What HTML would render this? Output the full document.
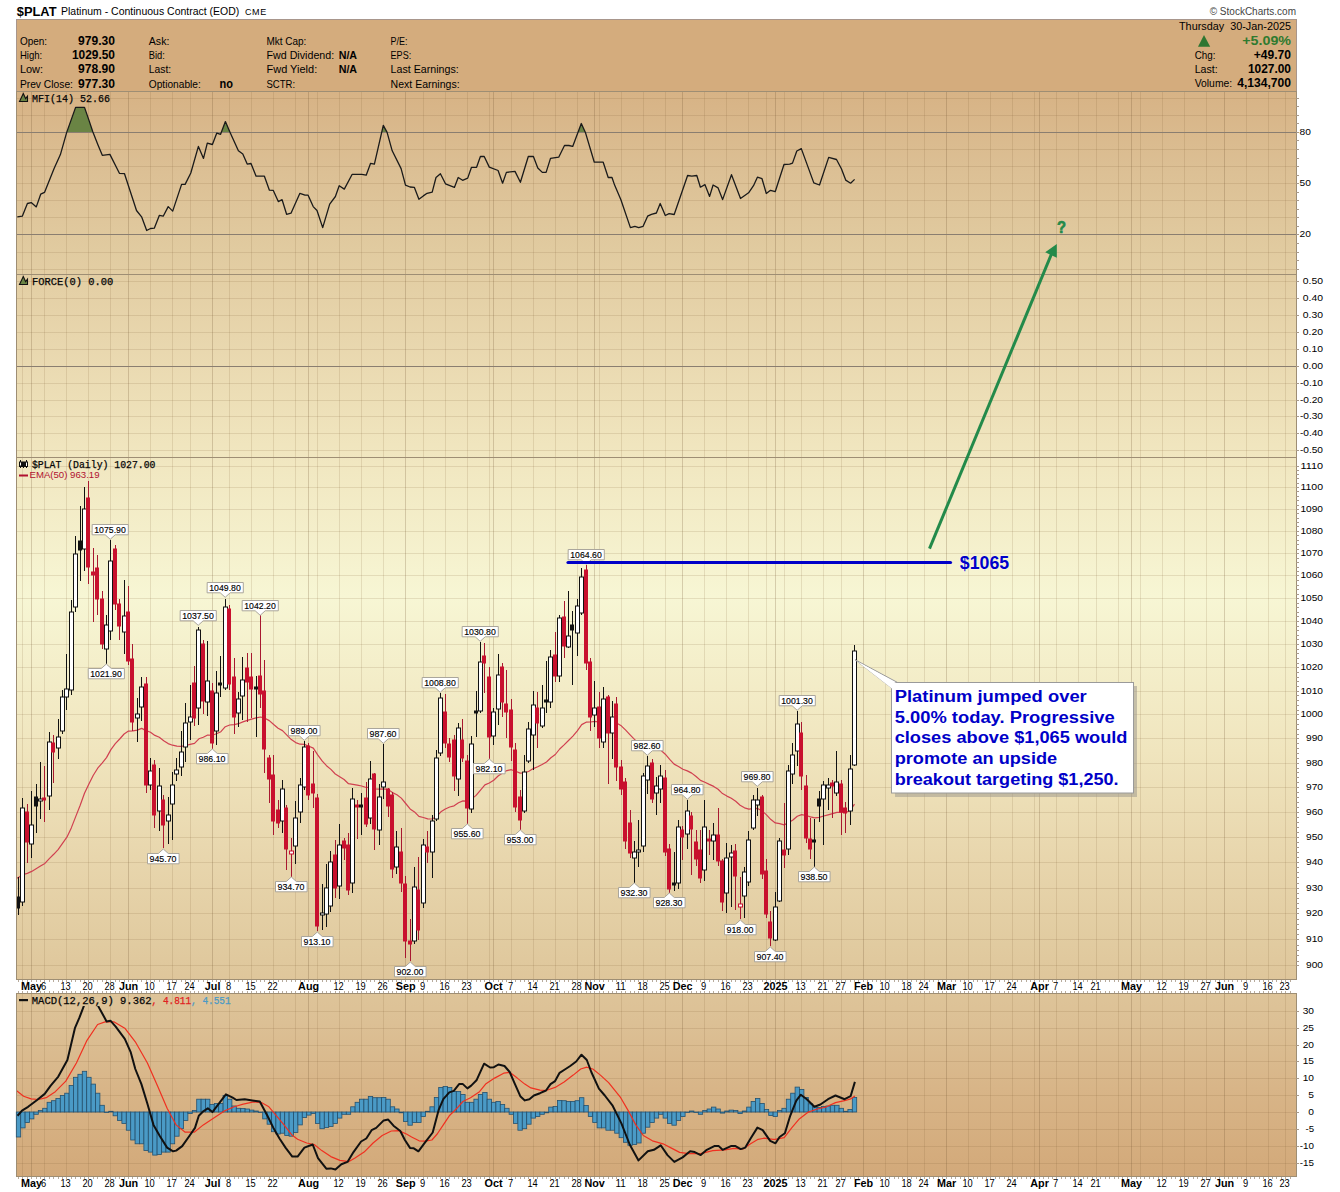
<!DOCTYPE html><html><head><meta charset="utf-8"><style>html,body{margin:0;padding:0;background:#fff;width:1340px;height:1192px;overflow:hidden;position:relative}</style></head><body><svg width="1340" height="1192" viewBox="0 0 1340 1192" style="position:absolute;left:0;top:0">
<defs>
<linearGradient id="bg" gradientUnits="userSpaceOnUse" x1="0" y1="19" x2="0" y2="1176">
<stop offset="0.0000" stop-color="#d2a97a"/>
<stop offset="0.0180" stop-color="#d4ac7d"/>
<stop offset="0.0760" stop-color="#d8b588"/>
<stop offset="0.1330" stop-color="#dcc095"/>
<stop offset="0.2000" stop-color="#e1cba0"/>
<stop offset="0.2755" stop-color="#e8d6ad"/>
<stop offset="0.3675" stop-color="#f0e5be"/>
<stop offset="0.5000" stop-color="#f7f6d4"/>
<stop offset="0.6325" stop-color="#f0e5be"/>
<stop offset="0.7245" stop-color="#e8d6ad"/>
<stop offset="0.8000" stop-color="#e1cba0"/>
<stop offset="0.8670" stop-color="#dcc095"/>
<stop offset="0.9240" stop-color="#d8b588"/>
<stop offset="0.9820" stop-color="#d4ac7d"/>
<stop offset="1.0000" stop-color="#d2a97a"/>
</linearGradient>
</defs>
<rect x="0" y="0" width="1340" height="1192" fill="#fff"/>
<rect x="16.5" y="19.5" width="1280" height="72" fill="#d4ac7d" stroke="#a8968c"/>
<rect x="16" y="91" width="1280" height="183" fill="url(#bg)"/>
<rect x="16" y="274" width="1280" height="183" fill="url(#bg)"/>
<rect x="16" y="457" width="1280" height="522" fill="url(#bg)"/>
<rect x="16" y="993" width="1280" height="183" fill="url(#bg)"/>
<line x1="1131.5" y1="91" x2="1131.5" y2="274" stroke="rgba(110,80,45,0.24)"/>
<line x1="577.5" y1="91" x2="577.5" y2="274" stroke="rgba(120,90,50,0.15)"/>
<line x1="1140.5" y1="91" x2="1140.5" y2="274" stroke="rgba(120,90,50,0.15)"/>
<line x1="22.5" y1="91" x2="22.5" y2="274" stroke="rgba(120,90,50,0.15)"/>
<line x1="31.5" y1="91" x2="31.5" y2="274" stroke="rgba(110,80,45,0.24)"/>
<line x1="599.5" y1="91" x2="599.5" y2="274" stroke="rgba(120,90,50,0.15)"/>
<line x1="1162.5" y1="91" x2="1162.5" y2="274" stroke="rgba(120,90,50,0.15)"/>
<line x1="44.5" y1="91" x2="44.5" y2="274" stroke="rgba(120,90,50,0.15)"/>
<line x1="594.5" y1="91" x2="594.5" y2="274" stroke="rgba(110,80,45,0.24)"/>
<line x1="621.5" y1="91" x2="621.5" y2="274" stroke="rgba(120,90,50,0.15)"/>
<line x1="1184.5" y1="91" x2="1184.5" y2="274" stroke="rgba(120,90,50,0.15)"/>
<line x1="66.5" y1="91" x2="66.5" y2="274" stroke="rgba(120,90,50,0.15)"/>
<line x1="643.5" y1="91" x2="643.5" y2="274" stroke="rgba(120,90,50,0.15)"/>
<line x1="1206.5" y1="91" x2="1206.5" y2="274" stroke="rgba(120,90,50,0.15)"/>
<line x1="88.5" y1="91" x2="88.5" y2="274" stroke="rgba(120,90,50,0.15)"/>
<line x1="1224.5" y1="91" x2="1224.5" y2="274" stroke="rgba(110,80,45,0.24)"/>
<line x1="665.5" y1="91" x2="665.5" y2="274" stroke="rgba(120,90,50,0.15)"/>
<line x1="110.5" y1="91" x2="110.5" y2="274" stroke="rgba(120,90,50,0.15)"/>
<line x1="682.5" y1="91" x2="682.5" y2="274" stroke="rgba(110,80,45,0.24)"/>
<line x1="1246.5" y1="91" x2="1246.5" y2="274" stroke="rgba(120,90,50,0.15)"/>
<line x1="128.5" y1="91" x2="128.5" y2="274" stroke="rgba(110,80,45,0.24)"/>
<line x1="704.5" y1="91" x2="704.5" y2="274" stroke="rgba(120,90,50,0.15)"/>
<line x1="1268.5" y1="91" x2="1268.5" y2="274" stroke="rgba(120,90,50,0.15)"/>
<line x1="150.5" y1="91" x2="150.5" y2="274" stroke="rgba(120,90,50,0.15)"/>
<line x1="1285.5" y1="91" x2="1285.5" y2="274" stroke="rgba(120,90,50,0.15)"/>
<line x1="726.5" y1="91" x2="726.5" y2="274" stroke="rgba(120,90,50,0.15)"/>
<line x1="172.5" y1="91" x2="172.5" y2="274" stroke="rgba(120,90,50,0.15)"/>
<line x1="748.5" y1="91" x2="748.5" y2="274" stroke="rgba(120,90,50,0.15)"/>
<line x1="190.5" y1="91" x2="190.5" y2="274" stroke="rgba(120,90,50,0.15)"/>
<line x1="766.5" y1="91" x2="766.5" y2="274" stroke="rgba(120,90,50,0.15)"/>
<line x1="212.5" y1="91" x2="212.5" y2="274" stroke="rgba(110,80,45,0.24)"/>
<line x1="775.5" y1="91" x2="775.5" y2="274" stroke="rgba(110,80,45,0.24)"/>
<line x1="784.5" y1="91" x2="784.5" y2="274" stroke="rgba(120,90,50,0.15)"/>
<line x1="229.5" y1="91" x2="229.5" y2="274" stroke="rgba(120,90,50,0.15)"/>
<line x1="801.5" y1="91" x2="801.5" y2="274" stroke="rgba(120,90,50,0.15)"/>
<line x1="251.5" y1="91" x2="251.5" y2="274" stroke="rgba(120,90,50,0.15)"/>
<line x1="823.5" y1="91" x2="823.5" y2="274" stroke="rgba(120,90,50,0.15)"/>
<line x1="273.5" y1="91" x2="273.5" y2="274" stroke="rgba(120,90,50,0.15)"/>
<line x1="841.5" y1="91" x2="841.5" y2="274" stroke="rgba(120,90,50,0.15)"/>
<line x1="295.5" y1="91" x2="295.5" y2="274" stroke="rgba(120,90,50,0.15)"/>
<line x1="863.5" y1="91" x2="863.5" y2="274" stroke="rgba(110,80,45,0.24)"/>
<line x1="308.5" y1="91" x2="308.5" y2="274" stroke="rgba(110,80,45,0.24)"/>
<line x1="317.5" y1="91" x2="317.5" y2="274" stroke="rgba(120,90,50,0.15)"/>
<line x1="885.5" y1="91" x2="885.5" y2="274" stroke="rgba(120,90,50,0.15)"/>
<line x1="339.5" y1="91" x2="339.5" y2="274" stroke="rgba(120,90,50,0.15)"/>
<line x1="907.5" y1="91" x2="907.5" y2="274" stroke="rgba(120,90,50,0.15)"/>
<line x1="361.5" y1="91" x2="361.5" y2="274" stroke="rgba(120,90,50,0.15)"/>
<line x1="924.5" y1="91" x2="924.5" y2="274" stroke="rgba(120,90,50,0.15)"/>
<line x1="383.5" y1="91" x2="383.5" y2="274" stroke="rgba(120,90,50,0.15)"/>
<line x1="946.5" y1="91" x2="946.5" y2="274" stroke="rgba(110,80,45,0.24)"/>
<line x1="405.5" y1="91" x2="405.5" y2="274" stroke="rgba(110,80,45,0.24)"/>
<line x1="968.5" y1="91" x2="968.5" y2="274" stroke="rgba(120,90,50,0.15)"/>
<line x1="423.5" y1="91" x2="423.5" y2="274" stroke="rgba(120,90,50,0.15)"/>
<line x1="990.5" y1="91" x2="990.5" y2="274" stroke="rgba(120,90,50,0.15)"/>
<line x1="445.5" y1="91" x2="445.5" y2="274" stroke="rgba(120,90,50,0.15)"/>
<line x1="1012.5" y1="91" x2="1012.5" y2="274" stroke="rgba(120,90,50,0.15)"/>
<line x1="1096.5" y1="91" x2="1096.5" y2="274" stroke="rgba(120,90,50,0.15)"/>
<line x1="467.5" y1="91" x2="467.5" y2="274" stroke="rgba(120,90,50,0.15)"/>
<line x1="1034.5" y1="91" x2="1034.5" y2="274" stroke="rgba(120,90,50,0.15)"/>
<line x1="1039.5" y1="91" x2="1039.5" y2="274" stroke="rgba(110,80,45,0.24)"/>
<line x1="489.5" y1="91" x2="489.5" y2="274" stroke="rgba(120,90,50,0.15)"/>
<line x1="1056.5" y1="91" x2="1056.5" y2="274" stroke="rgba(120,90,50,0.15)"/>
<line x1="493.5" y1="91" x2="493.5" y2="274" stroke="rgba(110,80,45,0.24)"/>
<line x1="511.5" y1="91" x2="511.5" y2="274" stroke="rgba(120,90,50,0.15)"/>
<line x1="1078.5" y1="91" x2="1078.5" y2="274" stroke="rgba(120,90,50,0.15)"/>
<line x1="1118.5" y1="91" x2="1118.5" y2="274" stroke="rgba(120,90,50,0.15)"/>
<line x1="533.5" y1="91" x2="533.5" y2="274" stroke="rgba(120,90,50,0.15)"/>
<line x1="555.5" y1="91" x2="555.5" y2="274" stroke="rgba(120,90,50,0.15)"/>
<line x1="1131.5" y1="274" x2="1131.5" y2="457" stroke="rgba(110,80,45,0.24)"/>
<line x1="577.5" y1="274" x2="577.5" y2="457" stroke="rgba(120,90,50,0.15)"/>
<line x1="1140.5" y1="274" x2="1140.5" y2="457" stroke="rgba(120,90,50,0.15)"/>
<line x1="22.5" y1="274" x2="22.5" y2="457" stroke="rgba(120,90,50,0.15)"/>
<line x1="31.5" y1="274" x2="31.5" y2="457" stroke="rgba(110,80,45,0.24)"/>
<line x1="599.5" y1="274" x2="599.5" y2="457" stroke="rgba(120,90,50,0.15)"/>
<line x1="1162.5" y1="274" x2="1162.5" y2="457" stroke="rgba(120,90,50,0.15)"/>
<line x1="44.5" y1="274" x2="44.5" y2="457" stroke="rgba(120,90,50,0.15)"/>
<line x1="594.5" y1="274" x2="594.5" y2="457" stroke="rgba(110,80,45,0.24)"/>
<line x1="621.5" y1="274" x2="621.5" y2="457" stroke="rgba(120,90,50,0.15)"/>
<line x1="1184.5" y1="274" x2="1184.5" y2="457" stroke="rgba(120,90,50,0.15)"/>
<line x1="66.5" y1="274" x2="66.5" y2="457" stroke="rgba(120,90,50,0.15)"/>
<line x1="643.5" y1="274" x2="643.5" y2="457" stroke="rgba(120,90,50,0.15)"/>
<line x1="1206.5" y1="274" x2="1206.5" y2="457" stroke="rgba(120,90,50,0.15)"/>
<line x1="88.5" y1="274" x2="88.5" y2="457" stroke="rgba(120,90,50,0.15)"/>
<line x1="1224.5" y1="274" x2="1224.5" y2="457" stroke="rgba(110,80,45,0.24)"/>
<line x1="665.5" y1="274" x2="665.5" y2="457" stroke="rgba(120,90,50,0.15)"/>
<line x1="110.5" y1="274" x2="110.5" y2="457" stroke="rgba(120,90,50,0.15)"/>
<line x1="682.5" y1="274" x2="682.5" y2="457" stroke="rgba(110,80,45,0.24)"/>
<line x1="1246.5" y1="274" x2="1246.5" y2="457" stroke="rgba(120,90,50,0.15)"/>
<line x1="128.5" y1="274" x2="128.5" y2="457" stroke="rgba(110,80,45,0.24)"/>
<line x1="704.5" y1="274" x2="704.5" y2="457" stroke="rgba(120,90,50,0.15)"/>
<line x1="1268.5" y1="274" x2="1268.5" y2="457" stroke="rgba(120,90,50,0.15)"/>
<line x1="150.5" y1="274" x2="150.5" y2="457" stroke="rgba(120,90,50,0.15)"/>
<line x1="1285.5" y1="274" x2="1285.5" y2="457" stroke="rgba(120,90,50,0.15)"/>
<line x1="726.5" y1="274" x2="726.5" y2="457" stroke="rgba(120,90,50,0.15)"/>
<line x1="172.5" y1="274" x2="172.5" y2="457" stroke="rgba(120,90,50,0.15)"/>
<line x1="748.5" y1="274" x2="748.5" y2="457" stroke="rgba(120,90,50,0.15)"/>
<line x1="190.5" y1="274" x2="190.5" y2="457" stroke="rgba(120,90,50,0.15)"/>
<line x1="766.5" y1="274" x2="766.5" y2="457" stroke="rgba(120,90,50,0.15)"/>
<line x1="212.5" y1="274" x2="212.5" y2="457" stroke="rgba(110,80,45,0.24)"/>
<line x1="775.5" y1="274" x2="775.5" y2="457" stroke="rgba(110,80,45,0.24)"/>
<line x1="784.5" y1="274" x2="784.5" y2="457" stroke="rgba(120,90,50,0.15)"/>
<line x1="229.5" y1="274" x2="229.5" y2="457" stroke="rgba(120,90,50,0.15)"/>
<line x1="801.5" y1="274" x2="801.5" y2="457" stroke="rgba(120,90,50,0.15)"/>
<line x1="251.5" y1="274" x2="251.5" y2="457" stroke="rgba(120,90,50,0.15)"/>
<line x1="823.5" y1="274" x2="823.5" y2="457" stroke="rgba(120,90,50,0.15)"/>
<line x1="273.5" y1="274" x2="273.5" y2="457" stroke="rgba(120,90,50,0.15)"/>
<line x1="841.5" y1="274" x2="841.5" y2="457" stroke="rgba(120,90,50,0.15)"/>
<line x1="295.5" y1="274" x2="295.5" y2="457" stroke="rgba(120,90,50,0.15)"/>
<line x1="863.5" y1="274" x2="863.5" y2="457" stroke="rgba(110,80,45,0.24)"/>
<line x1="308.5" y1="274" x2="308.5" y2="457" stroke="rgba(110,80,45,0.24)"/>
<line x1="317.5" y1="274" x2="317.5" y2="457" stroke="rgba(120,90,50,0.15)"/>
<line x1="885.5" y1="274" x2="885.5" y2="457" stroke="rgba(120,90,50,0.15)"/>
<line x1="339.5" y1="274" x2="339.5" y2="457" stroke="rgba(120,90,50,0.15)"/>
<line x1="907.5" y1="274" x2="907.5" y2="457" stroke="rgba(120,90,50,0.15)"/>
<line x1="361.5" y1="274" x2="361.5" y2="457" stroke="rgba(120,90,50,0.15)"/>
<line x1="924.5" y1="274" x2="924.5" y2="457" stroke="rgba(120,90,50,0.15)"/>
<line x1="383.5" y1="274" x2="383.5" y2="457" stroke="rgba(120,90,50,0.15)"/>
<line x1="946.5" y1="274" x2="946.5" y2="457" stroke="rgba(110,80,45,0.24)"/>
<line x1="405.5" y1="274" x2="405.5" y2="457" stroke="rgba(110,80,45,0.24)"/>
<line x1="968.5" y1="274" x2="968.5" y2="457" stroke="rgba(120,90,50,0.15)"/>
<line x1="423.5" y1="274" x2="423.5" y2="457" stroke="rgba(120,90,50,0.15)"/>
<line x1="990.5" y1="274" x2="990.5" y2="457" stroke="rgba(120,90,50,0.15)"/>
<line x1="445.5" y1="274" x2="445.5" y2="457" stroke="rgba(120,90,50,0.15)"/>
<line x1="1012.5" y1="274" x2="1012.5" y2="457" stroke="rgba(120,90,50,0.15)"/>
<line x1="1096.5" y1="274" x2="1096.5" y2="457" stroke="rgba(120,90,50,0.15)"/>
<line x1="467.5" y1="274" x2="467.5" y2="457" stroke="rgba(120,90,50,0.15)"/>
<line x1="1034.5" y1="274" x2="1034.5" y2="457" stroke="rgba(120,90,50,0.15)"/>
<line x1="1039.5" y1="274" x2="1039.5" y2="457" stroke="rgba(110,80,45,0.24)"/>
<line x1="489.5" y1="274" x2="489.5" y2="457" stroke="rgba(120,90,50,0.15)"/>
<line x1="1056.5" y1="274" x2="1056.5" y2="457" stroke="rgba(120,90,50,0.15)"/>
<line x1="493.5" y1="274" x2="493.5" y2="457" stroke="rgba(110,80,45,0.24)"/>
<line x1="511.5" y1="274" x2="511.5" y2="457" stroke="rgba(120,90,50,0.15)"/>
<line x1="1078.5" y1="274" x2="1078.5" y2="457" stroke="rgba(120,90,50,0.15)"/>
<line x1="1118.5" y1="274" x2="1118.5" y2="457" stroke="rgba(120,90,50,0.15)"/>
<line x1="533.5" y1="274" x2="533.5" y2="457" stroke="rgba(120,90,50,0.15)"/>
<line x1="555.5" y1="274" x2="555.5" y2="457" stroke="rgba(120,90,50,0.15)"/>
<line x1="1131.5" y1="457" x2="1131.5" y2="979" stroke="rgba(110,80,45,0.24)"/>
<line x1="577.5" y1="457" x2="577.5" y2="979" stroke="rgba(120,90,50,0.15)"/>
<line x1="1140.5" y1="457" x2="1140.5" y2="979" stroke="rgba(120,90,50,0.15)"/>
<line x1="22.5" y1="457" x2="22.5" y2="979" stroke="rgba(120,90,50,0.15)"/>
<line x1="31.5" y1="457" x2="31.5" y2="979" stroke="rgba(110,80,45,0.24)"/>
<line x1="599.5" y1="457" x2="599.5" y2="979" stroke="rgba(120,90,50,0.15)"/>
<line x1="1162.5" y1="457" x2="1162.5" y2="979" stroke="rgba(120,90,50,0.15)"/>
<line x1="44.5" y1="457" x2="44.5" y2="979" stroke="rgba(120,90,50,0.15)"/>
<line x1="594.5" y1="457" x2="594.5" y2="979" stroke="rgba(110,80,45,0.24)"/>
<line x1="621.5" y1="457" x2="621.5" y2="979" stroke="rgba(120,90,50,0.15)"/>
<line x1="1184.5" y1="457" x2="1184.5" y2="979" stroke="rgba(120,90,50,0.15)"/>
<line x1="66.5" y1="457" x2="66.5" y2="979" stroke="rgba(120,90,50,0.15)"/>
<line x1="643.5" y1="457" x2="643.5" y2="979" stroke="rgba(120,90,50,0.15)"/>
<line x1="1206.5" y1="457" x2="1206.5" y2="979" stroke="rgba(120,90,50,0.15)"/>
<line x1="88.5" y1="457" x2="88.5" y2="979" stroke="rgba(120,90,50,0.15)"/>
<line x1="1224.5" y1="457" x2="1224.5" y2="979" stroke="rgba(110,80,45,0.24)"/>
<line x1="665.5" y1="457" x2="665.5" y2="979" stroke="rgba(120,90,50,0.15)"/>
<line x1="110.5" y1="457" x2="110.5" y2="979" stroke="rgba(120,90,50,0.15)"/>
<line x1="682.5" y1="457" x2="682.5" y2="979" stroke="rgba(110,80,45,0.24)"/>
<line x1="1246.5" y1="457" x2="1246.5" y2="979" stroke="rgba(120,90,50,0.15)"/>
<line x1="128.5" y1="457" x2="128.5" y2="979" stroke="rgba(110,80,45,0.24)"/>
<line x1="704.5" y1="457" x2="704.5" y2="979" stroke="rgba(120,90,50,0.15)"/>
<line x1="1268.5" y1="457" x2="1268.5" y2="979" stroke="rgba(120,90,50,0.15)"/>
<line x1="150.5" y1="457" x2="150.5" y2="979" stroke="rgba(120,90,50,0.15)"/>
<line x1="1285.5" y1="457" x2="1285.5" y2="979" stroke="rgba(120,90,50,0.15)"/>
<line x1="726.5" y1="457" x2="726.5" y2="979" stroke="rgba(120,90,50,0.15)"/>
<line x1="172.5" y1="457" x2="172.5" y2="979" stroke="rgba(120,90,50,0.15)"/>
<line x1="748.5" y1="457" x2="748.5" y2="979" stroke="rgba(120,90,50,0.15)"/>
<line x1="190.5" y1="457" x2="190.5" y2="979" stroke="rgba(120,90,50,0.15)"/>
<line x1="766.5" y1="457" x2="766.5" y2="979" stroke="rgba(120,90,50,0.15)"/>
<line x1="212.5" y1="457" x2="212.5" y2="979" stroke="rgba(110,80,45,0.24)"/>
<line x1="775.5" y1="457" x2="775.5" y2="979" stroke="rgba(110,80,45,0.24)"/>
<line x1="784.5" y1="457" x2="784.5" y2="979" stroke="rgba(120,90,50,0.15)"/>
<line x1="229.5" y1="457" x2="229.5" y2="979" stroke="rgba(120,90,50,0.15)"/>
<line x1="801.5" y1="457" x2="801.5" y2="979" stroke="rgba(120,90,50,0.15)"/>
<line x1="251.5" y1="457" x2="251.5" y2="979" stroke="rgba(120,90,50,0.15)"/>
<line x1="823.5" y1="457" x2="823.5" y2="979" stroke="rgba(120,90,50,0.15)"/>
<line x1="273.5" y1="457" x2="273.5" y2="979" stroke="rgba(120,90,50,0.15)"/>
<line x1="841.5" y1="457" x2="841.5" y2="979" stroke="rgba(120,90,50,0.15)"/>
<line x1="295.5" y1="457" x2="295.5" y2="979" stroke="rgba(120,90,50,0.15)"/>
<line x1="863.5" y1="457" x2="863.5" y2="979" stroke="rgba(110,80,45,0.24)"/>
<line x1="308.5" y1="457" x2="308.5" y2="979" stroke="rgba(110,80,45,0.24)"/>
<line x1="317.5" y1="457" x2="317.5" y2="979" stroke="rgba(120,90,50,0.15)"/>
<line x1="885.5" y1="457" x2="885.5" y2="979" stroke="rgba(120,90,50,0.15)"/>
<line x1="339.5" y1="457" x2="339.5" y2="979" stroke="rgba(120,90,50,0.15)"/>
<line x1="907.5" y1="457" x2="907.5" y2="979" stroke="rgba(120,90,50,0.15)"/>
<line x1="361.5" y1="457" x2="361.5" y2="979" stroke="rgba(120,90,50,0.15)"/>
<line x1="924.5" y1="457" x2="924.5" y2="979" stroke="rgba(120,90,50,0.15)"/>
<line x1="383.5" y1="457" x2="383.5" y2="979" stroke="rgba(120,90,50,0.15)"/>
<line x1="946.5" y1="457" x2="946.5" y2="979" stroke="rgba(110,80,45,0.24)"/>
<line x1="405.5" y1="457" x2="405.5" y2="979" stroke="rgba(110,80,45,0.24)"/>
<line x1="968.5" y1="457" x2="968.5" y2="979" stroke="rgba(120,90,50,0.15)"/>
<line x1="423.5" y1="457" x2="423.5" y2="979" stroke="rgba(120,90,50,0.15)"/>
<line x1="990.5" y1="457" x2="990.5" y2="979" stroke="rgba(120,90,50,0.15)"/>
<line x1="445.5" y1="457" x2="445.5" y2="979" stroke="rgba(120,90,50,0.15)"/>
<line x1="1012.5" y1="457" x2="1012.5" y2="979" stroke="rgba(120,90,50,0.15)"/>
<line x1="1096.5" y1="457" x2="1096.5" y2="979" stroke="rgba(120,90,50,0.15)"/>
<line x1="467.5" y1="457" x2="467.5" y2="979" stroke="rgba(120,90,50,0.15)"/>
<line x1="1034.5" y1="457" x2="1034.5" y2="979" stroke="rgba(120,90,50,0.15)"/>
<line x1="1039.5" y1="457" x2="1039.5" y2="979" stroke="rgba(110,80,45,0.24)"/>
<line x1="489.5" y1="457" x2="489.5" y2="979" stroke="rgba(120,90,50,0.15)"/>
<line x1="1056.5" y1="457" x2="1056.5" y2="979" stroke="rgba(120,90,50,0.15)"/>
<line x1="493.5" y1="457" x2="493.5" y2="979" stroke="rgba(110,80,45,0.24)"/>
<line x1="511.5" y1="457" x2="511.5" y2="979" stroke="rgba(120,90,50,0.15)"/>
<line x1="1078.5" y1="457" x2="1078.5" y2="979" stroke="rgba(120,90,50,0.15)"/>
<line x1="1118.5" y1="457" x2="1118.5" y2="979" stroke="rgba(120,90,50,0.15)"/>
<line x1="533.5" y1="457" x2="533.5" y2="979" stroke="rgba(120,90,50,0.15)"/>
<line x1="555.5" y1="457" x2="555.5" y2="979" stroke="rgba(120,90,50,0.15)"/>
<line x1="1131.5" y1="993" x2="1131.5" y2="1176" stroke="rgba(110,80,45,0.24)"/>
<line x1="577.5" y1="993" x2="577.5" y2="1176" stroke="rgba(120,90,50,0.15)"/>
<line x1="1140.5" y1="993" x2="1140.5" y2="1176" stroke="rgba(120,90,50,0.15)"/>
<line x1="22.5" y1="993" x2="22.5" y2="1176" stroke="rgba(120,90,50,0.15)"/>
<line x1="31.5" y1="993" x2="31.5" y2="1176" stroke="rgba(110,80,45,0.24)"/>
<line x1="599.5" y1="993" x2="599.5" y2="1176" stroke="rgba(120,90,50,0.15)"/>
<line x1="1162.5" y1="993" x2="1162.5" y2="1176" stroke="rgba(120,90,50,0.15)"/>
<line x1="44.5" y1="993" x2="44.5" y2="1176" stroke="rgba(120,90,50,0.15)"/>
<line x1="594.5" y1="993" x2="594.5" y2="1176" stroke="rgba(110,80,45,0.24)"/>
<line x1="621.5" y1="993" x2="621.5" y2="1176" stroke="rgba(120,90,50,0.15)"/>
<line x1="1184.5" y1="993" x2="1184.5" y2="1176" stroke="rgba(120,90,50,0.15)"/>
<line x1="66.5" y1="993" x2="66.5" y2="1176" stroke="rgba(120,90,50,0.15)"/>
<line x1="643.5" y1="993" x2="643.5" y2="1176" stroke="rgba(120,90,50,0.15)"/>
<line x1="1206.5" y1="993" x2="1206.5" y2="1176" stroke="rgba(120,90,50,0.15)"/>
<line x1="88.5" y1="993" x2="88.5" y2="1176" stroke="rgba(120,90,50,0.15)"/>
<line x1="1224.5" y1="993" x2="1224.5" y2="1176" stroke="rgba(110,80,45,0.24)"/>
<line x1="665.5" y1="993" x2="665.5" y2="1176" stroke="rgba(120,90,50,0.15)"/>
<line x1="110.5" y1="993" x2="110.5" y2="1176" stroke="rgba(120,90,50,0.15)"/>
<line x1="682.5" y1="993" x2="682.5" y2="1176" stroke="rgba(110,80,45,0.24)"/>
<line x1="1246.5" y1="993" x2="1246.5" y2="1176" stroke="rgba(120,90,50,0.15)"/>
<line x1="128.5" y1="993" x2="128.5" y2="1176" stroke="rgba(110,80,45,0.24)"/>
<line x1="704.5" y1="993" x2="704.5" y2="1176" stroke="rgba(120,90,50,0.15)"/>
<line x1="1268.5" y1="993" x2="1268.5" y2="1176" stroke="rgba(120,90,50,0.15)"/>
<line x1="150.5" y1="993" x2="150.5" y2="1176" stroke="rgba(120,90,50,0.15)"/>
<line x1="1285.5" y1="993" x2="1285.5" y2="1176" stroke="rgba(120,90,50,0.15)"/>
<line x1="726.5" y1="993" x2="726.5" y2="1176" stroke="rgba(120,90,50,0.15)"/>
<line x1="172.5" y1="993" x2="172.5" y2="1176" stroke="rgba(120,90,50,0.15)"/>
<line x1="748.5" y1="993" x2="748.5" y2="1176" stroke="rgba(120,90,50,0.15)"/>
<line x1="190.5" y1="993" x2="190.5" y2="1176" stroke="rgba(120,90,50,0.15)"/>
<line x1="766.5" y1="993" x2="766.5" y2="1176" stroke="rgba(120,90,50,0.15)"/>
<line x1="212.5" y1="993" x2="212.5" y2="1176" stroke="rgba(110,80,45,0.24)"/>
<line x1="775.5" y1="993" x2="775.5" y2="1176" stroke="rgba(110,80,45,0.24)"/>
<line x1="784.5" y1="993" x2="784.5" y2="1176" stroke="rgba(120,90,50,0.15)"/>
<line x1="229.5" y1="993" x2="229.5" y2="1176" stroke="rgba(120,90,50,0.15)"/>
<line x1="801.5" y1="993" x2="801.5" y2="1176" stroke="rgba(120,90,50,0.15)"/>
<line x1="251.5" y1="993" x2="251.5" y2="1176" stroke="rgba(120,90,50,0.15)"/>
<line x1="823.5" y1="993" x2="823.5" y2="1176" stroke="rgba(120,90,50,0.15)"/>
<line x1="273.5" y1="993" x2="273.5" y2="1176" stroke="rgba(120,90,50,0.15)"/>
<line x1="841.5" y1="993" x2="841.5" y2="1176" stroke="rgba(120,90,50,0.15)"/>
<line x1="295.5" y1="993" x2="295.5" y2="1176" stroke="rgba(120,90,50,0.15)"/>
<line x1="863.5" y1="993" x2="863.5" y2="1176" stroke="rgba(110,80,45,0.24)"/>
<line x1="308.5" y1="993" x2="308.5" y2="1176" stroke="rgba(110,80,45,0.24)"/>
<line x1="317.5" y1="993" x2="317.5" y2="1176" stroke="rgba(120,90,50,0.15)"/>
<line x1="885.5" y1="993" x2="885.5" y2="1176" stroke="rgba(120,90,50,0.15)"/>
<line x1="339.5" y1="993" x2="339.5" y2="1176" stroke="rgba(120,90,50,0.15)"/>
<line x1="907.5" y1="993" x2="907.5" y2="1176" stroke="rgba(120,90,50,0.15)"/>
<line x1="361.5" y1="993" x2="361.5" y2="1176" stroke="rgba(120,90,50,0.15)"/>
<line x1="924.5" y1="993" x2="924.5" y2="1176" stroke="rgba(120,90,50,0.15)"/>
<line x1="383.5" y1="993" x2="383.5" y2="1176" stroke="rgba(120,90,50,0.15)"/>
<line x1="946.5" y1="993" x2="946.5" y2="1176" stroke="rgba(110,80,45,0.24)"/>
<line x1="405.5" y1="993" x2="405.5" y2="1176" stroke="rgba(110,80,45,0.24)"/>
<line x1="968.5" y1="993" x2="968.5" y2="1176" stroke="rgba(120,90,50,0.15)"/>
<line x1="423.5" y1="993" x2="423.5" y2="1176" stroke="rgba(120,90,50,0.15)"/>
<line x1="990.5" y1="993" x2="990.5" y2="1176" stroke="rgba(120,90,50,0.15)"/>
<line x1="445.5" y1="993" x2="445.5" y2="1176" stroke="rgba(120,90,50,0.15)"/>
<line x1="1012.5" y1="993" x2="1012.5" y2="1176" stroke="rgba(120,90,50,0.15)"/>
<line x1="1096.5" y1="993" x2="1096.5" y2="1176" stroke="rgba(120,90,50,0.15)"/>
<line x1="467.5" y1="993" x2="467.5" y2="1176" stroke="rgba(120,90,50,0.15)"/>
<line x1="1034.5" y1="993" x2="1034.5" y2="1176" stroke="rgba(120,90,50,0.15)"/>
<line x1="1039.5" y1="993" x2="1039.5" y2="1176" stroke="rgba(110,80,45,0.24)"/>
<line x1="489.5" y1="993" x2="489.5" y2="1176" stroke="rgba(120,90,50,0.15)"/>
<line x1="1056.5" y1="993" x2="1056.5" y2="1176" stroke="rgba(120,90,50,0.15)"/>
<line x1="493.5" y1="993" x2="493.5" y2="1176" stroke="rgba(110,80,45,0.24)"/>
<line x1="511.5" y1="993" x2="511.5" y2="1176" stroke="rgba(120,90,50,0.15)"/>
<line x1="1078.5" y1="993" x2="1078.5" y2="1176" stroke="rgba(120,90,50,0.15)"/>
<line x1="1118.5" y1="993" x2="1118.5" y2="1176" stroke="rgba(120,90,50,0.15)"/>
<line x1="533.5" y1="993" x2="533.5" y2="1176" stroke="rgba(120,90,50,0.15)"/>
<line x1="555.5" y1="993" x2="555.5" y2="1176" stroke="rgba(120,90,50,0.15)"/>
<line x1="16" y1="269.5" x2="1296" y2="269.5" stroke="rgba(120,90,50,0.15)"/>
<line x1="16" y1="252.5" x2="1296" y2="252.5" stroke="rgba(120,90,50,0.15)"/>
<line x1="16" y1="234.5" x2="1296" y2="234.5" stroke="#8a7e70"/>
<line x1="16" y1="217.5" x2="1296" y2="217.5" stroke="rgba(120,90,50,0.15)"/>
<line x1="16" y1="200.5" x2="1296" y2="200.5" stroke="rgba(120,90,50,0.15)"/>
<line x1="16" y1="183.5" x2="1296" y2="183.5" stroke="rgba(120,90,50,0.15)"/>
<line x1="16" y1="166.5" x2="1296" y2="166.5" stroke="rgba(120,90,50,0.15)"/>
<line x1="16" y1="149.5" x2="1296" y2="149.5" stroke="rgba(120,90,50,0.15)"/>
<line x1="16" y1="132.5" x2="1296" y2="132.5" stroke="#8a7e70"/>
<line x1="16" y1="115.5" x2="1296" y2="115.5" stroke="rgba(120,90,50,0.15)"/>
<line x1="16" y1="98.5" x2="1296" y2="98.5" stroke="rgba(120,90,50,0.15)"/>
<line x1="16" y1="450.5" x2="1296" y2="450.5" stroke="rgba(120,90,50,0.15)"/>
<line x1="16" y1="433.5" x2="1296" y2="433.5" stroke="rgba(120,90,50,0.15)"/>
<line x1="16" y1="416.5" x2="1296" y2="416.5" stroke="rgba(120,90,50,0.15)"/>
<line x1="16" y1="400.5" x2="1296" y2="400.5" stroke="rgba(120,90,50,0.15)"/>
<line x1="16" y1="383.5" x2="1296" y2="383.5" stroke="rgba(120,90,50,0.15)"/>
<line x1="16" y1="366.5" x2="1296" y2="366.5" stroke="#8a7e70"/>
<line x1="16" y1="349.5" x2="1296" y2="349.5" stroke="rgba(120,90,50,0.15)"/>
<line x1="16" y1="332.5" x2="1296" y2="332.5" stroke="rgba(120,90,50,0.15)"/>
<line x1="16" y1="315.5" x2="1296" y2="315.5" stroke="rgba(120,90,50,0.15)"/>
<line x1="16" y1="298.5" x2="1296" y2="298.5" stroke="rgba(120,90,50,0.15)"/>
<line x1="16" y1="281.5" x2="1296" y2="281.5" stroke="rgba(120,90,50,0.15)"/>
<line x1="16" y1="965.5" x2="1296" y2="965.5" stroke="rgba(120,90,50,0.15)"/>
<line x1="16" y1="939.5" x2="1296" y2="939.5" stroke="rgba(120,90,50,0.15)"/>
<line x1="16" y1="913.5" x2="1296" y2="913.5" stroke="rgba(120,90,50,0.15)"/>
<line x1="16" y1="888.5" x2="1296" y2="888.5" stroke="rgba(120,90,50,0.15)"/>
<line x1="16" y1="862.5" x2="1296" y2="862.5" stroke="rgba(120,90,50,0.15)"/>
<line x1="16" y1="837.5" x2="1296" y2="837.5" stroke="rgba(120,90,50,0.15)"/>
<line x1="16" y1="812.5" x2="1296" y2="812.5" stroke="rgba(120,90,50,0.15)"/>
<line x1="16" y1="787.5" x2="1296" y2="787.5" stroke="rgba(120,90,50,0.15)"/>
<line x1="16" y1="763.5" x2="1296" y2="763.5" stroke="rgba(120,90,50,0.15)"/>
<line x1="16" y1="738.5" x2="1296" y2="738.5" stroke="rgba(120,90,50,0.15)"/>
<line x1="16" y1="714.5" x2="1296" y2="714.5" stroke="rgba(120,90,50,0.15)"/>
<line x1="16" y1="691.5" x2="1296" y2="691.5" stroke="rgba(120,90,50,0.15)"/>
<line x1="16" y1="667.5" x2="1296" y2="667.5" stroke="rgba(120,90,50,0.15)"/>
<line x1="16" y1="644.5" x2="1296" y2="644.5" stroke="rgba(120,90,50,0.15)"/>
<line x1="16" y1="621.5" x2="1296" y2="621.5" stroke="rgba(120,90,50,0.15)"/>
<line x1="16" y1="598.5" x2="1296" y2="598.5" stroke="rgba(120,90,50,0.15)"/>
<line x1="16" y1="575.5" x2="1296" y2="575.5" stroke="rgba(120,90,50,0.15)"/>
<line x1="16" y1="553.5" x2="1296" y2="553.5" stroke="rgba(120,90,50,0.15)"/>
<line x1="16" y1="531.5" x2="1296" y2="531.5" stroke="rgba(120,90,50,0.15)"/>
<line x1="16" y1="509.5" x2="1296" y2="509.5" stroke="rgba(120,90,50,0.15)"/>
<line x1="16" y1="487.5" x2="1296" y2="487.5" stroke="rgba(120,90,50,0.15)"/>
<line x1="16" y1="466.5" x2="1296" y2="466.5" stroke="rgba(120,90,50,0.15)"/>
<line x1="16" y1="1163.5" x2="1296" y2="1163.5" stroke="rgba(120,90,50,0.15)"/>
<line x1="16" y1="1146.5" x2="1296" y2="1146.5" stroke="rgba(120,90,50,0.15)"/>
<line x1="16" y1="1129.5" x2="1296" y2="1129.5" stroke="rgba(120,90,50,0.15)"/>
<line x1="16" y1="1112.5" x2="1296" y2="1112.5" stroke="rgba(120,90,50,0.15)"/>
<line x1="16" y1="1095.5" x2="1296" y2="1095.5" stroke="rgba(120,90,50,0.15)"/>
<line x1="16" y1="1078.5" x2="1296" y2="1078.5" stroke="rgba(120,90,50,0.15)"/>
<line x1="16" y1="1061.5" x2="1296" y2="1061.5" stroke="rgba(120,90,50,0.15)"/>
<line x1="16" y1="1045.5" x2="1296" y2="1045.5" stroke="rgba(120,90,50,0.15)"/>
<line x1="16" y1="1028.5" x2="1296" y2="1028.5" stroke="rgba(120,90,50,0.15)"/>
<line x1="16" y1="1011.5" x2="1296" y2="1011.5" stroke="rgba(120,90,50,0.15)"/>
<rect x="16.5" y="91.5" width="1280" height="183" fill="none" stroke="#9e8e74"/>
<rect x="16.5" y="274.5" width="1280" height="183" fill="none" stroke="#9e8e74"/>
<rect x="16.5" y="457.5" width="1280" height="522" fill="none" stroke="#9e8e74"/>
<rect x="16.5" y="993.5" width="1280" height="183" fill="none" stroke="#9e8e74"/>
<line x1="1296" y1="269.5" x2="1299" y2="269.5" stroke="#a89a8a"/>
<line x1="1296" y1="260.5" x2="1299" y2="260.5" stroke="#a89a8a"/>
<line x1="1296" y1="252.5" x2="1299" y2="252.5" stroke="#a89a8a"/>
<line x1="1296" y1="243.5" x2="1299" y2="243.5" stroke="#a89a8a"/>
<line x1="1296" y1="234.5" x2="1299" y2="234.5" stroke="#a89a8a"/>
<text x="1299.5" y="237.4" font-family="Liberation Sans, sans-serif" font-size="9" textLength="11.3" lengthAdjust="spacingAndGlyphs">20</text>
<line x1="1296" y1="226.5" x2="1299" y2="226.5" stroke="#a89a8a"/>
<line x1="1296" y1="217.5" x2="1299" y2="217.5" stroke="#a89a8a"/>
<line x1="1296" y1="209.5" x2="1299" y2="209.5" stroke="#a89a8a"/>
<line x1="1296" y1="200.5" x2="1299" y2="200.5" stroke="#a89a8a"/>
<line x1="1296" y1="192.5" x2="1299" y2="192.5" stroke="#a89a8a"/>
<line x1="1296" y1="183.5" x2="1299" y2="183.5" stroke="#a89a8a"/>
<text x="1299.5" y="186.4" font-family="Liberation Sans, sans-serif" font-size="9" textLength="11.3" lengthAdjust="spacingAndGlyphs">50</text>
<line x1="1296" y1="175.5" x2="1299" y2="175.5" stroke="#a89a8a"/>
<line x1="1296" y1="166.5" x2="1299" y2="166.5" stroke="#a89a8a"/>
<line x1="1296" y1="158.5" x2="1299" y2="158.5" stroke="#a89a8a"/>
<line x1="1296" y1="149.5" x2="1299" y2="149.5" stroke="#a89a8a"/>
<line x1="1296" y1="140.5" x2="1299" y2="140.5" stroke="#a89a8a"/>
<line x1="1296" y1="132.5" x2="1299" y2="132.5" stroke="#a89a8a"/>
<text x="1299.5" y="135.4" font-family="Liberation Sans, sans-serif" font-size="9" textLength="11.3" lengthAdjust="spacingAndGlyphs">80</text>
<line x1="1296" y1="123.5" x2="1299" y2="123.5" stroke="#a89a8a"/>
<line x1="1296" y1="115.5" x2="1299" y2="115.5" stroke="#a89a8a"/>
<line x1="1296" y1="106.5" x2="1299" y2="106.5" stroke="#a89a8a"/>
<line x1="1296" y1="98.5" x2="1299" y2="98.5" stroke="#a89a8a"/>
<line x1="1296" y1="450.5" x2="1299" y2="450.5" stroke="#a89a8a"/>
<text x="1299.9" y="453.4" font-family="Liberation Sans, sans-serif" font-size="9" textLength="23.1" lengthAdjust="spacingAndGlyphs">-0.50</text>
<line x1="1296" y1="433.5" x2="1299" y2="433.5" stroke="#a89a8a"/>
<text x="1299.9" y="436.4" font-family="Liberation Sans, sans-serif" font-size="9" textLength="23.1" lengthAdjust="spacingAndGlyphs">-0.40</text>
<line x1="1296" y1="416.5" x2="1299" y2="416.5" stroke="#a89a8a"/>
<text x="1299.9" y="419.4" font-family="Liberation Sans, sans-serif" font-size="9" textLength="23.1" lengthAdjust="spacingAndGlyphs">-0.30</text>
<line x1="1296" y1="400.5" x2="1299" y2="400.5" stroke="#a89a8a"/>
<text x="1299.9" y="403.4" font-family="Liberation Sans, sans-serif" font-size="9" textLength="23.1" lengthAdjust="spacingAndGlyphs">-0.20</text>
<line x1="1296" y1="383.5" x2="1299" y2="383.5" stroke="#a89a8a"/>
<text x="1299.9" y="386.4" font-family="Liberation Sans, sans-serif" font-size="9" textLength="23.1" lengthAdjust="spacingAndGlyphs">-0.10</text>
<line x1="1296" y1="366.5" x2="1299" y2="366.5" stroke="#a89a8a"/>
<text x="1302.8" y="369.4" font-family="Liberation Sans, sans-serif" font-size="9" textLength="20.2" lengthAdjust="spacingAndGlyphs">0.00</text>
<line x1="1296" y1="349.5" x2="1299" y2="349.5" stroke="#a89a8a"/>
<text x="1302.8" y="352.4" font-family="Liberation Sans, sans-serif" font-size="9" textLength="20.2" lengthAdjust="spacingAndGlyphs">0.10</text>
<line x1="1296" y1="332.5" x2="1299" y2="332.5" stroke="#a89a8a"/>
<text x="1302.8" y="335.4" font-family="Liberation Sans, sans-serif" font-size="9" textLength="20.2" lengthAdjust="spacingAndGlyphs">0.20</text>
<line x1="1296" y1="315.5" x2="1299" y2="315.5" stroke="#a89a8a"/>
<text x="1302.8" y="318.4" font-family="Liberation Sans, sans-serif" font-size="9" textLength="20.2" lengthAdjust="spacingAndGlyphs">0.30</text>
<line x1="1296" y1="298.5" x2="1299" y2="298.5" stroke="#a89a8a"/>
<text x="1302.8" y="301.4" font-family="Liberation Sans, sans-serif" font-size="9" textLength="20.2" lengthAdjust="spacingAndGlyphs">0.40</text>
<line x1="1296" y1="281.5" x2="1299" y2="281.5" stroke="#a89a8a"/>
<text x="1302.8" y="284.4" font-family="Liberation Sans, sans-serif" font-size="9" textLength="20.2" lengthAdjust="spacingAndGlyphs">0.50</text>
<line x1="1296" y1="965.5" x2="1299" y2="965.5" stroke="#a89a8a"/>
<text x="1306.0" y="968.4" font-family="Liberation Sans, sans-serif" font-size="9" textLength="17.0" lengthAdjust="spacingAndGlyphs">900</text>
<line x1="1296" y1="961.5" x2="1299" y2="961.5" stroke="#a89a8a"/>
<line x1="1296" y1="955.5" x2="1299" y2="955.5" stroke="#a89a8a"/>
<line x1="1296" y1="950.5" x2="1299" y2="950.5" stroke="#a89a8a"/>
<line x1="1296" y1="945.5" x2="1299" y2="945.5" stroke="#a89a8a"/>
<line x1="1296" y1="939.5" x2="1299" y2="939.5" stroke="#a89a8a"/>
<text x="1306.0" y="942.4" font-family="Liberation Sans, sans-serif" font-size="9" textLength="17.0" lengthAdjust="spacingAndGlyphs">910</text>
<line x1="1296" y1="934.5" x2="1299" y2="934.5" stroke="#a89a8a"/>
<line x1="1296" y1="929.5" x2="1299" y2="929.5" stroke="#a89a8a"/>
<line x1="1296" y1="924.5" x2="1299" y2="924.5" stroke="#a89a8a"/>
<line x1="1296" y1="919.5" x2="1299" y2="919.5" stroke="#a89a8a"/>
<line x1="1296" y1="913.5" x2="1299" y2="913.5" stroke="#a89a8a"/>
<text x="1306.0" y="916.4" font-family="Liberation Sans, sans-serif" font-size="9" textLength="17.0" lengthAdjust="spacingAndGlyphs">920</text>
<line x1="1296" y1="908.5" x2="1299" y2="908.5" stroke="#a89a8a"/>
<line x1="1296" y1="903.5" x2="1299" y2="903.5" stroke="#a89a8a"/>
<line x1="1296" y1="898.5" x2="1299" y2="898.5" stroke="#a89a8a"/>
<line x1="1296" y1="893.5" x2="1299" y2="893.5" stroke="#a89a8a"/>
<line x1="1296" y1="888.5" x2="1299" y2="888.5" stroke="#a89a8a"/>
<text x="1306.0" y="891.4" font-family="Liberation Sans, sans-serif" font-size="9" textLength="17.0" lengthAdjust="spacingAndGlyphs">930</text>
<line x1="1296" y1="883.5" x2="1299" y2="883.5" stroke="#a89a8a"/>
<line x1="1296" y1="877.5" x2="1299" y2="877.5" stroke="#a89a8a"/>
<line x1="1296" y1="872.5" x2="1299" y2="872.5" stroke="#a89a8a"/>
<line x1="1296" y1="867.5" x2="1299" y2="867.5" stroke="#a89a8a"/>
<line x1="1296" y1="862.5" x2="1299" y2="862.5" stroke="#a89a8a"/>
<text x="1306.0" y="865.4" font-family="Liberation Sans, sans-serif" font-size="9" textLength="17.0" lengthAdjust="spacingAndGlyphs">940</text>
<line x1="1296" y1="857.5" x2="1299" y2="857.5" stroke="#a89a8a"/>
<line x1="1296" y1="852.5" x2="1299" y2="852.5" stroke="#a89a8a"/>
<line x1="1296" y1="847.5" x2="1299" y2="847.5" stroke="#a89a8a"/>
<line x1="1296" y1="842.5" x2="1299" y2="842.5" stroke="#a89a8a"/>
<line x1="1296" y1="837.5" x2="1299" y2="837.5" stroke="#a89a8a"/>
<text x="1306.0" y="840.4" font-family="Liberation Sans, sans-serif" font-size="9" textLength="17.0" lengthAdjust="spacingAndGlyphs">950</text>
<line x1="1296" y1="832.5" x2="1299" y2="832.5" stroke="#a89a8a"/>
<line x1="1296" y1="827.5" x2="1299" y2="827.5" stroke="#a89a8a"/>
<line x1="1296" y1="822.5" x2="1299" y2="822.5" stroke="#a89a8a"/>
<line x1="1296" y1="817.5" x2="1299" y2="817.5" stroke="#a89a8a"/>
<line x1="1296" y1="812.5" x2="1299" y2="812.5" stroke="#a89a8a"/>
<text x="1306.0" y="815.4" font-family="Liberation Sans, sans-serif" font-size="9" textLength="17.0" lengthAdjust="spacingAndGlyphs">960</text>
<line x1="1296" y1="807.5" x2="1299" y2="807.5" stroke="#a89a8a"/>
<line x1="1296" y1="802.5" x2="1299" y2="802.5" stroke="#a89a8a"/>
<line x1="1296" y1="797.5" x2="1299" y2="797.5" stroke="#a89a8a"/>
<line x1="1296" y1="792.5" x2="1299" y2="792.5" stroke="#a89a8a"/>
<line x1="1296" y1="787.5" x2="1299" y2="787.5" stroke="#a89a8a"/>
<text x="1306.0" y="790.4" font-family="Liberation Sans, sans-serif" font-size="9" textLength="17.0" lengthAdjust="spacingAndGlyphs">970</text>
<line x1="1296" y1="782.5" x2="1299" y2="782.5" stroke="#a89a8a"/>
<line x1="1296" y1="777.5" x2="1299" y2="777.5" stroke="#a89a8a"/>
<line x1="1296" y1="772.5" x2="1299" y2="772.5" stroke="#a89a8a"/>
<line x1="1296" y1="768.5" x2="1299" y2="768.5" stroke="#a89a8a"/>
<line x1="1296" y1="763.5" x2="1299" y2="763.5" stroke="#a89a8a"/>
<text x="1306.0" y="766.4" font-family="Liberation Sans, sans-serif" font-size="9" textLength="17.0" lengthAdjust="spacingAndGlyphs">980</text>
<line x1="1296" y1="758.5" x2="1299" y2="758.5" stroke="#a89a8a"/>
<line x1="1296" y1="753.5" x2="1299" y2="753.5" stroke="#a89a8a"/>
<line x1="1296" y1="748.5" x2="1299" y2="748.5" stroke="#a89a8a"/>
<line x1="1296" y1="743.5" x2="1299" y2="743.5" stroke="#a89a8a"/>
<line x1="1296" y1="738.5" x2="1299" y2="738.5" stroke="#a89a8a"/>
<text x="1306.0" y="741.4" font-family="Liberation Sans, sans-serif" font-size="9" textLength="17.0" lengthAdjust="spacingAndGlyphs">990</text>
<line x1="1296" y1="734.5" x2="1299" y2="734.5" stroke="#a89a8a"/>
<line x1="1296" y1="729.5" x2="1299" y2="729.5" stroke="#a89a8a"/>
<line x1="1296" y1="724.5" x2="1299" y2="724.5" stroke="#a89a8a"/>
<line x1="1296" y1="719.5" x2="1299" y2="719.5" stroke="#a89a8a"/>
<line x1="1296" y1="714.5" x2="1299" y2="714.5" stroke="#a89a8a"/>
<text x="1300.4" y="717.4" font-family="Liberation Sans, sans-serif" font-size="9" textLength="22.6" lengthAdjust="spacingAndGlyphs">1000</text>
<line x1="1296" y1="710.5" x2="1299" y2="710.5" stroke="#a89a8a"/>
<line x1="1296" y1="705.5" x2="1299" y2="705.5" stroke="#a89a8a"/>
<line x1="1296" y1="700.5" x2="1299" y2="700.5" stroke="#a89a8a"/>
<line x1="1296" y1="695.5" x2="1299" y2="695.5" stroke="#a89a8a"/>
<line x1="1296" y1="691.5" x2="1299" y2="691.5" stroke="#a89a8a"/>
<text x="1300.4" y="694.4" font-family="Liberation Sans, sans-serif" font-size="9" textLength="22.6" lengthAdjust="spacingAndGlyphs">1010</text>
<line x1="1296" y1="686.5" x2="1299" y2="686.5" stroke="#a89a8a"/>
<line x1="1296" y1="681.5" x2="1299" y2="681.5" stroke="#a89a8a"/>
<line x1="1296" y1="677.5" x2="1299" y2="677.5" stroke="#a89a8a"/>
<line x1="1296" y1="672.5" x2="1299" y2="672.5" stroke="#a89a8a"/>
<line x1="1296" y1="667.5" x2="1299" y2="667.5" stroke="#a89a8a"/>
<text x="1300.4" y="670.4" font-family="Liberation Sans, sans-serif" font-size="9" textLength="22.6" lengthAdjust="spacingAndGlyphs">1020</text>
<line x1="1296" y1="663.5" x2="1299" y2="663.5" stroke="#a89a8a"/>
<line x1="1296" y1="658.5" x2="1299" y2="658.5" stroke="#a89a8a"/>
<line x1="1296" y1="653.5" x2="1299" y2="653.5" stroke="#a89a8a"/>
<line x1="1296" y1="649.5" x2="1299" y2="649.5" stroke="#a89a8a"/>
<line x1="1296" y1="644.5" x2="1299" y2="644.5" stroke="#a89a8a"/>
<text x="1300.4" y="647.4" font-family="Liberation Sans, sans-serif" font-size="9" textLength="22.6" lengthAdjust="spacingAndGlyphs">1030</text>
<line x1="1296" y1="639.5" x2="1299" y2="639.5" stroke="#a89a8a"/>
<line x1="1296" y1="635.5" x2="1299" y2="635.5" stroke="#a89a8a"/>
<line x1="1296" y1="630.5" x2="1299" y2="630.5" stroke="#a89a8a"/>
<line x1="1296" y1="626.5" x2="1299" y2="626.5" stroke="#a89a8a"/>
<line x1="1296" y1="621.5" x2="1299" y2="621.5" stroke="#a89a8a"/>
<text x="1300.4" y="624.4" font-family="Liberation Sans, sans-serif" font-size="9" textLength="22.6" lengthAdjust="spacingAndGlyphs">1040</text>
<line x1="1296" y1="616.5" x2="1299" y2="616.5" stroke="#a89a8a"/>
<line x1="1296" y1="612.5" x2="1299" y2="612.5" stroke="#a89a8a"/>
<line x1="1296" y1="607.5" x2="1299" y2="607.5" stroke="#a89a8a"/>
<line x1="1296" y1="603.5" x2="1299" y2="603.5" stroke="#a89a8a"/>
<line x1="1296" y1="598.5" x2="1299" y2="598.5" stroke="#a89a8a"/>
<text x="1300.4" y="601.4" font-family="Liberation Sans, sans-serif" font-size="9" textLength="22.6" lengthAdjust="spacingAndGlyphs">1050</text>
<line x1="1296" y1="594.5" x2="1299" y2="594.5" stroke="#a89a8a"/>
<line x1="1296" y1="589.5" x2="1299" y2="589.5" stroke="#a89a8a"/>
<line x1="1296" y1="585.5" x2="1299" y2="585.5" stroke="#a89a8a"/>
<line x1="1296" y1="580.5" x2="1299" y2="580.5" stroke="#a89a8a"/>
<line x1="1296" y1="575.5" x2="1299" y2="575.5" stroke="#a89a8a"/>
<text x="1300.4" y="578.4" font-family="Liberation Sans, sans-serif" font-size="9" textLength="22.6" lengthAdjust="spacingAndGlyphs">1060</text>
<line x1="1296" y1="571.5" x2="1299" y2="571.5" stroke="#a89a8a"/>
<line x1="1296" y1="567.5" x2="1299" y2="567.5" stroke="#a89a8a"/>
<line x1="1296" y1="562.5" x2="1299" y2="562.5" stroke="#a89a8a"/>
<line x1="1296" y1="558.5" x2="1299" y2="558.5" stroke="#a89a8a"/>
<line x1="1296" y1="553.5" x2="1299" y2="553.5" stroke="#a89a8a"/>
<text x="1300.4" y="556.4" font-family="Liberation Sans, sans-serif" font-size="9" textLength="22.6" lengthAdjust="spacingAndGlyphs">1070</text>
<line x1="1296" y1="549.5" x2="1299" y2="549.5" stroke="#a89a8a"/>
<line x1="1296" y1="544.5" x2="1299" y2="544.5" stroke="#a89a8a"/>
<line x1="1296" y1="540.5" x2="1299" y2="540.5" stroke="#a89a8a"/>
<line x1="1296" y1="535.5" x2="1299" y2="535.5" stroke="#a89a8a"/>
<line x1="1296" y1="531.5" x2="1299" y2="531.5" stroke="#a89a8a"/>
<text x="1300.4" y="534.4" font-family="Liberation Sans, sans-serif" font-size="9" textLength="22.6" lengthAdjust="spacingAndGlyphs">1080</text>
<line x1="1296" y1="526.5" x2="1299" y2="526.5" stroke="#a89a8a"/>
<line x1="1296" y1="522.5" x2="1299" y2="522.5" stroke="#a89a8a"/>
<line x1="1296" y1="518.5" x2="1299" y2="518.5" stroke="#a89a8a"/>
<line x1="1296" y1="513.5" x2="1299" y2="513.5" stroke="#a89a8a"/>
<line x1="1296" y1="509.5" x2="1299" y2="509.5" stroke="#a89a8a"/>
<text x="1300.4" y="512.4" font-family="Liberation Sans, sans-serif" font-size="9" textLength="22.6" lengthAdjust="spacingAndGlyphs">1090</text>
<line x1="1296" y1="505.5" x2="1299" y2="505.5" stroke="#a89a8a"/>
<line x1="1296" y1="500.5" x2="1299" y2="500.5" stroke="#a89a8a"/>
<line x1="1296" y1="496.5" x2="1299" y2="496.5" stroke="#a89a8a"/>
<line x1="1296" y1="491.5" x2="1299" y2="491.5" stroke="#a89a8a"/>
<line x1="1296" y1="487.5" x2="1299" y2="487.5" stroke="#a89a8a"/>
<text x="1300.4" y="490.4" font-family="Liberation Sans, sans-serif" font-size="9" textLength="22.6" lengthAdjust="spacingAndGlyphs">1100</text>
<line x1="1296" y1="483.5" x2="1299" y2="483.5" stroke="#a89a8a"/>
<line x1="1296" y1="478.5" x2="1299" y2="478.5" stroke="#a89a8a"/>
<line x1="1296" y1="474.5" x2="1299" y2="474.5" stroke="#a89a8a"/>
<line x1="1296" y1="470.5" x2="1299" y2="470.5" stroke="#a89a8a"/>
<line x1="1296" y1="466.5" x2="1299" y2="466.5" stroke="#a89a8a"/>
<text x="1300.4" y="469.4" font-family="Liberation Sans, sans-serif" font-size="9" textLength="22.6" lengthAdjust="spacingAndGlyphs">1110</text>
<line x1="1296" y1="1163.5" x2="1299" y2="1163.5" stroke="#a89a8a"/>
<text x="1299.8" y="1166.4" font-family="Liberation Sans, sans-serif" font-size="9" textLength="14.2" lengthAdjust="spacingAndGlyphs">-15</text>
<line x1="1296" y1="1146.5" x2="1299" y2="1146.5" stroke="#a89a8a"/>
<text x="1299.8" y="1149.4" font-family="Liberation Sans, sans-serif" font-size="9" textLength="14.2" lengthAdjust="spacingAndGlyphs">-10</text>
<line x1="1296" y1="1129.5" x2="1299" y2="1129.5" stroke="#a89a8a"/>
<text x="1305.5" y="1132.4" font-family="Liberation Sans, sans-serif" font-size="9" textLength="8.6" lengthAdjust="spacingAndGlyphs">-5</text>
<line x1="1296" y1="1112.5" x2="1299" y2="1112.5" stroke="#a89a8a"/>
<text x="1308.3" y="1115.4" font-family="Liberation Sans, sans-serif" font-size="9" textLength="5.7" lengthAdjust="spacingAndGlyphs">0</text>
<line x1="1296" y1="1095.5" x2="1299" y2="1095.5" stroke="#a89a8a"/>
<text x="1308.3" y="1098.4" font-family="Liberation Sans, sans-serif" font-size="9" textLength="5.7" lengthAdjust="spacingAndGlyphs">5</text>
<line x1="1296" y1="1078.5" x2="1299" y2="1078.5" stroke="#a89a8a"/>
<text x="1302.7" y="1081.4" font-family="Liberation Sans, sans-serif" font-size="9" textLength="11.3" lengthAdjust="spacingAndGlyphs">10</text>
<line x1="1296" y1="1061.5" x2="1299" y2="1061.5" stroke="#a89a8a"/>
<text x="1302.7" y="1064.4" font-family="Liberation Sans, sans-serif" font-size="9" textLength="11.3" lengthAdjust="spacingAndGlyphs">15</text>
<line x1="1296" y1="1045.5" x2="1299" y2="1045.5" stroke="#a89a8a"/>
<text x="1302.7" y="1048.4" font-family="Liberation Sans, sans-serif" font-size="9" textLength="11.3" lengthAdjust="spacingAndGlyphs">20</text>
<line x1="1296" y1="1028.5" x2="1299" y2="1028.5" stroke="#a89a8a"/>
<text x="1302.7" y="1031.4" font-family="Liberation Sans, sans-serif" font-size="9" textLength="11.3" lengthAdjust="spacingAndGlyphs">25</text>
<line x1="1296" y1="1011.5" x2="1299" y2="1011.5" stroke="#a89a8a"/>
<text x="1302.7" y="1014.4" font-family="Liberation Sans, sans-serif" font-size="9" textLength="11.3" lengthAdjust="spacingAndGlyphs">30</text>
<rect x="18" y="980" width="1" height="2" fill="#b8ab9c"/>
<rect x="18" y="991" width="1" height="2" fill="#b8ab9c"/>
<rect x="22" y="980" width="1" height="2" fill="#b8ab9c"/>
<rect x="22" y="991" width="1" height="2" fill="#b8ab9c"/>
<rect x="27" y="980" width="1" height="2" fill="#b8ab9c"/>
<rect x="27" y="991" width="1" height="2" fill="#b8ab9c"/>
<rect x="31" y="980" width="1" height="2" fill="#b8ab9c"/>
<rect x="31" y="991" width="1" height="2" fill="#b8ab9c"/>
<rect x="36" y="980" width="1" height="2" fill="#b8ab9c"/>
<rect x="36" y="991" width="1" height="2" fill="#b8ab9c"/>
<rect x="40" y="980" width="1" height="2" fill="#b8ab9c"/>
<rect x="40" y="991" width="1" height="2" fill="#b8ab9c"/>
<rect x="44" y="980" width="1" height="2" fill="#b8ab9c"/>
<rect x="44" y="991" width="1" height="2" fill="#b8ab9c"/>
<rect x="49" y="980" width="1" height="2" fill="#b8ab9c"/>
<rect x="49" y="991" width="1" height="2" fill="#b8ab9c"/>
<rect x="53" y="980" width="1" height="2" fill="#b8ab9c"/>
<rect x="53" y="991" width="1" height="2" fill="#b8ab9c"/>
<rect x="58" y="980" width="1" height="2" fill="#b8ab9c"/>
<rect x="58" y="991" width="1" height="2" fill="#b8ab9c"/>
<rect x="62" y="980" width="1" height="2" fill="#b8ab9c"/>
<rect x="62" y="991" width="1" height="2" fill="#b8ab9c"/>
<rect x="66" y="980" width="1" height="2" fill="#b8ab9c"/>
<rect x="66" y="991" width="1" height="2" fill="#b8ab9c"/>
<rect x="71" y="980" width="1" height="2" fill="#b8ab9c"/>
<rect x="71" y="991" width="1" height="2" fill="#b8ab9c"/>
<rect x="75" y="980" width="1" height="2" fill="#b8ab9c"/>
<rect x="75" y="991" width="1" height="2" fill="#b8ab9c"/>
<rect x="80" y="980" width="1" height="2" fill="#b8ab9c"/>
<rect x="80" y="991" width="1" height="2" fill="#b8ab9c"/>
<rect x="84" y="980" width="1" height="2" fill="#b8ab9c"/>
<rect x="84" y="991" width="1" height="2" fill="#b8ab9c"/>
<rect x="88" y="980" width="1" height="2" fill="#b8ab9c"/>
<rect x="88" y="991" width="1" height="2" fill="#b8ab9c"/>
<rect x="93" y="980" width="1" height="2" fill="#b8ab9c"/>
<rect x="93" y="991" width="1" height="2" fill="#b8ab9c"/>
<rect x="97" y="980" width="1" height="2" fill="#b8ab9c"/>
<rect x="97" y="991" width="1" height="2" fill="#b8ab9c"/>
<rect x="102" y="980" width="1" height="2" fill="#b8ab9c"/>
<rect x="102" y="991" width="1" height="2" fill="#b8ab9c"/>
<rect x="106" y="980" width="1" height="2" fill="#b8ab9c"/>
<rect x="106" y="991" width="1" height="2" fill="#b8ab9c"/>
<rect x="110" y="980" width="1" height="2" fill="#b8ab9c"/>
<rect x="110" y="991" width="1" height="2" fill="#b8ab9c"/>
<rect x="115" y="980" width="1" height="2" fill="#b8ab9c"/>
<rect x="115" y="991" width="1" height="2" fill="#b8ab9c"/>
<rect x="119" y="980" width="1" height="2" fill="#b8ab9c"/>
<rect x="119" y="991" width="1" height="2" fill="#b8ab9c"/>
<rect x="124" y="980" width="1" height="2" fill="#b8ab9c"/>
<rect x="124" y="991" width="1" height="2" fill="#b8ab9c"/>
<rect x="128" y="980" width="1" height="2" fill="#b8ab9c"/>
<rect x="128" y="991" width="1" height="2" fill="#b8ab9c"/>
<rect x="132" y="980" width="1" height="2" fill="#b8ab9c"/>
<rect x="132" y="991" width="1" height="2" fill="#b8ab9c"/>
<rect x="137" y="980" width="1" height="2" fill="#b8ab9c"/>
<rect x="137" y="991" width="1" height="2" fill="#b8ab9c"/>
<rect x="141" y="980" width="1" height="2" fill="#b8ab9c"/>
<rect x="141" y="991" width="1" height="2" fill="#b8ab9c"/>
<rect x="146" y="980" width="1" height="2" fill="#b8ab9c"/>
<rect x="146" y="991" width="1" height="2" fill="#b8ab9c"/>
<rect x="150" y="980" width="1" height="2" fill="#b8ab9c"/>
<rect x="150" y="991" width="1" height="2" fill="#b8ab9c"/>
<rect x="154" y="980" width="1" height="2" fill="#b8ab9c"/>
<rect x="154" y="991" width="1" height="2" fill="#b8ab9c"/>
<rect x="159" y="980" width="1" height="2" fill="#b8ab9c"/>
<rect x="159" y="991" width="1" height="2" fill="#b8ab9c"/>
<rect x="163" y="980" width="1" height="2" fill="#b8ab9c"/>
<rect x="163" y="991" width="1" height="2" fill="#b8ab9c"/>
<rect x="168" y="980" width="1" height="2" fill="#b8ab9c"/>
<rect x="168" y="991" width="1" height="2" fill="#b8ab9c"/>
<rect x="172" y="980" width="1" height="2" fill="#b8ab9c"/>
<rect x="172" y="991" width="1" height="2" fill="#b8ab9c"/>
<rect x="176" y="980" width="1" height="2" fill="#b8ab9c"/>
<rect x="176" y="991" width="1" height="2" fill="#b8ab9c"/>
<rect x="181" y="980" width="1" height="2" fill="#b8ab9c"/>
<rect x="181" y="991" width="1" height="2" fill="#b8ab9c"/>
<rect x="185" y="980" width="1" height="2" fill="#b8ab9c"/>
<rect x="185" y="991" width="1" height="2" fill="#b8ab9c"/>
<rect x="190" y="980" width="1" height="2" fill="#b8ab9c"/>
<rect x="190" y="991" width="1" height="2" fill="#b8ab9c"/>
<rect x="194" y="980" width="1" height="2" fill="#b8ab9c"/>
<rect x="194" y="991" width="1" height="2" fill="#b8ab9c"/>
<rect x="198" y="980" width="1" height="2" fill="#b8ab9c"/>
<rect x="198" y="991" width="1" height="2" fill="#b8ab9c"/>
<rect x="203" y="980" width="1" height="2" fill="#b8ab9c"/>
<rect x="203" y="991" width="1" height="2" fill="#b8ab9c"/>
<rect x="207" y="980" width="1" height="2" fill="#b8ab9c"/>
<rect x="207" y="991" width="1" height="2" fill="#b8ab9c"/>
<rect x="212" y="980" width="1" height="2" fill="#b8ab9c"/>
<rect x="212" y="991" width="1" height="2" fill="#b8ab9c"/>
<rect x="216" y="980" width="1" height="2" fill="#b8ab9c"/>
<rect x="216" y="991" width="1" height="2" fill="#b8ab9c"/>
<rect x="220" y="980" width="1" height="2" fill="#b8ab9c"/>
<rect x="220" y="991" width="1" height="2" fill="#b8ab9c"/>
<rect x="225" y="980" width="1" height="2" fill="#b8ab9c"/>
<rect x="225" y="991" width="1" height="2" fill="#b8ab9c"/>
<rect x="229" y="980" width="1" height="2" fill="#b8ab9c"/>
<rect x="229" y="991" width="1" height="2" fill="#b8ab9c"/>
<rect x="234" y="980" width="1" height="2" fill="#b8ab9c"/>
<rect x="234" y="991" width="1" height="2" fill="#b8ab9c"/>
<rect x="238" y="980" width="1" height="2" fill="#b8ab9c"/>
<rect x="238" y="991" width="1" height="2" fill="#b8ab9c"/>
<rect x="242" y="980" width="1" height="2" fill="#b8ab9c"/>
<rect x="242" y="991" width="1" height="2" fill="#b8ab9c"/>
<rect x="247" y="980" width="1" height="2" fill="#b8ab9c"/>
<rect x="247" y="991" width="1" height="2" fill="#b8ab9c"/>
<rect x="251" y="980" width="1" height="2" fill="#b8ab9c"/>
<rect x="251" y="991" width="1" height="2" fill="#b8ab9c"/>
<rect x="256" y="980" width="1" height="2" fill="#b8ab9c"/>
<rect x="256" y="991" width="1" height="2" fill="#b8ab9c"/>
<rect x="260" y="980" width="1" height="2" fill="#b8ab9c"/>
<rect x="260" y="991" width="1" height="2" fill="#b8ab9c"/>
<rect x="264" y="980" width="1" height="2" fill="#b8ab9c"/>
<rect x="264" y="991" width="1" height="2" fill="#b8ab9c"/>
<rect x="269" y="980" width="1" height="2" fill="#b8ab9c"/>
<rect x="269" y="991" width="1" height="2" fill="#b8ab9c"/>
<rect x="273" y="980" width="1" height="2" fill="#b8ab9c"/>
<rect x="273" y="991" width="1" height="2" fill="#b8ab9c"/>
<rect x="278" y="980" width="1" height="2" fill="#b8ab9c"/>
<rect x="278" y="991" width="1" height="2" fill="#b8ab9c"/>
<rect x="282" y="980" width="1" height="2" fill="#b8ab9c"/>
<rect x="282" y="991" width="1" height="2" fill="#b8ab9c"/>
<rect x="286" y="980" width="1" height="2" fill="#b8ab9c"/>
<rect x="286" y="991" width="1" height="2" fill="#b8ab9c"/>
<rect x="291" y="980" width="1" height="2" fill="#b8ab9c"/>
<rect x="291" y="991" width="1" height="2" fill="#b8ab9c"/>
<rect x="295" y="980" width="1" height="2" fill="#b8ab9c"/>
<rect x="295" y="991" width="1" height="2" fill="#b8ab9c"/>
<rect x="300" y="980" width="1" height="2" fill="#b8ab9c"/>
<rect x="300" y="991" width="1" height="2" fill="#b8ab9c"/>
<rect x="304" y="980" width="1" height="2" fill="#b8ab9c"/>
<rect x="304" y="991" width="1" height="2" fill="#b8ab9c"/>
<rect x="308" y="980" width="1" height="2" fill="#b8ab9c"/>
<rect x="308" y="991" width="1" height="2" fill="#b8ab9c"/>
<rect x="313" y="980" width="1" height="2" fill="#b8ab9c"/>
<rect x="313" y="991" width="1" height="2" fill="#b8ab9c"/>
<rect x="317" y="980" width="1" height="2" fill="#b8ab9c"/>
<rect x="317" y="991" width="1" height="2" fill="#b8ab9c"/>
<rect x="322" y="980" width="1" height="2" fill="#b8ab9c"/>
<rect x="322" y="991" width="1" height="2" fill="#b8ab9c"/>
<rect x="326" y="980" width="1" height="2" fill="#b8ab9c"/>
<rect x="326" y="991" width="1" height="2" fill="#b8ab9c"/>
<rect x="330" y="980" width="1" height="2" fill="#b8ab9c"/>
<rect x="330" y="991" width="1" height="2" fill="#b8ab9c"/>
<rect x="335" y="980" width="1" height="2" fill="#b8ab9c"/>
<rect x="335" y="991" width="1" height="2" fill="#b8ab9c"/>
<rect x="339" y="980" width="1" height="2" fill="#b8ab9c"/>
<rect x="339" y="991" width="1" height="2" fill="#b8ab9c"/>
<rect x="344" y="980" width="1" height="2" fill="#b8ab9c"/>
<rect x="344" y="991" width="1" height="2" fill="#b8ab9c"/>
<rect x="348" y="980" width="1" height="2" fill="#b8ab9c"/>
<rect x="348" y="991" width="1" height="2" fill="#b8ab9c"/>
<rect x="352" y="980" width="1" height="2" fill="#b8ab9c"/>
<rect x="352" y="991" width="1" height="2" fill="#b8ab9c"/>
<rect x="357" y="980" width="1" height="2" fill="#b8ab9c"/>
<rect x="357" y="991" width="1" height="2" fill="#b8ab9c"/>
<rect x="361" y="980" width="1" height="2" fill="#b8ab9c"/>
<rect x="361" y="991" width="1" height="2" fill="#b8ab9c"/>
<rect x="366" y="980" width="1" height="2" fill="#b8ab9c"/>
<rect x="366" y="991" width="1" height="2" fill="#b8ab9c"/>
<rect x="370" y="980" width="1" height="2" fill="#b8ab9c"/>
<rect x="370" y="991" width="1" height="2" fill="#b8ab9c"/>
<rect x="374" y="980" width="1" height="2" fill="#b8ab9c"/>
<rect x="374" y="991" width="1" height="2" fill="#b8ab9c"/>
<rect x="379" y="980" width="1" height="2" fill="#b8ab9c"/>
<rect x="379" y="991" width="1" height="2" fill="#b8ab9c"/>
<rect x="383" y="980" width="1" height="2" fill="#b8ab9c"/>
<rect x="383" y="991" width="1" height="2" fill="#b8ab9c"/>
<rect x="388" y="980" width="1" height="2" fill="#b8ab9c"/>
<rect x="388" y="991" width="1" height="2" fill="#b8ab9c"/>
<rect x="392" y="980" width="1" height="2" fill="#b8ab9c"/>
<rect x="392" y="991" width="1" height="2" fill="#b8ab9c"/>
<rect x="396" y="980" width="1" height="2" fill="#b8ab9c"/>
<rect x="396" y="991" width="1" height="2" fill="#b8ab9c"/>
<rect x="401" y="980" width="1" height="2" fill="#b8ab9c"/>
<rect x="401" y="991" width="1" height="2" fill="#b8ab9c"/>
<rect x="405" y="980" width="1" height="2" fill="#b8ab9c"/>
<rect x="405" y="991" width="1" height="2" fill="#b8ab9c"/>
<rect x="410" y="980" width="1" height="2" fill="#b8ab9c"/>
<rect x="410" y="991" width="1" height="2" fill="#b8ab9c"/>
<rect x="414" y="980" width="1" height="2" fill="#b8ab9c"/>
<rect x="414" y="991" width="1" height="2" fill="#b8ab9c"/>
<rect x="418" y="980" width="1" height="2" fill="#b8ab9c"/>
<rect x="418" y="991" width="1" height="2" fill="#b8ab9c"/>
<rect x="423" y="980" width="1" height="2" fill="#b8ab9c"/>
<rect x="423" y="991" width="1" height="2" fill="#b8ab9c"/>
<rect x="427" y="980" width="1" height="2" fill="#b8ab9c"/>
<rect x="427" y="991" width="1" height="2" fill="#b8ab9c"/>
<rect x="432" y="980" width="1" height="2" fill="#b8ab9c"/>
<rect x="432" y="991" width="1" height="2" fill="#b8ab9c"/>
<rect x="436" y="980" width="1" height="2" fill="#b8ab9c"/>
<rect x="436" y="991" width="1" height="2" fill="#b8ab9c"/>
<rect x="440" y="980" width="1" height="2" fill="#b8ab9c"/>
<rect x="440" y="991" width="1" height="2" fill="#b8ab9c"/>
<rect x="445" y="980" width="1" height="2" fill="#b8ab9c"/>
<rect x="445" y="991" width="1" height="2" fill="#b8ab9c"/>
<rect x="449" y="980" width="1" height="2" fill="#b8ab9c"/>
<rect x="449" y="991" width="1" height="2" fill="#b8ab9c"/>
<rect x="454" y="980" width="1" height="2" fill="#b8ab9c"/>
<rect x="454" y="991" width="1" height="2" fill="#b8ab9c"/>
<rect x="458" y="980" width="1" height="2" fill="#b8ab9c"/>
<rect x="458" y="991" width="1" height="2" fill="#b8ab9c"/>
<rect x="462" y="980" width="1" height="2" fill="#b8ab9c"/>
<rect x="462" y="991" width="1" height="2" fill="#b8ab9c"/>
<rect x="467" y="980" width="1" height="2" fill="#b8ab9c"/>
<rect x="467" y="991" width="1" height="2" fill="#b8ab9c"/>
<rect x="471" y="980" width="1" height="2" fill="#b8ab9c"/>
<rect x="471" y="991" width="1" height="2" fill="#b8ab9c"/>
<rect x="476" y="980" width="1" height="2" fill="#b8ab9c"/>
<rect x="476" y="991" width="1" height="2" fill="#b8ab9c"/>
<rect x="480" y="980" width="1" height="2" fill="#b8ab9c"/>
<rect x="480" y="991" width="1" height="2" fill="#b8ab9c"/>
<rect x="484" y="980" width="1" height="2" fill="#b8ab9c"/>
<rect x="484" y="991" width="1" height="2" fill="#b8ab9c"/>
<rect x="489" y="980" width="1" height="2" fill="#b8ab9c"/>
<rect x="489" y="991" width="1" height="2" fill="#b8ab9c"/>
<rect x="493" y="980" width="1" height="2" fill="#b8ab9c"/>
<rect x="493" y="991" width="1" height="2" fill="#b8ab9c"/>
<rect x="498" y="980" width="1" height="2" fill="#b8ab9c"/>
<rect x="498" y="991" width="1" height="2" fill="#b8ab9c"/>
<rect x="502" y="980" width="1" height="2" fill="#b8ab9c"/>
<rect x="502" y="991" width="1" height="2" fill="#b8ab9c"/>
<rect x="506" y="980" width="1" height="2" fill="#b8ab9c"/>
<rect x="506" y="991" width="1" height="2" fill="#b8ab9c"/>
<rect x="511" y="980" width="1" height="2" fill="#b8ab9c"/>
<rect x="511" y="991" width="1" height="2" fill="#b8ab9c"/>
<rect x="515" y="980" width="1" height="2" fill="#b8ab9c"/>
<rect x="515" y="991" width="1" height="2" fill="#b8ab9c"/>
<rect x="520" y="980" width="1" height="2" fill="#b8ab9c"/>
<rect x="520" y="991" width="1" height="2" fill="#b8ab9c"/>
<rect x="524" y="980" width="1" height="2" fill="#b8ab9c"/>
<rect x="524" y="991" width="1" height="2" fill="#b8ab9c"/>
<rect x="528" y="980" width="1" height="2" fill="#b8ab9c"/>
<rect x="528" y="991" width="1" height="2" fill="#b8ab9c"/>
<rect x="533" y="980" width="1" height="2" fill="#b8ab9c"/>
<rect x="533" y="991" width="1" height="2" fill="#b8ab9c"/>
<rect x="537" y="980" width="1" height="2" fill="#b8ab9c"/>
<rect x="537" y="991" width="1" height="2" fill="#b8ab9c"/>
<rect x="542" y="980" width="1" height="2" fill="#b8ab9c"/>
<rect x="542" y="991" width="1" height="2" fill="#b8ab9c"/>
<rect x="546" y="980" width="1" height="2" fill="#b8ab9c"/>
<rect x="546" y="991" width="1" height="2" fill="#b8ab9c"/>
<rect x="550" y="980" width="1" height="2" fill="#b8ab9c"/>
<rect x="550" y="991" width="1" height="2" fill="#b8ab9c"/>
<rect x="555" y="980" width="1" height="2" fill="#b8ab9c"/>
<rect x="555" y="991" width="1" height="2" fill="#b8ab9c"/>
<rect x="559" y="980" width="1" height="2" fill="#b8ab9c"/>
<rect x="559" y="991" width="1" height="2" fill="#b8ab9c"/>
<rect x="564" y="980" width="1" height="2" fill="#b8ab9c"/>
<rect x="564" y="991" width="1" height="2" fill="#b8ab9c"/>
<rect x="568" y="980" width="1" height="2" fill="#b8ab9c"/>
<rect x="568" y="991" width="1" height="2" fill="#b8ab9c"/>
<rect x="572" y="980" width="1" height="2" fill="#b8ab9c"/>
<rect x="572" y="991" width="1" height="2" fill="#b8ab9c"/>
<rect x="577" y="980" width="1" height="2" fill="#b8ab9c"/>
<rect x="577" y="991" width="1" height="2" fill="#b8ab9c"/>
<rect x="581" y="980" width="1" height="2" fill="#b8ab9c"/>
<rect x="581" y="991" width="1" height="2" fill="#b8ab9c"/>
<rect x="586" y="980" width="1" height="2" fill="#b8ab9c"/>
<rect x="586" y="991" width="1" height="2" fill="#b8ab9c"/>
<rect x="590" y="980" width="1" height="2" fill="#b8ab9c"/>
<rect x="590" y="991" width="1" height="2" fill="#b8ab9c"/>
<rect x="594" y="980" width="1" height="2" fill="#b8ab9c"/>
<rect x="594" y="991" width="1" height="2" fill="#b8ab9c"/>
<rect x="599" y="980" width="1" height="2" fill="#b8ab9c"/>
<rect x="599" y="991" width="1" height="2" fill="#b8ab9c"/>
<rect x="603" y="980" width="1" height="2" fill="#b8ab9c"/>
<rect x="603" y="991" width="1" height="2" fill="#b8ab9c"/>
<rect x="608" y="980" width="1" height="2" fill="#b8ab9c"/>
<rect x="608" y="991" width="1" height="2" fill="#b8ab9c"/>
<rect x="612" y="980" width="1" height="2" fill="#b8ab9c"/>
<rect x="612" y="991" width="1" height="2" fill="#b8ab9c"/>
<rect x="616" y="980" width="1" height="2" fill="#b8ab9c"/>
<rect x="616" y="991" width="1" height="2" fill="#b8ab9c"/>
<rect x="621" y="980" width="1" height="2" fill="#b8ab9c"/>
<rect x="621" y="991" width="1" height="2" fill="#b8ab9c"/>
<rect x="625" y="980" width="1" height="2" fill="#b8ab9c"/>
<rect x="625" y="991" width="1" height="2" fill="#b8ab9c"/>
<rect x="630" y="980" width="1" height="2" fill="#b8ab9c"/>
<rect x="630" y="991" width="1" height="2" fill="#b8ab9c"/>
<rect x="634" y="980" width="1" height="2" fill="#b8ab9c"/>
<rect x="634" y="991" width="1" height="2" fill="#b8ab9c"/>
<rect x="638" y="980" width="1" height="2" fill="#b8ab9c"/>
<rect x="638" y="991" width="1" height="2" fill="#b8ab9c"/>
<rect x="643" y="980" width="1" height="2" fill="#b8ab9c"/>
<rect x="643" y="991" width="1" height="2" fill="#b8ab9c"/>
<rect x="647" y="980" width="1" height="2" fill="#b8ab9c"/>
<rect x="647" y="991" width="1" height="2" fill="#b8ab9c"/>
<rect x="652" y="980" width="1" height="2" fill="#b8ab9c"/>
<rect x="652" y="991" width="1" height="2" fill="#b8ab9c"/>
<rect x="656" y="980" width="1" height="2" fill="#b8ab9c"/>
<rect x="656" y="991" width="1" height="2" fill="#b8ab9c"/>
<rect x="660" y="980" width="1" height="2" fill="#b8ab9c"/>
<rect x="660" y="991" width="1" height="2" fill="#b8ab9c"/>
<rect x="665" y="980" width="1" height="2" fill="#b8ab9c"/>
<rect x="665" y="991" width="1" height="2" fill="#b8ab9c"/>
<rect x="669" y="980" width="1" height="2" fill="#b8ab9c"/>
<rect x="669" y="991" width="1" height="2" fill="#b8ab9c"/>
<rect x="674" y="980" width="1" height="2" fill="#b8ab9c"/>
<rect x="674" y="991" width="1" height="2" fill="#b8ab9c"/>
<rect x="678" y="980" width="1" height="2" fill="#b8ab9c"/>
<rect x="678" y="991" width="1" height="2" fill="#b8ab9c"/>
<rect x="682" y="980" width="1" height="2" fill="#b8ab9c"/>
<rect x="682" y="991" width="1" height="2" fill="#b8ab9c"/>
<rect x="687" y="980" width="1" height="2" fill="#b8ab9c"/>
<rect x="687" y="991" width="1" height="2" fill="#b8ab9c"/>
<rect x="691" y="980" width="1" height="2" fill="#b8ab9c"/>
<rect x="691" y="991" width="1" height="2" fill="#b8ab9c"/>
<rect x="696" y="980" width="1" height="2" fill="#b8ab9c"/>
<rect x="696" y="991" width="1" height="2" fill="#b8ab9c"/>
<rect x="700" y="980" width="1" height="2" fill="#b8ab9c"/>
<rect x="700" y="991" width="1" height="2" fill="#b8ab9c"/>
<rect x="704" y="980" width="1" height="2" fill="#b8ab9c"/>
<rect x="704" y="991" width="1" height="2" fill="#b8ab9c"/>
<rect x="709" y="980" width="1" height="2" fill="#b8ab9c"/>
<rect x="709" y="991" width="1" height="2" fill="#b8ab9c"/>
<rect x="713" y="980" width="1" height="2" fill="#b8ab9c"/>
<rect x="713" y="991" width="1" height="2" fill="#b8ab9c"/>
<rect x="718" y="980" width="1" height="2" fill="#b8ab9c"/>
<rect x="718" y="991" width="1" height="2" fill="#b8ab9c"/>
<rect x="722" y="980" width="1" height="2" fill="#b8ab9c"/>
<rect x="722" y="991" width="1" height="2" fill="#b8ab9c"/>
<rect x="726" y="980" width="1" height="2" fill="#b8ab9c"/>
<rect x="726" y="991" width="1" height="2" fill="#b8ab9c"/>
<rect x="731" y="980" width="1" height="2" fill="#b8ab9c"/>
<rect x="731" y="991" width="1" height="2" fill="#b8ab9c"/>
<rect x="735" y="980" width="1" height="2" fill="#b8ab9c"/>
<rect x="735" y="991" width="1" height="2" fill="#b8ab9c"/>
<rect x="740" y="980" width="1" height="2" fill="#b8ab9c"/>
<rect x="740" y="991" width="1" height="2" fill="#b8ab9c"/>
<rect x="744" y="980" width="1" height="2" fill="#b8ab9c"/>
<rect x="744" y="991" width="1" height="2" fill="#b8ab9c"/>
<rect x="748" y="980" width="1" height="2" fill="#b8ab9c"/>
<rect x="748" y="991" width="1" height="2" fill="#b8ab9c"/>
<rect x="753" y="980" width="1" height="2" fill="#b8ab9c"/>
<rect x="753" y="991" width="1" height="2" fill="#b8ab9c"/>
<rect x="757" y="980" width="1" height="2" fill="#b8ab9c"/>
<rect x="757" y="991" width="1" height="2" fill="#b8ab9c"/>
<rect x="762" y="980" width="1" height="2" fill="#b8ab9c"/>
<rect x="762" y="991" width="1" height="2" fill="#b8ab9c"/>
<rect x="766" y="980" width="1" height="2" fill="#b8ab9c"/>
<rect x="766" y="991" width="1" height="2" fill="#b8ab9c"/>
<rect x="770" y="980" width="1" height="2" fill="#b8ab9c"/>
<rect x="770" y="991" width="1" height="2" fill="#b8ab9c"/>
<rect x="775" y="980" width="1" height="2" fill="#b8ab9c"/>
<rect x="775" y="991" width="1" height="2" fill="#b8ab9c"/>
<rect x="779" y="980" width="1" height="2" fill="#b8ab9c"/>
<rect x="779" y="991" width="1" height="2" fill="#b8ab9c"/>
<rect x="784" y="980" width="1" height="2" fill="#b8ab9c"/>
<rect x="784" y="991" width="1" height="2" fill="#b8ab9c"/>
<rect x="788" y="980" width="1" height="2" fill="#b8ab9c"/>
<rect x="788" y="991" width="1" height="2" fill="#b8ab9c"/>
<rect x="792" y="980" width="1" height="2" fill="#b8ab9c"/>
<rect x="792" y="991" width="1" height="2" fill="#b8ab9c"/>
<rect x="797" y="980" width="1" height="2" fill="#b8ab9c"/>
<rect x="797" y="991" width="1" height="2" fill="#b8ab9c"/>
<rect x="801" y="980" width="1" height="2" fill="#b8ab9c"/>
<rect x="801" y="991" width="1" height="2" fill="#b8ab9c"/>
<rect x="806" y="980" width="1" height="2" fill="#b8ab9c"/>
<rect x="806" y="991" width="1" height="2" fill="#b8ab9c"/>
<rect x="810" y="980" width="1" height="2" fill="#b8ab9c"/>
<rect x="810" y="991" width="1" height="2" fill="#b8ab9c"/>
<rect x="814" y="980" width="1" height="2" fill="#b8ab9c"/>
<rect x="814" y="991" width="1" height="2" fill="#b8ab9c"/>
<rect x="819" y="980" width="1" height="2" fill="#b8ab9c"/>
<rect x="819" y="991" width="1" height="2" fill="#b8ab9c"/>
<rect x="823" y="980" width="1" height="2" fill="#b8ab9c"/>
<rect x="823" y="991" width="1" height="2" fill="#b8ab9c"/>
<rect x="828" y="980" width="1" height="2" fill="#b8ab9c"/>
<rect x="828" y="991" width="1" height="2" fill="#b8ab9c"/>
<rect x="832" y="980" width="1" height="2" fill="#b8ab9c"/>
<rect x="832" y="991" width="1" height="2" fill="#b8ab9c"/>
<rect x="836" y="980" width="1" height="2" fill="#b8ab9c"/>
<rect x="836" y="991" width="1" height="2" fill="#b8ab9c"/>
<rect x="841" y="980" width="1" height="2" fill="#b8ab9c"/>
<rect x="841" y="991" width="1" height="2" fill="#b8ab9c"/>
<rect x="845" y="980" width="1" height="2" fill="#b8ab9c"/>
<rect x="845" y="991" width="1" height="2" fill="#b8ab9c"/>
<rect x="850" y="980" width="1" height="2" fill="#b8ab9c"/>
<rect x="850" y="991" width="1" height="2" fill="#b8ab9c"/>
<rect x="854" y="980" width="1" height="2" fill="#b8ab9c"/>
<rect x="854" y="991" width="1" height="2" fill="#b8ab9c"/>
<rect x="858" y="980" width="1" height="2" fill="#b8ab9c"/>
<rect x="858" y="991" width="1" height="2" fill="#b8ab9c"/>
<rect x="863" y="980" width="1" height="2" fill="#b8ab9c"/>
<rect x="863" y="991" width="1" height="2" fill="#b8ab9c"/>
<rect x="867" y="980" width="1" height="2" fill="#b8ab9c"/>
<rect x="867" y="991" width="1" height="2" fill="#b8ab9c"/>
<rect x="872" y="980" width="1" height="2" fill="#b8ab9c"/>
<rect x="872" y="991" width="1" height="2" fill="#b8ab9c"/>
<rect x="876" y="980" width="1" height="2" fill="#b8ab9c"/>
<rect x="876" y="991" width="1" height="2" fill="#b8ab9c"/>
<rect x="880" y="980" width="1" height="2" fill="#b8ab9c"/>
<rect x="880" y="991" width="1" height="2" fill="#b8ab9c"/>
<rect x="885" y="980" width="1" height="2" fill="#b8ab9c"/>
<rect x="885" y="991" width="1" height="2" fill="#b8ab9c"/>
<rect x="889" y="980" width="1" height="2" fill="#b8ab9c"/>
<rect x="889" y="991" width="1" height="2" fill="#b8ab9c"/>
<rect x="894" y="980" width="1" height="2" fill="#b8ab9c"/>
<rect x="894" y="991" width="1" height="2" fill="#b8ab9c"/>
<rect x="898" y="980" width="1" height="2" fill="#b8ab9c"/>
<rect x="898" y="991" width="1" height="2" fill="#b8ab9c"/>
<rect x="902" y="980" width="1" height="2" fill="#b8ab9c"/>
<rect x="902" y="991" width="1" height="2" fill="#b8ab9c"/>
<rect x="907" y="980" width="1" height="2" fill="#b8ab9c"/>
<rect x="907" y="991" width="1" height="2" fill="#b8ab9c"/>
<rect x="911" y="980" width="1" height="2" fill="#b8ab9c"/>
<rect x="911" y="991" width="1" height="2" fill="#b8ab9c"/>
<rect x="916" y="980" width="1" height="2" fill="#b8ab9c"/>
<rect x="916" y="991" width="1" height="2" fill="#b8ab9c"/>
<rect x="920" y="980" width="1" height="2" fill="#b8ab9c"/>
<rect x="920" y="991" width="1" height="2" fill="#b8ab9c"/>
<rect x="924" y="980" width="1" height="2" fill="#b8ab9c"/>
<rect x="924" y="991" width="1" height="2" fill="#b8ab9c"/>
<rect x="929" y="980" width="1" height="2" fill="#b8ab9c"/>
<rect x="929" y="991" width="1" height="2" fill="#b8ab9c"/>
<rect x="933" y="980" width="1" height="2" fill="#b8ab9c"/>
<rect x="933" y="991" width="1" height="2" fill="#b8ab9c"/>
<rect x="938" y="980" width="1" height="2" fill="#b8ab9c"/>
<rect x="938" y="991" width="1" height="2" fill="#b8ab9c"/>
<rect x="942" y="980" width="1" height="2" fill="#b8ab9c"/>
<rect x="942" y="991" width="1" height="2" fill="#b8ab9c"/>
<rect x="946" y="980" width="1" height="2" fill="#b8ab9c"/>
<rect x="946" y="991" width="1" height="2" fill="#b8ab9c"/>
<rect x="951" y="980" width="1" height="2" fill="#b8ab9c"/>
<rect x="951" y="991" width="1" height="2" fill="#b8ab9c"/>
<rect x="955" y="980" width="1" height="2" fill="#b8ab9c"/>
<rect x="955" y="991" width="1" height="2" fill="#b8ab9c"/>
<rect x="960" y="980" width="1" height="2" fill="#b8ab9c"/>
<rect x="960" y="991" width="1" height="2" fill="#b8ab9c"/>
<rect x="964" y="980" width="1" height="2" fill="#b8ab9c"/>
<rect x="964" y="991" width="1" height="2" fill="#b8ab9c"/>
<rect x="968" y="980" width="1" height="2" fill="#b8ab9c"/>
<rect x="968" y="991" width="1" height="2" fill="#b8ab9c"/>
<rect x="973" y="980" width="1" height="2" fill="#b8ab9c"/>
<rect x="973" y="991" width="1" height="2" fill="#b8ab9c"/>
<rect x="977" y="980" width="1" height="2" fill="#b8ab9c"/>
<rect x="977" y="991" width="1" height="2" fill="#b8ab9c"/>
<rect x="982" y="980" width="1" height="2" fill="#b8ab9c"/>
<rect x="982" y="991" width="1" height="2" fill="#b8ab9c"/>
<rect x="986" y="980" width="1" height="2" fill="#b8ab9c"/>
<rect x="986" y="991" width="1" height="2" fill="#b8ab9c"/>
<rect x="990" y="980" width="1" height="2" fill="#b8ab9c"/>
<rect x="990" y="991" width="1" height="2" fill="#b8ab9c"/>
<rect x="995" y="980" width="1" height="2" fill="#b8ab9c"/>
<rect x="995" y="991" width="1" height="2" fill="#b8ab9c"/>
<rect x="999" y="980" width="1" height="2" fill="#b8ab9c"/>
<rect x="999" y="991" width="1" height="2" fill="#b8ab9c"/>
<rect x="1004" y="980" width="1" height="2" fill="#b8ab9c"/>
<rect x="1004" y="991" width="1" height="2" fill="#b8ab9c"/>
<rect x="1008" y="980" width="1" height="2" fill="#b8ab9c"/>
<rect x="1008" y="991" width="1" height="2" fill="#b8ab9c"/>
<rect x="1012" y="980" width="1" height="2" fill="#b8ab9c"/>
<rect x="1012" y="991" width="1" height="2" fill="#b8ab9c"/>
<rect x="1017" y="980" width="1" height="2" fill="#b8ab9c"/>
<rect x="1017" y="991" width="1" height="2" fill="#b8ab9c"/>
<rect x="1021" y="980" width="1" height="2" fill="#b8ab9c"/>
<rect x="1021" y="991" width="1" height="2" fill="#b8ab9c"/>
<rect x="1026" y="980" width="1" height="2" fill="#b8ab9c"/>
<rect x="1026" y="991" width="1" height="2" fill="#b8ab9c"/>
<rect x="1030" y="980" width="1" height="2" fill="#b8ab9c"/>
<rect x="1030" y="991" width="1" height="2" fill="#b8ab9c"/>
<rect x="1034" y="980" width="1" height="2" fill="#b8ab9c"/>
<rect x="1034" y="991" width="1" height="2" fill="#b8ab9c"/>
<rect x="1039" y="980" width="1" height="2" fill="#b8ab9c"/>
<rect x="1039" y="991" width="1" height="2" fill="#b8ab9c"/>
<rect x="1043" y="980" width="1" height="2" fill="#b8ab9c"/>
<rect x="1043" y="991" width="1" height="2" fill="#b8ab9c"/>
<rect x="1048" y="980" width="1" height="2" fill="#b8ab9c"/>
<rect x="1048" y="991" width="1" height="2" fill="#b8ab9c"/>
<rect x="1052" y="980" width="1" height="2" fill="#b8ab9c"/>
<rect x="1052" y="991" width="1" height="2" fill="#b8ab9c"/>
<rect x="1056" y="980" width="1" height="2" fill="#b8ab9c"/>
<rect x="1056" y="991" width="1" height="2" fill="#b8ab9c"/>
<rect x="1061" y="980" width="1" height="2" fill="#b8ab9c"/>
<rect x="1061" y="991" width="1" height="2" fill="#b8ab9c"/>
<rect x="1065" y="980" width="1" height="2" fill="#b8ab9c"/>
<rect x="1065" y="991" width="1" height="2" fill="#b8ab9c"/>
<rect x="1070" y="980" width="1" height="2" fill="#b8ab9c"/>
<rect x="1070" y="991" width="1" height="2" fill="#b8ab9c"/>
<rect x="1074" y="980" width="1" height="2" fill="#b8ab9c"/>
<rect x="1074" y="991" width="1" height="2" fill="#b8ab9c"/>
<rect x="1078" y="980" width="1" height="2" fill="#b8ab9c"/>
<rect x="1078" y="991" width="1" height="2" fill="#b8ab9c"/>
<rect x="1083" y="980" width="1" height="2" fill="#b8ab9c"/>
<rect x="1083" y="991" width="1" height="2" fill="#b8ab9c"/>
<rect x="1087" y="980" width="1" height="2" fill="#b8ab9c"/>
<rect x="1087" y="991" width="1" height="2" fill="#b8ab9c"/>
<rect x="1092" y="980" width="1" height="2" fill="#b8ab9c"/>
<rect x="1092" y="991" width="1" height="2" fill="#b8ab9c"/>
<rect x="1096" y="980" width="1" height="2" fill="#b8ab9c"/>
<rect x="1096" y="991" width="1" height="2" fill="#b8ab9c"/>
<rect x="1100" y="980" width="1" height="2" fill="#b8ab9c"/>
<rect x="1100" y="991" width="1" height="2" fill="#b8ab9c"/>
<rect x="1105" y="980" width="1" height="2" fill="#b8ab9c"/>
<rect x="1105" y="991" width="1" height="2" fill="#b8ab9c"/>
<rect x="1109" y="980" width="1" height="2" fill="#b8ab9c"/>
<rect x="1109" y="991" width="1" height="2" fill="#b8ab9c"/>
<rect x="1114" y="980" width="1" height="2" fill="#b8ab9c"/>
<rect x="1114" y="991" width="1" height="2" fill="#b8ab9c"/>
<rect x="1118" y="980" width="1" height="2" fill="#b8ab9c"/>
<rect x="1118" y="991" width="1" height="2" fill="#b8ab9c"/>
<rect x="1122" y="980" width="1" height="2" fill="#b8ab9c"/>
<rect x="1122" y="991" width="1" height="2" fill="#b8ab9c"/>
<rect x="1127" y="980" width="1" height="2" fill="#b8ab9c"/>
<rect x="1127" y="991" width="1" height="2" fill="#b8ab9c"/>
<rect x="1131" y="980" width="1" height="2" fill="#b8ab9c"/>
<rect x="1131" y="991" width="1" height="2" fill="#b8ab9c"/>
<rect x="1136" y="980" width="1" height="2" fill="#b8ab9c"/>
<rect x="1136" y="991" width="1" height="2" fill="#b8ab9c"/>
<rect x="1140" y="980" width="1" height="2" fill="#b8ab9c"/>
<rect x="1140" y="991" width="1" height="2" fill="#b8ab9c"/>
<rect x="1144" y="980" width="1" height="2" fill="#b8ab9c"/>
<rect x="1144" y="991" width="1" height="2" fill="#b8ab9c"/>
<rect x="1149" y="980" width="1" height="2" fill="#b8ab9c"/>
<rect x="1149" y="991" width="1" height="2" fill="#b8ab9c"/>
<rect x="1153" y="980" width="1" height="2" fill="#b8ab9c"/>
<rect x="1153" y="991" width="1" height="2" fill="#b8ab9c"/>
<rect x="1158" y="980" width="1" height="2" fill="#b8ab9c"/>
<rect x="1158" y="991" width="1" height="2" fill="#b8ab9c"/>
<rect x="1162" y="980" width="1" height="2" fill="#b8ab9c"/>
<rect x="1162" y="991" width="1" height="2" fill="#b8ab9c"/>
<rect x="1166" y="980" width="1" height="2" fill="#b8ab9c"/>
<rect x="1166" y="991" width="1" height="2" fill="#b8ab9c"/>
<rect x="1171" y="980" width="1" height="2" fill="#b8ab9c"/>
<rect x="1171" y="991" width="1" height="2" fill="#b8ab9c"/>
<rect x="1175" y="980" width="1" height="2" fill="#b8ab9c"/>
<rect x="1175" y="991" width="1" height="2" fill="#b8ab9c"/>
<rect x="1180" y="980" width="1" height="2" fill="#b8ab9c"/>
<rect x="1180" y="991" width="1" height="2" fill="#b8ab9c"/>
<rect x="1184" y="980" width="1" height="2" fill="#b8ab9c"/>
<rect x="1184" y="991" width="1" height="2" fill="#b8ab9c"/>
<rect x="1188" y="980" width="1" height="2" fill="#b8ab9c"/>
<rect x="1188" y="991" width="1" height="2" fill="#b8ab9c"/>
<rect x="1193" y="980" width="1" height="2" fill="#b8ab9c"/>
<rect x="1193" y="991" width="1" height="2" fill="#b8ab9c"/>
<rect x="1197" y="980" width="1" height="2" fill="#b8ab9c"/>
<rect x="1197" y="991" width="1" height="2" fill="#b8ab9c"/>
<rect x="1202" y="980" width="1" height="2" fill="#b8ab9c"/>
<rect x="1202" y="991" width="1" height="2" fill="#b8ab9c"/>
<rect x="1206" y="980" width="1" height="2" fill="#b8ab9c"/>
<rect x="1206" y="991" width="1" height="2" fill="#b8ab9c"/>
<rect x="1210" y="980" width="1" height="2" fill="#b8ab9c"/>
<rect x="1210" y="991" width="1" height="2" fill="#b8ab9c"/>
<rect x="1215" y="980" width="1" height="2" fill="#b8ab9c"/>
<rect x="1215" y="991" width="1" height="2" fill="#b8ab9c"/>
<rect x="1219" y="980" width="1" height="2" fill="#b8ab9c"/>
<rect x="1219" y="991" width="1" height="2" fill="#b8ab9c"/>
<rect x="1224" y="980" width="1" height="2" fill="#b8ab9c"/>
<rect x="1224" y="991" width="1" height="2" fill="#b8ab9c"/>
<rect x="1228" y="980" width="1" height="2" fill="#b8ab9c"/>
<rect x="1228" y="991" width="1" height="2" fill="#b8ab9c"/>
<rect x="1232" y="980" width="1" height="2" fill="#b8ab9c"/>
<rect x="1232" y="991" width="1" height="2" fill="#b8ab9c"/>
<rect x="1237" y="980" width="1" height="2" fill="#b8ab9c"/>
<rect x="1237" y="991" width="1" height="2" fill="#b8ab9c"/>
<rect x="1241" y="980" width="1" height="2" fill="#b8ab9c"/>
<rect x="1241" y="991" width="1" height="2" fill="#b8ab9c"/>
<rect x="1246" y="980" width="1" height="2" fill="#b8ab9c"/>
<rect x="1246" y="991" width="1" height="2" fill="#b8ab9c"/>
<rect x="1250" y="980" width="1" height="2" fill="#b8ab9c"/>
<rect x="1250" y="991" width="1" height="2" fill="#b8ab9c"/>
<rect x="1254" y="980" width="1" height="2" fill="#b8ab9c"/>
<rect x="1254" y="991" width="1" height="2" fill="#b8ab9c"/>
<rect x="1259" y="980" width="1" height="2" fill="#b8ab9c"/>
<rect x="1259" y="991" width="1" height="2" fill="#b8ab9c"/>
<rect x="1263" y="980" width="1" height="2" fill="#b8ab9c"/>
<rect x="1263" y="991" width="1" height="2" fill="#b8ab9c"/>
<rect x="1268" y="980" width="1" height="2" fill="#b8ab9c"/>
<rect x="1268" y="991" width="1" height="2" fill="#b8ab9c"/>
<rect x="1272" y="980" width="1" height="2" fill="#b8ab9c"/>
<rect x="1272" y="991" width="1" height="2" fill="#b8ab9c"/>
<rect x="1276" y="980" width="1" height="2" fill="#b8ab9c"/>
<rect x="1276" y="991" width="1" height="2" fill="#b8ab9c"/>
<rect x="1281" y="980" width="1" height="2" fill="#b8ab9c"/>
<rect x="1281" y="991" width="1" height="2" fill="#b8ab9c"/>
<rect x="1285" y="980" width="1" height="2" fill="#b8ab9c"/>
<rect x="1285" y="991" width="1" height="2" fill="#b8ab9c"/>
<rect x="1290" y="980" width="1" height="2" fill="#b8ab9c"/>
<rect x="1290" y="991" width="1" height="2" fill="#b8ab9c"/>
<text x="31.6" y="989.8" font-family="Liberation Sans, sans-serif" font-size="10.8" font-weight="bold" text-anchor="middle">May</text>
<text x="43.6" y="989.8" font-family="Liberation Sans, sans-serif" font-size="10.6" text-anchor="middle" textLength="5.2" lengthAdjust="spacingAndGlyphs">6</text>
<text x="65.6" y="989.8" font-family="Liberation Sans, sans-serif" font-size="10.6" text-anchor="middle" textLength="10.3" lengthAdjust="spacingAndGlyphs">13</text>
<text x="87.6" y="989.8" font-family="Liberation Sans, sans-serif" font-size="10.6" text-anchor="middle" textLength="10.3" lengthAdjust="spacingAndGlyphs">20</text>
<text x="109.6" y="989.8" font-family="Liberation Sans, sans-serif" font-size="10.6" text-anchor="middle" textLength="10.3" lengthAdjust="spacingAndGlyphs">28</text>
<text x="128.6" y="989.8" font-family="Liberation Sans, sans-serif" font-size="10.8" font-weight="bold" text-anchor="middle">Jun</text>
<text x="149.6" y="989.8" font-family="Liberation Sans, sans-serif" font-size="10.6" text-anchor="middle" textLength="10.3" lengthAdjust="spacingAndGlyphs">10</text>
<text x="171.6" y="989.8" font-family="Liberation Sans, sans-serif" font-size="10.6" text-anchor="middle" textLength="10.3" lengthAdjust="spacingAndGlyphs">17</text>
<text x="189.6" y="989.8" font-family="Liberation Sans, sans-serif" font-size="10.6" text-anchor="middle" textLength="10.3" lengthAdjust="spacingAndGlyphs">24</text>
<text x="212.6" y="989.8" font-family="Liberation Sans, sans-serif" font-size="10.8" font-weight="bold" text-anchor="middle">Jul</text>
<text x="228.6" y="989.8" font-family="Liberation Sans, sans-serif" font-size="10.6" text-anchor="middle" textLength="5.2" lengthAdjust="spacingAndGlyphs">8</text>
<text x="250.6" y="989.8" font-family="Liberation Sans, sans-serif" font-size="10.6" text-anchor="middle" textLength="10.3" lengthAdjust="spacingAndGlyphs">15</text>
<text x="272.6" y="989.8" font-family="Liberation Sans, sans-serif" font-size="10.6" text-anchor="middle" textLength="10.3" lengthAdjust="spacingAndGlyphs">22</text>
<text x="308.6" y="989.8" font-family="Liberation Sans, sans-serif" font-size="10.8" font-weight="bold" text-anchor="middle">Aug</text>
<text x="338.6" y="989.8" font-family="Liberation Sans, sans-serif" font-size="10.6" text-anchor="middle" textLength="10.3" lengthAdjust="spacingAndGlyphs">12</text>
<text x="360.6" y="989.8" font-family="Liberation Sans, sans-serif" font-size="10.6" text-anchor="middle" textLength="10.3" lengthAdjust="spacingAndGlyphs">19</text>
<text x="382.6" y="989.8" font-family="Liberation Sans, sans-serif" font-size="10.6" text-anchor="middle" textLength="10.3" lengthAdjust="spacingAndGlyphs">26</text>
<text x="405.6" y="989.8" font-family="Liberation Sans, sans-serif" font-size="10.8" font-weight="bold" text-anchor="middle">Sep</text>
<text x="422.6" y="989.8" font-family="Liberation Sans, sans-serif" font-size="10.6" text-anchor="middle" textLength="5.2" lengthAdjust="spacingAndGlyphs">9</text>
<text x="444.6" y="989.8" font-family="Liberation Sans, sans-serif" font-size="10.6" text-anchor="middle" textLength="10.3" lengthAdjust="spacingAndGlyphs">16</text>
<text x="466.6" y="989.8" font-family="Liberation Sans, sans-serif" font-size="10.6" text-anchor="middle" textLength="10.3" lengthAdjust="spacingAndGlyphs">23</text>
<text x="493.6" y="989.8" font-family="Liberation Sans, sans-serif" font-size="10.8" font-weight="bold" text-anchor="middle">Oct</text>
<text x="510.6" y="989.8" font-family="Liberation Sans, sans-serif" font-size="10.6" text-anchor="middle" textLength="5.2" lengthAdjust="spacingAndGlyphs">7</text>
<text x="532.6" y="989.8" font-family="Liberation Sans, sans-serif" font-size="10.6" text-anchor="middle" textLength="10.3" lengthAdjust="spacingAndGlyphs">14</text>
<text x="554.6" y="989.8" font-family="Liberation Sans, sans-serif" font-size="10.6" text-anchor="middle" textLength="10.3" lengthAdjust="spacingAndGlyphs">21</text>
<text x="576.6" y="989.8" font-family="Liberation Sans, sans-serif" font-size="10.6" text-anchor="middle" textLength="10.3" lengthAdjust="spacingAndGlyphs">28</text>
<text x="594.6" y="989.8" font-family="Liberation Sans, sans-serif" font-size="10.8" font-weight="bold" text-anchor="middle">Nov</text>
<text x="620.6" y="989.8" font-family="Liberation Sans, sans-serif" font-size="10.6" text-anchor="middle" textLength="10.3" lengthAdjust="spacingAndGlyphs">11</text>
<text x="642.6" y="989.8" font-family="Liberation Sans, sans-serif" font-size="10.6" text-anchor="middle" textLength="10.3" lengthAdjust="spacingAndGlyphs">18</text>
<text x="664.6" y="989.8" font-family="Liberation Sans, sans-serif" font-size="10.6" text-anchor="middle" textLength="10.3" lengthAdjust="spacingAndGlyphs">25</text>
<text x="682.6" y="989.8" font-family="Liberation Sans, sans-serif" font-size="10.8" font-weight="bold" text-anchor="middle">Dec</text>
<text x="703.6" y="989.8" font-family="Liberation Sans, sans-serif" font-size="10.6" text-anchor="middle" textLength="5.2" lengthAdjust="spacingAndGlyphs">9</text>
<text x="725.6" y="989.8" font-family="Liberation Sans, sans-serif" font-size="10.6" text-anchor="middle" textLength="10.3" lengthAdjust="spacingAndGlyphs">16</text>
<text x="747.6" y="989.8" font-family="Liberation Sans, sans-serif" font-size="10.6" text-anchor="middle" textLength="10.3" lengthAdjust="spacingAndGlyphs">23</text>
<text x="775.6" y="989.8" font-family="Liberation Sans, sans-serif" font-size="10.8" font-weight="bold" text-anchor="middle">2025</text>
<text x="800.6" y="989.8" font-family="Liberation Sans, sans-serif" font-size="10.6" text-anchor="middle" textLength="10.3" lengthAdjust="spacingAndGlyphs">13</text>
<text x="822.6" y="989.8" font-family="Liberation Sans, sans-serif" font-size="10.6" text-anchor="middle" textLength="10.3" lengthAdjust="spacingAndGlyphs">21</text>
<text x="840.6" y="989.8" font-family="Liberation Sans, sans-serif" font-size="10.6" text-anchor="middle" textLength="10.3" lengthAdjust="spacingAndGlyphs">27</text>
<text x="863.6" y="989.8" font-family="Liberation Sans, sans-serif" font-size="10.8" font-weight="bold" text-anchor="middle">Feb</text>
<text x="884.6" y="989.8" font-family="Liberation Sans, sans-serif" font-size="10.6" text-anchor="middle" textLength="10.3" lengthAdjust="spacingAndGlyphs">10</text>
<text x="906.6" y="989.8" font-family="Liberation Sans, sans-serif" font-size="10.6" text-anchor="middle" textLength="10.3" lengthAdjust="spacingAndGlyphs">18</text>
<text x="923.6" y="989.8" font-family="Liberation Sans, sans-serif" font-size="10.6" text-anchor="middle" textLength="10.3" lengthAdjust="spacingAndGlyphs">24</text>
<text x="946.6" y="989.8" font-family="Liberation Sans, sans-serif" font-size="10.8" font-weight="bold" text-anchor="middle">Mar</text>
<text x="967.6" y="989.8" font-family="Liberation Sans, sans-serif" font-size="10.6" text-anchor="middle" textLength="10.3" lengthAdjust="spacingAndGlyphs">10</text>
<text x="989.6" y="989.8" font-family="Liberation Sans, sans-serif" font-size="10.6" text-anchor="middle" textLength="10.3" lengthAdjust="spacingAndGlyphs">17</text>
<text x="1011.6" y="989.8" font-family="Liberation Sans, sans-serif" font-size="10.6" text-anchor="middle" textLength="10.3" lengthAdjust="spacingAndGlyphs">24</text>
<text x="1039.6" y="989.8" font-family="Liberation Sans, sans-serif" font-size="10.8" font-weight="bold" text-anchor="middle">Apr</text>
<text x="1055.6" y="989.8" font-family="Liberation Sans, sans-serif" font-size="10.6" text-anchor="middle" textLength="5.2" lengthAdjust="spacingAndGlyphs">7</text>
<text x="1077.6" y="989.8" font-family="Liberation Sans, sans-serif" font-size="10.6" text-anchor="middle" textLength="10.3" lengthAdjust="spacingAndGlyphs">14</text>
<text x="1095.6" y="989.8" font-family="Liberation Sans, sans-serif" font-size="10.6" text-anchor="middle" textLength="10.3" lengthAdjust="spacingAndGlyphs">21</text>
<text x="1131.6" y="989.8" font-family="Liberation Sans, sans-serif" font-size="10.8" font-weight="bold" text-anchor="middle">May</text>
<text x="1161.6" y="989.8" font-family="Liberation Sans, sans-serif" font-size="10.6" text-anchor="middle" textLength="10.3" lengthAdjust="spacingAndGlyphs">12</text>
<text x="1183.6" y="989.8" font-family="Liberation Sans, sans-serif" font-size="10.6" text-anchor="middle" textLength="10.3" lengthAdjust="spacingAndGlyphs">19</text>
<text x="1205.6" y="989.8" font-family="Liberation Sans, sans-serif" font-size="10.6" text-anchor="middle" textLength="10.3" lengthAdjust="spacingAndGlyphs">27</text>
<text x="1224.6" y="989.8" font-family="Liberation Sans, sans-serif" font-size="10.8" font-weight="bold" text-anchor="middle">Jun</text>
<text x="1245.6" y="989.8" font-family="Liberation Sans, sans-serif" font-size="10.6" text-anchor="middle" textLength="5.2" lengthAdjust="spacingAndGlyphs">9</text>
<text x="1267.6" y="989.8" font-family="Liberation Sans, sans-serif" font-size="10.6" text-anchor="middle" textLength="10.3" lengthAdjust="spacingAndGlyphs">16</text>
<text x="1284.6" y="989.8" font-family="Liberation Sans, sans-serif" font-size="10.6" text-anchor="middle" textLength="10.3" lengthAdjust="spacingAndGlyphs">23</text>
<rect x="18" y="1177" width="1" height="2" fill="#b8ab9c"/>
<rect x="22" y="1177" width="1" height="2" fill="#b8ab9c"/>
<rect x="27" y="1177" width="1" height="2" fill="#b8ab9c"/>
<rect x="31" y="1177" width="1" height="2" fill="#b8ab9c"/>
<rect x="36" y="1177" width="1" height="2" fill="#b8ab9c"/>
<rect x="40" y="1177" width="1" height="2" fill="#b8ab9c"/>
<rect x="44" y="1177" width="1" height="2" fill="#b8ab9c"/>
<rect x="49" y="1177" width="1" height="2" fill="#b8ab9c"/>
<rect x="53" y="1177" width="1" height="2" fill="#b8ab9c"/>
<rect x="58" y="1177" width="1" height="2" fill="#b8ab9c"/>
<rect x="62" y="1177" width="1" height="2" fill="#b8ab9c"/>
<rect x="66" y="1177" width="1" height="2" fill="#b8ab9c"/>
<rect x="71" y="1177" width="1" height="2" fill="#b8ab9c"/>
<rect x="75" y="1177" width="1" height="2" fill="#b8ab9c"/>
<rect x="80" y="1177" width="1" height="2" fill="#b8ab9c"/>
<rect x="84" y="1177" width="1" height="2" fill="#b8ab9c"/>
<rect x="88" y="1177" width="1" height="2" fill="#b8ab9c"/>
<rect x="93" y="1177" width="1" height="2" fill="#b8ab9c"/>
<rect x="97" y="1177" width="1" height="2" fill="#b8ab9c"/>
<rect x="102" y="1177" width="1" height="2" fill="#b8ab9c"/>
<rect x="106" y="1177" width="1" height="2" fill="#b8ab9c"/>
<rect x="110" y="1177" width="1" height="2" fill="#b8ab9c"/>
<rect x="115" y="1177" width="1" height="2" fill="#b8ab9c"/>
<rect x="119" y="1177" width="1" height="2" fill="#b8ab9c"/>
<rect x="124" y="1177" width="1" height="2" fill="#b8ab9c"/>
<rect x="128" y="1177" width="1" height="2" fill="#b8ab9c"/>
<rect x="132" y="1177" width="1" height="2" fill="#b8ab9c"/>
<rect x="137" y="1177" width="1" height="2" fill="#b8ab9c"/>
<rect x="141" y="1177" width="1" height="2" fill="#b8ab9c"/>
<rect x="146" y="1177" width="1" height="2" fill="#b8ab9c"/>
<rect x="150" y="1177" width="1" height="2" fill="#b8ab9c"/>
<rect x="154" y="1177" width="1" height="2" fill="#b8ab9c"/>
<rect x="159" y="1177" width="1" height="2" fill="#b8ab9c"/>
<rect x="163" y="1177" width="1" height="2" fill="#b8ab9c"/>
<rect x="168" y="1177" width="1" height="2" fill="#b8ab9c"/>
<rect x="172" y="1177" width="1" height="2" fill="#b8ab9c"/>
<rect x="176" y="1177" width="1" height="2" fill="#b8ab9c"/>
<rect x="181" y="1177" width="1" height="2" fill="#b8ab9c"/>
<rect x="185" y="1177" width="1" height="2" fill="#b8ab9c"/>
<rect x="190" y="1177" width="1" height="2" fill="#b8ab9c"/>
<rect x="194" y="1177" width="1" height="2" fill="#b8ab9c"/>
<rect x="198" y="1177" width="1" height="2" fill="#b8ab9c"/>
<rect x="203" y="1177" width="1" height="2" fill="#b8ab9c"/>
<rect x="207" y="1177" width="1" height="2" fill="#b8ab9c"/>
<rect x="212" y="1177" width="1" height="2" fill="#b8ab9c"/>
<rect x="216" y="1177" width="1" height="2" fill="#b8ab9c"/>
<rect x="220" y="1177" width="1" height="2" fill="#b8ab9c"/>
<rect x="225" y="1177" width="1" height="2" fill="#b8ab9c"/>
<rect x="229" y="1177" width="1" height="2" fill="#b8ab9c"/>
<rect x="234" y="1177" width="1" height="2" fill="#b8ab9c"/>
<rect x="238" y="1177" width="1" height="2" fill="#b8ab9c"/>
<rect x="242" y="1177" width="1" height="2" fill="#b8ab9c"/>
<rect x="247" y="1177" width="1" height="2" fill="#b8ab9c"/>
<rect x="251" y="1177" width="1" height="2" fill="#b8ab9c"/>
<rect x="256" y="1177" width="1" height="2" fill="#b8ab9c"/>
<rect x="260" y="1177" width="1" height="2" fill="#b8ab9c"/>
<rect x="264" y="1177" width="1" height="2" fill="#b8ab9c"/>
<rect x="269" y="1177" width="1" height="2" fill="#b8ab9c"/>
<rect x="273" y="1177" width="1" height="2" fill="#b8ab9c"/>
<rect x="278" y="1177" width="1" height="2" fill="#b8ab9c"/>
<rect x="282" y="1177" width="1" height="2" fill="#b8ab9c"/>
<rect x="286" y="1177" width="1" height="2" fill="#b8ab9c"/>
<rect x="291" y="1177" width="1" height="2" fill="#b8ab9c"/>
<rect x="295" y="1177" width="1" height="2" fill="#b8ab9c"/>
<rect x="300" y="1177" width="1" height="2" fill="#b8ab9c"/>
<rect x="304" y="1177" width="1" height="2" fill="#b8ab9c"/>
<rect x="308" y="1177" width="1" height="2" fill="#b8ab9c"/>
<rect x="313" y="1177" width="1" height="2" fill="#b8ab9c"/>
<rect x="317" y="1177" width="1" height="2" fill="#b8ab9c"/>
<rect x="322" y="1177" width="1" height="2" fill="#b8ab9c"/>
<rect x="326" y="1177" width="1" height="2" fill="#b8ab9c"/>
<rect x="330" y="1177" width="1" height="2" fill="#b8ab9c"/>
<rect x="335" y="1177" width="1" height="2" fill="#b8ab9c"/>
<rect x="339" y="1177" width="1" height="2" fill="#b8ab9c"/>
<rect x="344" y="1177" width="1" height="2" fill="#b8ab9c"/>
<rect x="348" y="1177" width="1" height="2" fill="#b8ab9c"/>
<rect x="352" y="1177" width="1" height="2" fill="#b8ab9c"/>
<rect x="357" y="1177" width="1" height="2" fill="#b8ab9c"/>
<rect x="361" y="1177" width="1" height="2" fill="#b8ab9c"/>
<rect x="366" y="1177" width="1" height="2" fill="#b8ab9c"/>
<rect x="370" y="1177" width="1" height="2" fill="#b8ab9c"/>
<rect x="374" y="1177" width="1" height="2" fill="#b8ab9c"/>
<rect x="379" y="1177" width="1" height="2" fill="#b8ab9c"/>
<rect x="383" y="1177" width="1" height="2" fill="#b8ab9c"/>
<rect x="388" y="1177" width="1" height="2" fill="#b8ab9c"/>
<rect x="392" y="1177" width="1" height="2" fill="#b8ab9c"/>
<rect x="396" y="1177" width="1" height="2" fill="#b8ab9c"/>
<rect x="401" y="1177" width="1" height="2" fill="#b8ab9c"/>
<rect x="405" y="1177" width="1" height="2" fill="#b8ab9c"/>
<rect x="410" y="1177" width="1" height="2" fill="#b8ab9c"/>
<rect x="414" y="1177" width="1" height="2" fill="#b8ab9c"/>
<rect x="418" y="1177" width="1" height="2" fill="#b8ab9c"/>
<rect x="423" y="1177" width="1" height="2" fill="#b8ab9c"/>
<rect x="427" y="1177" width="1" height="2" fill="#b8ab9c"/>
<rect x="432" y="1177" width="1" height="2" fill="#b8ab9c"/>
<rect x="436" y="1177" width="1" height="2" fill="#b8ab9c"/>
<rect x="440" y="1177" width="1" height="2" fill="#b8ab9c"/>
<rect x="445" y="1177" width="1" height="2" fill="#b8ab9c"/>
<rect x="449" y="1177" width="1" height="2" fill="#b8ab9c"/>
<rect x="454" y="1177" width="1" height="2" fill="#b8ab9c"/>
<rect x="458" y="1177" width="1" height="2" fill="#b8ab9c"/>
<rect x="462" y="1177" width="1" height="2" fill="#b8ab9c"/>
<rect x="467" y="1177" width="1" height="2" fill="#b8ab9c"/>
<rect x="471" y="1177" width="1" height="2" fill="#b8ab9c"/>
<rect x="476" y="1177" width="1" height="2" fill="#b8ab9c"/>
<rect x="480" y="1177" width="1" height="2" fill="#b8ab9c"/>
<rect x="484" y="1177" width="1" height="2" fill="#b8ab9c"/>
<rect x="489" y="1177" width="1" height="2" fill="#b8ab9c"/>
<rect x="493" y="1177" width="1" height="2" fill="#b8ab9c"/>
<rect x="498" y="1177" width="1" height="2" fill="#b8ab9c"/>
<rect x="502" y="1177" width="1" height="2" fill="#b8ab9c"/>
<rect x="506" y="1177" width="1" height="2" fill="#b8ab9c"/>
<rect x="511" y="1177" width="1" height="2" fill="#b8ab9c"/>
<rect x="515" y="1177" width="1" height="2" fill="#b8ab9c"/>
<rect x="520" y="1177" width="1" height="2" fill="#b8ab9c"/>
<rect x="524" y="1177" width="1" height="2" fill="#b8ab9c"/>
<rect x="528" y="1177" width="1" height="2" fill="#b8ab9c"/>
<rect x="533" y="1177" width="1" height="2" fill="#b8ab9c"/>
<rect x="537" y="1177" width="1" height="2" fill="#b8ab9c"/>
<rect x="542" y="1177" width="1" height="2" fill="#b8ab9c"/>
<rect x="546" y="1177" width="1" height="2" fill="#b8ab9c"/>
<rect x="550" y="1177" width="1" height="2" fill="#b8ab9c"/>
<rect x="555" y="1177" width="1" height="2" fill="#b8ab9c"/>
<rect x="559" y="1177" width="1" height="2" fill="#b8ab9c"/>
<rect x="564" y="1177" width="1" height="2" fill="#b8ab9c"/>
<rect x="568" y="1177" width="1" height="2" fill="#b8ab9c"/>
<rect x="572" y="1177" width="1" height="2" fill="#b8ab9c"/>
<rect x="577" y="1177" width="1" height="2" fill="#b8ab9c"/>
<rect x="581" y="1177" width="1" height="2" fill="#b8ab9c"/>
<rect x="586" y="1177" width="1" height="2" fill="#b8ab9c"/>
<rect x="590" y="1177" width="1" height="2" fill="#b8ab9c"/>
<rect x="594" y="1177" width="1" height="2" fill="#b8ab9c"/>
<rect x="599" y="1177" width="1" height="2" fill="#b8ab9c"/>
<rect x="603" y="1177" width="1" height="2" fill="#b8ab9c"/>
<rect x="608" y="1177" width="1" height="2" fill="#b8ab9c"/>
<rect x="612" y="1177" width="1" height="2" fill="#b8ab9c"/>
<rect x="616" y="1177" width="1" height="2" fill="#b8ab9c"/>
<rect x="621" y="1177" width="1" height="2" fill="#b8ab9c"/>
<rect x="625" y="1177" width="1" height="2" fill="#b8ab9c"/>
<rect x="630" y="1177" width="1" height="2" fill="#b8ab9c"/>
<rect x="634" y="1177" width="1" height="2" fill="#b8ab9c"/>
<rect x="638" y="1177" width="1" height="2" fill="#b8ab9c"/>
<rect x="643" y="1177" width="1" height="2" fill="#b8ab9c"/>
<rect x="647" y="1177" width="1" height="2" fill="#b8ab9c"/>
<rect x="652" y="1177" width="1" height="2" fill="#b8ab9c"/>
<rect x="656" y="1177" width="1" height="2" fill="#b8ab9c"/>
<rect x="660" y="1177" width="1" height="2" fill="#b8ab9c"/>
<rect x="665" y="1177" width="1" height="2" fill="#b8ab9c"/>
<rect x="669" y="1177" width="1" height="2" fill="#b8ab9c"/>
<rect x="674" y="1177" width="1" height="2" fill="#b8ab9c"/>
<rect x="678" y="1177" width="1" height="2" fill="#b8ab9c"/>
<rect x="682" y="1177" width="1" height="2" fill="#b8ab9c"/>
<rect x="687" y="1177" width="1" height="2" fill="#b8ab9c"/>
<rect x="691" y="1177" width="1" height="2" fill="#b8ab9c"/>
<rect x="696" y="1177" width="1" height="2" fill="#b8ab9c"/>
<rect x="700" y="1177" width="1" height="2" fill="#b8ab9c"/>
<rect x="704" y="1177" width="1" height="2" fill="#b8ab9c"/>
<rect x="709" y="1177" width="1" height="2" fill="#b8ab9c"/>
<rect x="713" y="1177" width="1" height="2" fill="#b8ab9c"/>
<rect x="718" y="1177" width="1" height="2" fill="#b8ab9c"/>
<rect x="722" y="1177" width="1" height="2" fill="#b8ab9c"/>
<rect x="726" y="1177" width="1" height="2" fill="#b8ab9c"/>
<rect x="731" y="1177" width="1" height="2" fill="#b8ab9c"/>
<rect x="735" y="1177" width="1" height="2" fill="#b8ab9c"/>
<rect x="740" y="1177" width="1" height="2" fill="#b8ab9c"/>
<rect x="744" y="1177" width="1" height="2" fill="#b8ab9c"/>
<rect x="748" y="1177" width="1" height="2" fill="#b8ab9c"/>
<rect x="753" y="1177" width="1" height="2" fill="#b8ab9c"/>
<rect x="757" y="1177" width="1" height="2" fill="#b8ab9c"/>
<rect x="762" y="1177" width="1" height="2" fill="#b8ab9c"/>
<rect x="766" y="1177" width="1" height="2" fill="#b8ab9c"/>
<rect x="770" y="1177" width="1" height="2" fill="#b8ab9c"/>
<rect x="775" y="1177" width="1" height="2" fill="#b8ab9c"/>
<rect x="779" y="1177" width="1" height="2" fill="#b8ab9c"/>
<rect x="784" y="1177" width="1" height="2" fill="#b8ab9c"/>
<rect x="788" y="1177" width="1" height="2" fill="#b8ab9c"/>
<rect x="792" y="1177" width="1" height="2" fill="#b8ab9c"/>
<rect x="797" y="1177" width="1" height="2" fill="#b8ab9c"/>
<rect x="801" y="1177" width="1" height="2" fill="#b8ab9c"/>
<rect x="806" y="1177" width="1" height="2" fill="#b8ab9c"/>
<rect x="810" y="1177" width="1" height="2" fill="#b8ab9c"/>
<rect x="814" y="1177" width="1" height="2" fill="#b8ab9c"/>
<rect x="819" y="1177" width="1" height="2" fill="#b8ab9c"/>
<rect x="823" y="1177" width="1" height="2" fill="#b8ab9c"/>
<rect x="828" y="1177" width="1" height="2" fill="#b8ab9c"/>
<rect x="832" y="1177" width="1" height="2" fill="#b8ab9c"/>
<rect x="836" y="1177" width="1" height="2" fill="#b8ab9c"/>
<rect x="841" y="1177" width="1" height="2" fill="#b8ab9c"/>
<rect x="845" y="1177" width="1" height="2" fill="#b8ab9c"/>
<rect x="850" y="1177" width="1" height="2" fill="#b8ab9c"/>
<rect x="854" y="1177" width="1" height="2" fill="#b8ab9c"/>
<rect x="858" y="1177" width="1" height="2" fill="#b8ab9c"/>
<rect x="863" y="1177" width="1" height="2" fill="#b8ab9c"/>
<rect x="867" y="1177" width="1" height="2" fill="#b8ab9c"/>
<rect x="872" y="1177" width="1" height="2" fill="#b8ab9c"/>
<rect x="876" y="1177" width="1" height="2" fill="#b8ab9c"/>
<rect x="880" y="1177" width="1" height="2" fill="#b8ab9c"/>
<rect x="885" y="1177" width="1" height="2" fill="#b8ab9c"/>
<rect x="889" y="1177" width="1" height="2" fill="#b8ab9c"/>
<rect x="894" y="1177" width="1" height="2" fill="#b8ab9c"/>
<rect x="898" y="1177" width="1" height="2" fill="#b8ab9c"/>
<rect x="902" y="1177" width="1" height="2" fill="#b8ab9c"/>
<rect x="907" y="1177" width="1" height="2" fill="#b8ab9c"/>
<rect x="911" y="1177" width="1" height="2" fill="#b8ab9c"/>
<rect x="916" y="1177" width="1" height="2" fill="#b8ab9c"/>
<rect x="920" y="1177" width="1" height="2" fill="#b8ab9c"/>
<rect x="924" y="1177" width="1" height="2" fill="#b8ab9c"/>
<rect x="929" y="1177" width="1" height="2" fill="#b8ab9c"/>
<rect x="933" y="1177" width="1" height="2" fill="#b8ab9c"/>
<rect x="938" y="1177" width="1" height="2" fill="#b8ab9c"/>
<rect x="942" y="1177" width="1" height="2" fill="#b8ab9c"/>
<rect x="946" y="1177" width="1" height="2" fill="#b8ab9c"/>
<rect x="951" y="1177" width="1" height="2" fill="#b8ab9c"/>
<rect x="955" y="1177" width="1" height="2" fill="#b8ab9c"/>
<rect x="960" y="1177" width="1" height="2" fill="#b8ab9c"/>
<rect x="964" y="1177" width="1" height="2" fill="#b8ab9c"/>
<rect x="968" y="1177" width="1" height="2" fill="#b8ab9c"/>
<rect x="973" y="1177" width="1" height="2" fill="#b8ab9c"/>
<rect x="977" y="1177" width="1" height="2" fill="#b8ab9c"/>
<rect x="982" y="1177" width="1" height="2" fill="#b8ab9c"/>
<rect x="986" y="1177" width="1" height="2" fill="#b8ab9c"/>
<rect x="990" y="1177" width="1" height="2" fill="#b8ab9c"/>
<rect x="995" y="1177" width="1" height="2" fill="#b8ab9c"/>
<rect x="999" y="1177" width="1" height="2" fill="#b8ab9c"/>
<rect x="1004" y="1177" width="1" height="2" fill="#b8ab9c"/>
<rect x="1008" y="1177" width="1" height="2" fill="#b8ab9c"/>
<rect x="1012" y="1177" width="1" height="2" fill="#b8ab9c"/>
<rect x="1017" y="1177" width="1" height="2" fill="#b8ab9c"/>
<rect x="1021" y="1177" width="1" height="2" fill="#b8ab9c"/>
<rect x="1026" y="1177" width="1" height="2" fill="#b8ab9c"/>
<rect x="1030" y="1177" width="1" height="2" fill="#b8ab9c"/>
<rect x="1034" y="1177" width="1" height="2" fill="#b8ab9c"/>
<rect x="1039" y="1177" width="1" height="2" fill="#b8ab9c"/>
<rect x="1043" y="1177" width="1" height="2" fill="#b8ab9c"/>
<rect x="1048" y="1177" width="1" height="2" fill="#b8ab9c"/>
<rect x="1052" y="1177" width="1" height="2" fill="#b8ab9c"/>
<rect x="1056" y="1177" width="1" height="2" fill="#b8ab9c"/>
<rect x="1061" y="1177" width="1" height="2" fill="#b8ab9c"/>
<rect x="1065" y="1177" width="1" height="2" fill="#b8ab9c"/>
<rect x="1070" y="1177" width="1" height="2" fill="#b8ab9c"/>
<rect x="1074" y="1177" width="1" height="2" fill="#b8ab9c"/>
<rect x="1078" y="1177" width="1" height="2" fill="#b8ab9c"/>
<rect x="1083" y="1177" width="1" height="2" fill="#b8ab9c"/>
<rect x="1087" y="1177" width="1" height="2" fill="#b8ab9c"/>
<rect x="1092" y="1177" width="1" height="2" fill="#b8ab9c"/>
<rect x="1096" y="1177" width="1" height="2" fill="#b8ab9c"/>
<rect x="1100" y="1177" width="1" height="2" fill="#b8ab9c"/>
<rect x="1105" y="1177" width="1" height="2" fill="#b8ab9c"/>
<rect x="1109" y="1177" width="1" height="2" fill="#b8ab9c"/>
<rect x="1114" y="1177" width="1" height="2" fill="#b8ab9c"/>
<rect x="1118" y="1177" width="1" height="2" fill="#b8ab9c"/>
<rect x="1122" y="1177" width="1" height="2" fill="#b8ab9c"/>
<rect x="1127" y="1177" width="1" height="2" fill="#b8ab9c"/>
<rect x="1131" y="1177" width="1" height="2" fill="#b8ab9c"/>
<rect x="1136" y="1177" width="1" height="2" fill="#b8ab9c"/>
<rect x="1140" y="1177" width="1" height="2" fill="#b8ab9c"/>
<rect x="1144" y="1177" width="1" height="2" fill="#b8ab9c"/>
<rect x="1149" y="1177" width="1" height="2" fill="#b8ab9c"/>
<rect x="1153" y="1177" width="1" height="2" fill="#b8ab9c"/>
<rect x="1158" y="1177" width="1" height="2" fill="#b8ab9c"/>
<rect x="1162" y="1177" width="1" height="2" fill="#b8ab9c"/>
<rect x="1166" y="1177" width="1" height="2" fill="#b8ab9c"/>
<rect x="1171" y="1177" width="1" height="2" fill="#b8ab9c"/>
<rect x="1175" y="1177" width="1" height="2" fill="#b8ab9c"/>
<rect x="1180" y="1177" width="1" height="2" fill="#b8ab9c"/>
<rect x="1184" y="1177" width="1" height="2" fill="#b8ab9c"/>
<rect x="1188" y="1177" width="1" height="2" fill="#b8ab9c"/>
<rect x="1193" y="1177" width="1" height="2" fill="#b8ab9c"/>
<rect x="1197" y="1177" width="1" height="2" fill="#b8ab9c"/>
<rect x="1202" y="1177" width="1" height="2" fill="#b8ab9c"/>
<rect x="1206" y="1177" width="1" height="2" fill="#b8ab9c"/>
<rect x="1210" y="1177" width="1" height="2" fill="#b8ab9c"/>
<rect x="1215" y="1177" width="1" height="2" fill="#b8ab9c"/>
<rect x="1219" y="1177" width="1" height="2" fill="#b8ab9c"/>
<rect x="1224" y="1177" width="1" height="2" fill="#b8ab9c"/>
<rect x="1228" y="1177" width="1" height="2" fill="#b8ab9c"/>
<rect x="1232" y="1177" width="1" height="2" fill="#b8ab9c"/>
<rect x="1237" y="1177" width="1" height="2" fill="#b8ab9c"/>
<rect x="1241" y="1177" width="1" height="2" fill="#b8ab9c"/>
<rect x="1246" y="1177" width="1" height="2" fill="#b8ab9c"/>
<rect x="1250" y="1177" width="1" height="2" fill="#b8ab9c"/>
<rect x="1254" y="1177" width="1" height="2" fill="#b8ab9c"/>
<rect x="1259" y="1177" width="1" height="2" fill="#b8ab9c"/>
<rect x="1263" y="1177" width="1" height="2" fill="#b8ab9c"/>
<rect x="1268" y="1177" width="1" height="2" fill="#b8ab9c"/>
<rect x="1272" y="1177" width="1" height="2" fill="#b8ab9c"/>
<rect x="1276" y="1177" width="1" height="2" fill="#b8ab9c"/>
<rect x="1281" y="1177" width="1" height="2" fill="#b8ab9c"/>
<rect x="1285" y="1177" width="1" height="2" fill="#b8ab9c"/>
<rect x="1290" y="1177" width="1" height="2" fill="#b8ab9c"/>
<text x="31.6" y="1186.8" font-family="Liberation Sans, sans-serif" font-size="10.8" font-weight="bold" text-anchor="middle">May</text>
<text x="43.6" y="1186.8" font-family="Liberation Sans, sans-serif" font-size="10.6" text-anchor="middle" textLength="5.2" lengthAdjust="spacingAndGlyphs">6</text>
<text x="65.6" y="1186.8" font-family="Liberation Sans, sans-serif" font-size="10.6" text-anchor="middle" textLength="10.3" lengthAdjust="spacingAndGlyphs">13</text>
<text x="87.6" y="1186.8" font-family="Liberation Sans, sans-serif" font-size="10.6" text-anchor="middle" textLength="10.3" lengthAdjust="spacingAndGlyphs">20</text>
<text x="109.6" y="1186.8" font-family="Liberation Sans, sans-serif" font-size="10.6" text-anchor="middle" textLength="10.3" lengthAdjust="spacingAndGlyphs">28</text>
<text x="128.6" y="1186.8" font-family="Liberation Sans, sans-serif" font-size="10.8" font-weight="bold" text-anchor="middle">Jun</text>
<text x="149.6" y="1186.8" font-family="Liberation Sans, sans-serif" font-size="10.6" text-anchor="middle" textLength="10.3" lengthAdjust="spacingAndGlyphs">10</text>
<text x="171.6" y="1186.8" font-family="Liberation Sans, sans-serif" font-size="10.6" text-anchor="middle" textLength="10.3" lengthAdjust="spacingAndGlyphs">17</text>
<text x="189.6" y="1186.8" font-family="Liberation Sans, sans-serif" font-size="10.6" text-anchor="middle" textLength="10.3" lengthAdjust="spacingAndGlyphs">24</text>
<text x="212.6" y="1186.8" font-family="Liberation Sans, sans-serif" font-size="10.8" font-weight="bold" text-anchor="middle">Jul</text>
<text x="228.6" y="1186.8" font-family="Liberation Sans, sans-serif" font-size="10.6" text-anchor="middle" textLength="5.2" lengthAdjust="spacingAndGlyphs">8</text>
<text x="250.6" y="1186.8" font-family="Liberation Sans, sans-serif" font-size="10.6" text-anchor="middle" textLength="10.3" lengthAdjust="spacingAndGlyphs">15</text>
<text x="272.6" y="1186.8" font-family="Liberation Sans, sans-serif" font-size="10.6" text-anchor="middle" textLength="10.3" lengthAdjust="spacingAndGlyphs">22</text>
<text x="308.6" y="1186.8" font-family="Liberation Sans, sans-serif" font-size="10.8" font-weight="bold" text-anchor="middle">Aug</text>
<text x="338.6" y="1186.8" font-family="Liberation Sans, sans-serif" font-size="10.6" text-anchor="middle" textLength="10.3" lengthAdjust="spacingAndGlyphs">12</text>
<text x="360.6" y="1186.8" font-family="Liberation Sans, sans-serif" font-size="10.6" text-anchor="middle" textLength="10.3" lengthAdjust="spacingAndGlyphs">19</text>
<text x="382.6" y="1186.8" font-family="Liberation Sans, sans-serif" font-size="10.6" text-anchor="middle" textLength="10.3" lengthAdjust="spacingAndGlyphs">26</text>
<text x="405.6" y="1186.8" font-family="Liberation Sans, sans-serif" font-size="10.8" font-weight="bold" text-anchor="middle">Sep</text>
<text x="422.6" y="1186.8" font-family="Liberation Sans, sans-serif" font-size="10.6" text-anchor="middle" textLength="5.2" lengthAdjust="spacingAndGlyphs">9</text>
<text x="444.6" y="1186.8" font-family="Liberation Sans, sans-serif" font-size="10.6" text-anchor="middle" textLength="10.3" lengthAdjust="spacingAndGlyphs">16</text>
<text x="466.6" y="1186.8" font-family="Liberation Sans, sans-serif" font-size="10.6" text-anchor="middle" textLength="10.3" lengthAdjust="spacingAndGlyphs">23</text>
<text x="493.6" y="1186.8" font-family="Liberation Sans, sans-serif" font-size="10.8" font-weight="bold" text-anchor="middle">Oct</text>
<text x="510.6" y="1186.8" font-family="Liberation Sans, sans-serif" font-size="10.6" text-anchor="middle" textLength="5.2" lengthAdjust="spacingAndGlyphs">7</text>
<text x="532.6" y="1186.8" font-family="Liberation Sans, sans-serif" font-size="10.6" text-anchor="middle" textLength="10.3" lengthAdjust="spacingAndGlyphs">14</text>
<text x="554.6" y="1186.8" font-family="Liberation Sans, sans-serif" font-size="10.6" text-anchor="middle" textLength="10.3" lengthAdjust="spacingAndGlyphs">21</text>
<text x="576.6" y="1186.8" font-family="Liberation Sans, sans-serif" font-size="10.6" text-anchor="middle" textLength="10.3" lengthAdjust="spacingAndGlyphs">28</text>
<text x="594.6" y="1186.8" font-family="Liberation Sans, sans-serif" font-size="10.8" font-weight="bold" text-anchor="middle">Nov</text>
<text x="620.6" y="1186.8" font-family="Liberation Sans, sans-serif" font-size="10.6" text-anchor="middle" textLength="10.3" lengthAdjust="spacingAndGlyphs">11</text>
<text x="642.6" y="1186.8" font-family="Liberation Sans, sans-serif" font-size="10.6" text-anchor="middle" textLength="10.3" lengthAdjust="spacingAndGlyphs">18</text>
<text x="664.6" y="1186.8" font-family="Liberation Sans, sans-serif" font-size="10.6" text-anchor="middle" textLength="10.3" lengthAdjust="spacingAndGlyphs">25</text>
<text x="682.6" y="1186.8" font-family="Liberation Sans, sans-serif" font-size="10.8" font-weight="bold" text-anchor="middle">Dec</text>
<text x="703.6" y="1186.8" font-family="Liberation Sans, sans-serif" font-size="10.6" text-anchor="middle" textLength="5.2" lengthAdjust="spacingAndGlyphs">9</text>
<text x="725.6" y="1186.8" font-family="Liberation Sans, sans-serif" font-size="10.6" text-anchor="middle" textLength="10.3" lengthAdjust="spacingAndGlyphs">16</text>
<text x="747.6" y="1186.8" font-family="Liberation Sans, sans-serif" font-size="10.6" text-anchor="middle" textLength="10.3" lengthAdjust="spacingAndGlyphs">23</text>
<text x="775.6" y="1186.8" font-family="Liberation Sans, sans-serif" font-size="10.8" font-weight="bold" text-anchor="middle">2025</text>
<text x="800.6" y="1186.8" font-family="Liberation Sans, sans-serif" font-size="10.6" text-anchor="middle" textLength="10.3" lengthAdjust="spacingAndGlyphs">13</text>
<text x="822.6" y="1186.8" font-family="Liberation Sans, sans-serif" font-size="10.6" text-anchor="middle" textLength="10.3" lengthAdjust="spacingAndGlyphs">21</text>
<text x="840.6" y="1186.8" font-family="Liberation Sans, sans-serif" font-size="10.6" text-anchor="middle" textLength="10.3" lengthAdjust="spacingAndGlyphs">27</text>
<text x="863.6" y="1186.8" font-family="Liberation Sans, sans-serif" font-size="10.8" font-weight="bold" text-anchor="middle">Feb</text>
<text x="884.6" y="1186.8" font-family="Liberation Sans, sans-serif" font-size="10.6" text-anchor="middle" textLength="10.3" lengthAdjust="spacingAndGlyphs">10</text>
<text x="906.6" y="1186.8" font-family="Liberation Sans, sans-serif" font-size="10.6" text-anchor="middle" textLength="10.3" lengthAdjust="spacingAndGlyphs">18</text>
<text x="923.6" y="1186.8" font-family="Liberation Sans, sans-serif" font-size="10.6" text-anchor="middle" textLength="10.3" lengthAdjust="spacingAndGlyphs">24</text>
<text x="946.6" y="1186.8" font-family="Liberation Sans, sans-serif" font-size="10.8" font-weight="bold" text-anchor="middle">Mar</text>
<text x="967.6" y="1186.8" font-family="Liberation Sans, sans-serif" font-size="10.6" text-anchor="middle" textLength="10.3" lengthAdjust="spacingAndGlyphs">10</text>
<text x="989.6" y="1186.8" font-family="Liberation Sans, sans-serif" font-size="10.6" text-anchor="middle" textLength="10.3" lengthAdjust="spacingAndGlyphs">17</text>
<text x="1011.6" y="1186.8" font-family="Liberation Sans, sans-serif" font-size="10.6" text-anchor="middle" textLength="10.3" lengthAdjust="spacingAndGlyphs">24</text>
<text x="1039.6" y="1186.8" font-family="Liberation Sans, sans-serif" font-size="10.8" font-weight="bold" text-anchor="middle">Apr</text>
<text x="1055.6" y="1186.8" font-family="Liberation Sans, sans-serif" font-size="10.6" text-anchor="middle" textLength="5.2" lengthAdjust="spacingAndGlyphs">7</text>
<text x="1077.6" y="1186.8" font-family="Liberation Sans, sans-serif" font-size="10.6" text-anchor="middle" textLength="10.3" lengthAdjust="spacingAndGlyphs">14</text>
<text x="1095.6" y="1186.8" font-family="Liberation Sans, sans-serif" font-size="10.6" text-anchor="middle" textLength="10.3" lengthAdjust="spacingAndGlyphs">21</text>
<text x="1131.6" y="1186.8" font-family="Liberation Sans, sans-serif" font-size="10.8" font-weight="bold" text-anchor="middle">May</text>
<text x="1161.6" y="1186.8" font-family="Liberation Sans, sans-serif" font-size="10.6" text-anchor="middle" textLength="10.3" lengthAdjust="spacingAndGlyphs">12</text>
<text x="1183.6" y="1186.8" font-family="Liberation Sans, sans-serif" font-size="10.6" text-anchor="middle" textLength="10.3" lengthAdjust="spacingAndGlyphs">19</text>
<text x="1205.6" y="1186.8" font-family="Liberation Sans, sans-serif" font-size="10.6" text-anchor="middle" textLength="10.3" lengthAdjust="spacingAndGlyphs">27</text>
<text x="1224.6" y="1186.8" font-family="Liberation Sans, sans-serif" font-size="10.8" font-weight="bold" text-anchor="middle">Jun</text>
<text x="1245.6" y="1186.8" font-family="Liberation Sans, sans-serif" font-size="10.6" text-anchor="middle" textLength="5.2" lengthAdjust="spacingAndGlyphs">9</text>
<text x="1267.6" y="1186.8" font-family="Liberation Sans, sans-serif" font-size="10.6" text-anchor="middle" textLength="10.3" lengthAdjust="spacingAndGlyphs">16</text>
<text x="1284.6" y="1186.8" font-family="Liberation Sans, sans-serif" font-size="10.6" text-anchor="middle" textLength="10.3" lengthAdjust="spacingAndGlyphs">23</text>
<defs><clipPath id="cpMFI"><rect x="17" y="92" width="1279" height="182"/></clipPath><clipPath id="cpP"><rect x="17" y="458" width="1279" height="521"/></clipPath><clipPath id="cpM"><rect x="17" y="1006" width="1279" height="170"/></clipPath></defs>
<clipPath id="cp80"><rect x="16" y="91" width="1280" height="40.9"/></clipPath>
<polygon points="17.3,131.9 17.3,216.8 22.3,216.2 27.4,203.5 31.2,202.6 36.3,206.9 40.7,194.2 44.5,192.4 54.1,168.6 60.4,154.6 66.7,132.4 75.6,107.4 84.5,107.4 89.0,120.4 92.8,131.8 97.8,144.5 102.3,155.3 109.9,154.4 119.4,173.3 124.5,173.7 136.5,210.5 141.6,216.8 146.7,230.5 150.5,228.5 154.3,228.2 159.4,215.3 163.2,216.2 168.2,206.6 172.7,211.1 181.6,184.4 185.1,184.4 190.8,173.0 198.4,146.4 203.5,158.4 207.3,143.2 212.4,144.5 216.8,133.1 220.6,134.3 225.4,121.6 230.1,132.4 238.4,150.8 242.8,154.0 247.2,164.1 251.0,163.5 256.1,176.2 264.4,176.2 269.4,190.2 273.3,190.4 278.3,201.6 282.1,199.7 286.6,214.3 291.0,213.2 299.9,193.3 305.0,195.2 308.1,195.2 313.2,206.6 317.0,210.5 322.7,227.6 329.7,204.1 335.4,196.5 339.2,185.7 344.3,189.1 352.2,174.3 361.8,174.3 366.2,175.2 370.6,163.3 374.4,164.1 383.3,125.4 387.1,132.4 392.2,150.8 401.1,168.6 405.5,185.1 410.0,187.0 414.4,187.4 418.9,199.3 423.3,195.9 427.1,193.3 432.2,192.1 436.0,177.5 440.4,173.7 445.5,183.8 454.4,187.4 458.2,177.5 462.6,180.3 467.7,178.1 471.5,167.3 476.6,167.3 480.4,156.5 484.2,156.5 489.3,167.1 498.1,170.5 502.6,183.2 506.4,172.4 515.0,171.4 520.4,182.3 528.3,156.5 533.4,156.5 537.8,168.0 542.3,172.4 546.1,172.4 550.5,158.4 558.7,157.2 564.5,145.5 568.9,145.5 572.7,146.4 581.3,123.5 585.4,132.4 594.3,162.2 603.2,162.2 608.2,177.5 612.0,177.5 614.6,185.1 620.9,199.7 630.4,227.6 634.9,226.3 638.7,227.6 643.1,226.3 647.6,216.2 651.4,214.3 656.4,213.0 660.2,203.5 665.3,215.5 669.1,213.6 674.2,214.5 687.6,175.5 691.8,176.1 696.8,175.5 700.4,187.2 704.9,184.6 709.6,196.4 713.1,185.0 718.1,187.9 722.6,199.6 731.5,174.7 740.5,198.5 748.6,192.8 753.5,185.7 757.4,177.2 762.0,178.7 766.3,193.5 770.5,190.3 775.2,191.7 784.0,164.5 789.7,164.2 792.5,163.1 796.8,151.0 801.3,148.6 813.8,182.9 819.5,185.0 828.7,157.4 836.5,159.5 841.4,168.7 845.7,180.1 850.6,183.2 854.6,179.4 854.6,131.9" fill="#6a8444" clip-path="url(#cp80)"/>
<polyline points="17.3,216.8 22.3,216.2 27.4,203.5 31.2,202.6 36.3,206.9 40.7,194.2 44.5,192.4 54.1,168.6 60.4,154.6 66.7,132.4 75.6,107.4 84.5,107.4 89.0,120.4 92.8,131.8 97.8,144.5 102.3,155.3 109.9,154.4 119.4,173.3 124.5,173.7 136.5,210.5 141.6,216.8 146.7,230.5 150.5,228.5 154.3,228.2 159.4,215.3 163.2,216.2 168.2,206.6 172.7,211.1 181.6,184.4 185.1,184.4 190.8,173.0 198.4,146.4 203.5,158.4 207.3,143.2 212.4,144.5 216.8,133.1 220.6,134.3 225.4,121.6 230.1,132.4 238.4,150.8 242.8,154.0 247.2,164.1 251.0,163.5 256.1,176.2 264.4,176.2 269.4,190.2 273.3,190.4 278.3,201.6 282.1,199.7 286.6,214.3 291.0,213.2 299.9,193.3 305.0,195.2 308.1,195.2 313.2,206.6 317.0,210.5 322.7,227.6 329.7,204.1 335.4,196.5 339.2,185.7 344.3,189.1 352.2,174.3 361.8,174.3 366.2,175.2 370.6,163.3 374.4,164.1 383.3,125.4 387.1,132.4 392.2,150.8 401.1,168.6 405.5,185.1 410.0,187.0 414.4,187.4 418.9,199.3 423.3,195.9 427.1,193.3 432.2,192.1 436.0,177.5 440.4,173.7 445.5,183.8 454.4,187.4 458.2,177.5 462.6,180.3 467.7,178.1 471.5,167.3 476.6,167.3 480.4,156.5 484.2,156.5 489.3,167.1 498.1,170.5 502.6,183.2 506.4,172.4 515.0,171.4 520.4,182.3 528.3,156.5 533.4,156.5 537.8,168.0 542.3,172.4 546.1,172.4 550.5,158.4 558.7,157.2 564.5,145.5 568.9,145.5 572.7,146.4 581.3,123.5 585.4,132.4 594.3,162.2 603.2,162.2 608.2,177.5 612.0,177.5 614.6,185.1 620.9,199.7 630.4,227.6 634.9,226.3 638.7,227.6 643.1,226.3 647.6,216.2 651.4,214.3 656.4,213.0 660.2,203.5 665.3,215.5 669.1,213.6 674.2,214.5 687.6,175.5 691.8,176.1 696.8,175.5 700.4,187.2 704.9,184.6 709.6,196.4 713.1,185.0 718.1,187.9 722.6,199.6 731.5,174.7 740.5,198.5 748.6,192.8 753.5,185.7 757.4,177.2 762.0,178.7 766.3,193.5 770.5,190.3 775.2,191.7 784.0,164.5 789.7,164.2 792.5,163.1 796.8,151.0 801.3,148.6 813.8,182.9 819.5,185.0 828.7,157.4 836.5,159.5 841.4,168.7 845.7,180.1 850.6,183.2 854.6,179.4" fill="none" stroke="#1a1a1a" stroke-width="1.3" stroke-linejoin="round" clip-path="url(#cpMFI)"/>
<g fill="#4a9ac6" stroke="#24506e" stroke-width="0.8"><rect x="16.3" y="1112.0" width="4.4" height="25.0"/><rect x="20.7" y="1112.0" width="4.4" height="15.9"/><rect x="25.1" y="1112.0" width="4.4" height="10.6"/><rect x="29.5" y="1112.0" width="4.4" height="6.9"/><rect x="33.9" y="1112.0" width="4.4" height="2.3"/><rect x="38.3" y="1110.6" width="4.4" height="1.4"/><rect x="42.7" y="1108.3" width="4.4" height="3.7"/><rect x="47.1" y="1102.3" width="4.4" height="9.7"/><rect x="51.5" y="1100.7" width="4.4" height="11.3"/><rect x="55.9" y="1098.5" width="4.4" height="13.5"/><rect x="60.3" y="1095.5" width="4.4" height="16.5"/><rect x="64.7" y="1093.2" width="4.4" height="18.8"/><rect x="69.1" y="1085.6" width="4.4" height="26.4"/><rect x="73.5" y="1077.3" width="4.4" height="34.7"/><rect x="77.9" y="1074.3" width="4.4" height="37.7"/><rect x="82.3" y="1071.3" width="4.4" height="40.7"/><rect x="86.7" y="1077.3" width="4.4" height="34.7"/><rect x="91.1" y="1084.1" width="4.4" height="27.9"/><rect x="95.5" y="1093.2" width="4.4" height="18.8"/><rect x="99.9" y="1105.3" width="4.4" height="6.7"/><rect x="104.3" y="1112.0" width="4.4" height="0.6"/><rect x="108.7" y="1111.3" width="4.4" height="0.7"/><rect x="113.1" y="1112.0" width="4.4" height="3.8"/><rect x="117.5" y="1112.0" width="4.4" height="8.4"/><rect x="121.9" y="1112.0" width="4.4" height="11.4"/><rect x="126.3" y="1112.0" width="4.4" height="18.2"/><rect x="130.7" y="1112.0" width="4.4" height="28.0"/><rect x="135.1" y="1112.0" width="4.4" height="31.8"/><rect x="139.5" y="1112.0" width="4.4" height="31.8"/><rect x="143.9" y="1112.0" width="4.4" height="38.6"/><rect x="148.3" y="1112.0" width="4.4" height="40.1"/><rect x="152.7" y="1112.0" width="4.4" height="43.1"/><rect x="157.1" y="1112.0" width="4.4" height="42.4"/><rect x="161.5" y="1112.0" width="4.4" height="40.1"/><rect x="165.9" y="1112.0" width="4.4" height="40.1"/><rect x="170.3" y="1112.0" width="4.4" height="31.8"/><rect x="174.7" y="1112.0" width="4.4" height="24.2"/><rect x="179.1" y="1112.0" width="4.4" height="16.7"/><rect x="183.5" y="1112.0" width="4.4" height="8.4"/><rect x="187.9" y="1112.0" width="4.4" height="1.6"/><rect x="192.3" y="1110.6" width="4.4" height="1.4"/><rect x="196.7" y="1099.2" width="4.4" height="12.8"/><rect x="201.1" y="1099.2" width="4.4" height="12.8"/><rect x="205.5" y="1099.2" width="4.4" height="12.8"/><rect x="209.9" y="1104.5" width="4.4" height="7.5"/><rect x="214.3" y="1103.5" width="4.4" height="8.5"/><rect x="218.7" y="1103.5" width="4.4" height="8.5"/><rect x="223.1" y="1095.5" width="4.4" height="16.5"/><rect x="227.5" y="1099.2" width="4.4" height="12.8"/><rect x="231.9" y="1106.0" width="4.4" height="6.0"/><rect x="236.3" y="1108.3" width="4.4" height="3.7"/><rect x="240.7" y="1108.6" width="4.4" height="3.4"/><rect x="245.1" y="1109.0" width="4.4" height="3.0"/><rect x="249.5" y="1110.1" width="4.4" height="1.9"/><rect x="253.9" y="1111.0" width="4.4" height="1.0"/><rect x="258.3" y="1112.0" width="4.4" height="0.6"/><rect x="262.7" y="1112.0" width="4.4" height="6.9"/><rect x="267.1" y="1112.0" width="4.4" height="12.2"/><rect x="271.5" y="1112.0" width="4.4" height="19.7"/><rect x="275.9" y="1112.0" width="4.4" height="22.0"/><rect x="280.3" y="1112.0" width="4.4" height="21.2"/><rect x="284.7" y="1112.0" width="4.4" height="23.5"/><rect x="289.1" y="1112.0" width="4.4" height="24.2"/><rect x="293.5" y="1112.0" width="4.4" height="20.5"/><rect x="297.9" y="1112.0" width="4.4" height="12.9"/><rect x="302.3" y="1112.0" width="4.4" height="5.4"/><rect x="306.7" y="1112.0" width="4.4" height="3.1"/><rect x="311.1" y="1112.0" width="4.4" height="1.6"/><rect x="315.5" y="1112.0" width="4.4" height="11.4"/><rect x="319.9" y="1112.0" width="4.4" height="16.7"/><rect x="324.3" y="1112.0" width="4.4" height="15.6"/><rect x="328.7" y="1112.0" width="4.4" height="14.4"/><rect x="333.1" y="1112.0" width="4.4" height="11.4"/><rect x="337.5" y="1112.0" width="4.4" height="6.1"/><rect x="341.9" y="1112.0" width="4.4" height="2.3"/><rect x="346.3" y="1112.0" width="4.4" height="2.3"/><rect x="350.7" y="1106.8" width="4.4" height="5.2"/><rect x="355.1" y="1102.3" width="4.4" height="9.7"/><rect x="359.5" y="1099.2" width="4.4" height="12.8"/><rect x="363.9" y="1099.2" width="4.4" height="12.8"/><rect x="368.3" y="1096.5" width="4.4" height="15.5"/><rect x="372.7" y="1097.7" width="4.4" height="14.3"/><rect x="377.1" y="1097.7" width="4.4" height="14.3"/><rect x="381.5" y="1097.4" width="4.4" height="14.6"/><rect x="385.9" y="1099.2" width="4.4" height="12.8"/><rect x="390.3" y="1106.8" width="4.4" height="5.2"/><rect x="394.7" y="1109.0" width="4.4" height="3.0"/><rect x="399.1" y="1112.0" width="4.4" height="0.8"/><rect x="403.5" y="1112.0" width="4.4" height="9.6"/><rect x="407.9" y="1112.0" width="4.4" height="13.2"/><rect x="412.3" y="1112.0" width="4.4" height="10.6"/><rect x="416.7" y="1112.0" width="4.4" height="10.6"/><rect x="421.1" y="1112.0" width="4.4" height="4.6"/><rect x="425.5" y="1111.3" width="4.4" height="0.7"/><rect x="429.9" y="1106.8" width="4.4" height="5.2"/><rect x="434.3" y="1097.4" width="4.4" height="14.6"/><rect x="438.7" y="1087.4" width="4.4" height="24.6"/><rect x="443.1" y="1086.4" width="4.4" height="25.6"/><rect x="447.5" y="1087.4" width="4.4" height="24.6"/><rect x="451.9" y="1091.4" width="4.4" height="20.6"/><rect x="456.3" y="1091.4" width="4.4" height="20.6"/><rect x="460.7" y="1094.4" width="4.4" height="17.6"/><rect x="465.1" y="1102.3" width="4.4" height="9.7"/><rect x="469.5" y="1102.3" width="4.4" height="9.7"/><rect x="473.9" y="1099.2" width="4.4" height="12.8"/><rect x="478.3" y="1094.4" width="4.4" height="17.6"/><rect x="482.7" y="1092.4" width="4.4" height="19.6"/><rect x="487.1" y="1099.2" width="4.4" height="12.8"/><rect x="491.5" y="1102.3" width="4.4" height="9.7"/><rect x="495.9" y="1101.5" width="4.4" height="10.5"/><rect x="500.3" y="1104.5" width="4.4" height="7.5"/><rect x="504.7" y="1108.3" width="4.4" height="3.7"/><rect x="509.1" y="1112.0" width="4.4" height="2.3"/><rect x="513.5" y="1112.0" width="4.4" height="11.4"/><rect x="517.9" y="1112.0" width="4.4" height="18.2"/><rect x="522.3" y="1112.0" width="4.4" height="16.7"/><rect x="526.7" y="1112.0" width="4.4" height="12.2"/><rect x="531.1" y="1112.0" width="4.4" height="6.1"/><rect x="535.5" y="1112.0" width="4.4" height="4.6"/><rect x="539.9" y="1112.0" width="4.4" height="2.3"/><rect x="544.3" y="1112.0" width="4.4" height="0.8"/><rect x="548.7" y="1107.1" width="4.4" height="4.9"/><rect x="553.1" y="1106.5" width="4.4" height="5.5"/><rect x="557.5" y="1100.4" width="4.4" height="11.6"/><rect x="561.9" y="1100.7" width="4.4" height="11.3"/><rect x="566.3" y="1101.5" width="4.4" height="10.5"/><rect x="570.7" y="1101.5" width="4.4" height="10.5"/><rect x="575.1" y="1100.7" width="4.4" height="11.3"/><rect x="579.5" y="1097.7" width="4.4" height="14.3"/><rect x="583.9" y="1105.6" width="4.4" height="6.4"/><rect x="588.3" y="1112.0" width="4.4" height="4.6"/><rect x="592.7" y="1112.0" width="4.4" height="10.6"/><rect x="597.1" y="1112.0" width="4.4" height="15.9"/><rect x="601.5" y="1112.0" width="4.4" height="15.9"/><rect x="605.9" y="1112.0" width="4.4" height="18.2"/><rect x="610.3" y="1112.0" width="4.4" height="18.2"/><rect x="614.7" y="1112.0" width="4.4" height="21.2"/><rect x="619.1" y="1112.0" width="4.4" height="25.7"/><rect x="623.5" y="1112.0" width="4.4" height="30.3"/><rect x="627.9" y="1112.0" width="4.4" height="33.3"/><rect x="632.3" y="1112.0" width="4.4" height="32.5"/><rect x="636.7" y="1112.0" width="4.4" height="31.0"/><rect x="641.1" y="1112.0" width="4.4" height="21.2"/><rect x="645.5" y="1112.0" width="4.4" height="15.2"/><rect x="649.9" y="1112.0" width="4.4" height="10.6"/><rect x="654.3" y="1112.0" width="4.4" height="6.1"/><rect x="658.7" y="1112.0" width="4.4" height="2.3"/><rect x="663.1" y="1112.0" width="4.4" height="6.1"/><rect x="667.5" y="1112.0" width="4.4" height="11.4"/><rect x="671.9" y="1112.0" width="4.4" height="13.2"/><rect x="676.3" y="1112.0" width="4.4" height="8.4"/><rect x="680.7" y="1112.0" width="4.4" height="4.6"/><rect x="685.1" y="1112.0" width="4.4" height="0.6"/><rect x="689.5" y="1111.0" width="4.4" height="1.0"/><rect x="693.9" y="1112.0" width="4.4" height="0.6"/><rect x="698.3" y="1112.0" width="4.4" height="2.3"/><rect x="702.7" y="1110.6" width="4.4" height="1.4"/><rect x="707.1" y="1109.0" width="4.4" height="3.0"/><rect x="711.5" y="1107.1" width="4.4" height="4.9"/><rect x="715.9" y="1109.0" width="4.4" height="3.0"/><rect x="720.3" y="1112.0" width="4.4" height="1.1"/><rect x="724.7" y="1111.0" width="4.4" height="1.0"/><rect x="729.1" y="1110.1" width="4.4" height="1.9"/><rect x="733.5" y="1110.6" width="4.4" height="1.4"/><rect x="737.9" y="1112.0" width="4.4" height="1.6"/><rect x="742.3" y="1111.0" width="4.4" height="1.0"/><rect x="746.7" y="1107.1" width="4.4" height="4.9"/><rect x="751.1" y="1101.5" width="4.4" height="10.5"/><rect x="755.5" y="1098.5" width="4.4" height="13.5"/><rect x="759.9" y="1103.5" width="4.4" height="8.5"/><rect x="764.3" y="1109.5" width="4.4" height="2.5"/><rect x="768.7" y="1112.0" width="4.4" height="3.5"/><rect x="773.1" y="1112.0" width="4.4" height="4.6"/><rect x="777.5" y="1110.6" width="4.4" height="1.4"/><rect x="781.9" y="1108.3" width="4.4" height="3.7"/><rect x="786.3" y="1099.2" width="4.4" height="12.8"/><rect x="790.7" y="1093.2" width="4.4" height="18.8"/><rect x="795.1" y="1087.1" width="4.4" height="24.9"/><rect x="799.5" y="1089.4" width="4.4" height="22.6"/><rect x="803.9" y="1097.4" width="4.4" height="14.6"/><rect x="808.3" y="1103.8" width="4.4" height="8.2"/><rect x="812.7" y="1107.1" width="4.4" height="4.9"/><rect x="817.1" y="1107.5" width="4.4" height="4.5"/><rect x="821.5" y="1106.5" width="4.4" height="5.5"/><rect x="825.9" y="1106.0" width="4.4" height="6.0"/><rect x="830.3" y="1105.3" width="4.4" height="6.7"/><rect x="834.7" y="1105.3" width="4.4" height="6.7"/><rect x="839.1" y="1108.3" width="4.4" height="3.7"/><rect x="843.5" y="1111.3" width="4.4" height="0.7"/><rect x="847.9" y="1109.5" width="4.4" height="2.5"/><rect x="852.3" y="1097.4" width="4.4" height="14.6"/></g>
<polyline points="16.0,1090.2 23.6,1096.2 31.1,1098.9 38.7,1099.5 46.2,1097.7 55.3,1091.7 65.8,1081.1 76.4,1063.0 87.0,1040.3 97.6,1024.5 105.1,1021.9 114.2,1021.9 124.8,1028.2 135.3,1041.8 147.4,1063.0 158.0,1087.1 167.1,1108.3 176.1,1124.9 185.2,1132.2 194.2,1132.2 203.3,1124.9 225.1,1110.6 234.2,1106.8 243.2,1104.1 253.8,1101.9 261.4,1102.6 268.9,1106.8 276.5,1115.8 284.0,1124.9 291.6,1134.7 297.6,1139.3 306.7,1143.0 314.2,1144.5 321.8,1150.6 330.8,1156.6 339.9,1160.4 349.0,1161.6 355.0,1158.1 364.1,1152.1 373.1,1143.0 382.2,1135.5 391.3,1131.0 398.8,1130.6 406.4,1134.0 411.6,1137.0 419.1,1140.8 425.1,1141.2 431.9,1140.0 437.2,1134.0 443.3,1124.9 449.3,1115.8 456.9,1108.3 462.9,1101.5 470.5,1097.7 479.5,1091.7 485.6,1084.1 494.6,1078.1 503.7,1073.2 509.7,1072.3 517.3,1078.1 524.8,1084.1 530.9,1087.9 540.0,1090.2 546.0,1090.5 555.1,1087.4 564.1,1081.9 573.2,1075.1 580.7,1069.0 586.8,1067.2 592.8,1069.0 600.4,1075.1 608.6,1082.6 620.7,1097.7 628.2,1110.6 635.8,1124.9 643.3,1135.5 652.4,1140.8 663.0,1143.8 670.5,1147.6 679.6,1152.4 688.6,1153.6 700.7,1153.6 712.8,1150.6 724.9,1149.8 734.0,1148.3 743.0,1149.1 750.6,1143.8 758.1,1139.3 764.2,1138.2 773.2,1139.3 775.1,1139.3 784.2,1137.7 791.7,1127.9 799.3,1118.9 808.3,1112.1 817.4,1109.0 826.5,1106.8 835.5,1102.6 844.6,1100.7 850.6,1098.9 854.9,1095.9" fill="none" stroke="#f03020" stroke-width="1.2" stroke-linejoin="round" clip-path="url(#cpM)"/>
<polyline points="17.5,1115.8 22.0,1110.6 28.1,1106.8 37.1,1100.0 44.7,1093.9 50.7,1085.6 58.3,1076.6 67.4,1060.0 74.9,1028.2 79.4,1017.7 84.0,1005.6 87.0,992.0 91.5,985.9 96.1,992.0 98.3,1006.3 106.6,1021.4 110.4,1020.7 115.7,1026.7 124.8,1038.8 130.8,1052.4 135.3,1069.0 141.4,1084.1 147.4,1103.8 153.5,1124.9 159.5,1135.5 167.1,1147.6 173.1,1151.3 176.1,1150.6 182.2,1146.1 189.7,1135.5 195.0,1127.9 198.8,1115.8 203.3,1111.3 207.8,1108.3 212.4,1112.1 225.9,1094.4 232.7,1097.7 236.4,1100.0 244.7,1099.2 252.3,1100.4 259.8,1101.5 267.4,1115.8 273.4,1127.9 279.5,1138.5 285.5,1147.6 292.3,1156.6 297.6,1156.6 304.4,1147.6 312.7,1144.5 318.0,1158.1 326.3,1168.7 330.8,1168.4 335.4,1169.5 341.4,1164.2 347.5,1161.9 353.5,1152.1 361.1,1141.5 366.3,1138.5 371.6,1130.2 376.2,1127.9 383.7,1120.4 388.2,1119.6 393.5,1125.7 400.3,1131.0 404.9,1140.0 410.0,1147.9 413.8,1148.3 418.4,1151.3 425.1,1142.3 432.7,1132.5 438.7,1109.8 443.3,1099.2 449.3,1092.4 453.8,1090.9 459.1,1084.1 462.9,1084.1 467.4,1088.4 471.2,1085.6 476.5,1080.3 484.1,1063.7 490.1,1067.5 493.9,1067.2 498.4,1064.5 504.5,1066.0 509.7,1072.0 514.3,1082.6 520.3,1096.2 524.8,1100.4 529.4,1099.2 533.9,1095.5 540.0,1093.2 546.0,1090.5 550.5,1084.1 555.1,1081.1 559.6,1072.8 565.6,1069.0 570.2,1066.0 576.2,1061.5 581.5,1054.7 586.8,1060.0 591.3,1072.0 598.9,1088.7 604.8,1095.5 612.4,1105.3 621.4,1123.4 629.7,1144.5 638.5,1160.4 647.8,1151.3 653.9,1149.8 660.7,1145.3 667.5,1155.1 674.3,1161.9 682.6,1157.4 690.1,1151.3 694.7,1152.1 700.7,1155.1 706.8,1149.8 714.3,1146.1 718.8,1146.1 722.6,1149.8 730.9,1146.1 735.5,1146.1 740.7,1149.1 745.3,1147.6 750.6,1138.5 757.4,1127.6 762.7,1130.2 770.2,1140.8 775.5,1143.3 779.6,1137.0 784.9,1133.2 790.2,1115.8 796.3,1100.7 800.8,1094.7 806.8,1099.2 814.4,1106.8 820.4,1104.5 828.0,1099.2 835.5,1095.5 844.6,1099.2 850.6,1096.2 854.9,1081.9" fill="none" stroke="#111" stroke-width="2" stroke-linejoin="round" clip-path="url(#cpM)"/>
<polyline points="16.5,878.3 18.5,877.4 22.9,874.6 27.3,873.4 31.7,871.4 36.1,868.8 40.5,866.1 44.9,863.4 49.3,858.6 53.7,854.3 58.1,849.6 62.5,843.4 66.9,837.2 71.3,827.9 75.7,816.6 80.1,805.5 84.5,793.2 88.9,783.9 93.3,775.3 97.7,768.2 102.1,763.2 106.5,757.6 110.9,749.6 115.3,743.7 119.7,739.0 124.1,734.0 128.5,731.1 132.9,730.8 137.3,730.1 141.7,728.4 146.1,730.6 150.5,732.2 154.9,735.4 159.3,737.3 163.7,740.7 168.1,743.6 172.5,745.2 176.9,746.2 181.3,746.4 185.7,745.5 190.1,744.3 194.5,743.3 198.9,738.8 203.3,737.3 207.7,735.0 212.1,735.3 216.5,733.7 220.9,731.7 225.3,726.7 229.7,725.0 234.1,724.7 238.5,723.7 242.9,721.9 247.3,720.4 251.7,719.1 256.1,717.9 260.5,717.0 264.9,718.2 269.3,720.6 273.7,724.5 278.1,728.2 282.5,730.6 286.9,735.1 291.3,739.6 295.7,742.6 300.1,744.2 304.5,744.4 308.9,746.3 313.3,748.1 317.7,754.9 322.1,760.9 326.5,765.7 330.9,769.4 335.3,774.0 339.7,776.7 344.1,779.5 348.5,783.7 352.9,784.3 357.3,785.2 361.7,786.0 366.1,787.5 370.5,787.2 374.9,788.8 379.3,789.1 383.7,788.8 388.1,789.5 392.5,792.6 396.9,794.7 401.3,798.1 405.7,803.5 410.1,808.9 414.5,811.9 418.9,816.4 423.3,817.5 427.7,818.9 432.1,819.0 436.5,816.5 440.9,811.8 445.3,809.0 449.7,807.0 454.1,805.8 458.5,802.7 462.9,800.9 467.3,801.2 471.7,798.9 476.1,795.4 480.5,790.1 484.9,784.9 489.3,783.0 493.7,780.2 498.1,776.0 502.5,773.1 506.9,770.6 511.3,769.7 515.7,771.2 520.1,773.1 524.5,773.0 528.9,771.3 533.3,768.6 537.7,766.8 542.1,764.5 546.5,762.0 550.9,757.8 555.3,754.5 559.7,749.0 564.1,744.9 568.5,740.5 572.9,736.1 577.3,730.8 581.7,724.6 586.1,722.2 590.5,722.0 594.9,721.4 599.3,722.1 603.7,721.2 608.1,721.6 612.5,721.4 616.9,723.2 621.3,725.8 625.7,730.2 630.1,734.9 634.5,739.4 638.9,743.6 643.3,744.9 647.7,745.7 652.1,747.8 656.5,749.2 660.9,750.3 665.3,754.2 669.7,759.3 674.1,764.1 678.5,766.5 682.9,769.3 687.3,770.9 691.7,773.1 696.1,776.5 700.5,780.4 704.9,782.2 709.3,784.4 713.7,786.4 718.1,789.3 722.5,793.6 726.9,796.1 731.3,798.3 735.7,801.3 740.1,805.2 744.5,807.8 748.9,809.1 753.3,808.7 757.7,808.4 762.1,810.9 766.5,814.9 770.9,819.6 775.3,822.9 779.7,823.7 784.1,824.9 788.5,822.7 792.9,820.0 797.3,816.2 801.7,814.6 806.1,815.5 810.5,816.8 814.9,817.8 819.3,817.3 823.7,816.0 828.1,814.8 832.5,813.7 836.9,812.4 841.3,812.4 845.7,812.4 850.1,810.7 854.5,804.2" fill="none" stroke="#d04050" stroke-width="1.2" stroke-linejoin="round" clip-path="url(#cpP)"/>
<g clip-path="url(#cpP)"><rect x="18" y="877.0" width="1" height="38.0" fill="#111"/><rect x="16" y="896.5" width="4" height="12.0" fill="#111"/><rect x="22" y="798.0" width="1" height="108.0" fill="#111"/><rect x="20.5" y="808.0" width="4" height="94.0" fill="#fff" stroke="#111" stroke-width="1"/><rect x="27" y="804.0" width="1" height="59.0" fill="#a81830"/><rect x="25" y="811.5" width="4" height="31.0" fill="#c8102e"/><rect x="31" y="791.0" width="1" height="67.0" fill="#111"/><rect x="29.5" y="825.0" width="4" height="19.0" fill="#fff" stroke="#111" stroke-width="1"/><rect x="36" y="784.0" width="1" height="49.0" fill="#111"/><rect x="34" y="796.5" width="4" height="10.0" fill="#111"/><rect x="40" y="762.0" width="1" height="57.0" fill="#111"/><rect x="38.5" y="799.0" width="4" height="2.0" fill="#fff" stroke="#111" stroke-width="1"/><rect x="44" y="766.0" width="1" height="56.0" fill="#a81830"/><rect x="42" y="797.5" width="4" height="3.0" fill="#c8102e"/><rect x="49" y="732.0" width="1" height="78.0" fill="#111"/><rect x="47.5" y="742.0" width="4" height="54.0" fill="#fff" stroke="#111" stroke-width="1"/><rect x="53" y="735.0" width="1" height="48.0" fill="#a81830"/><rect x="51" y="742.5" width="4" height="10.0" fill="#c8102e"/><rect x="58" y="719.0" width="1" height="40.0" fill="#111"/><rect x="56.5" y="737.0" width="4" height="11.0" fill="#fff" stroke="#111" stroke-width="1"/><rect x="62" y="690.0" width="1" height="44.0" fill="#111"/><rect x="60.5" y="697.0" width="4" height="34.0" fill="#fff" stroke="#111" stroke-width="1"/><rect x="66" y="654.0" width="1" height="56.0" fill="#111"/><rect x="64.5" y="689.0" width="4" height="8.0" fill="#fff" stroke="#111" stroke-width="1"/><rect x="71" y="600.0" width="1" height="95.0" fill="#111"/><rect x="69.5" y="612.0" width="4" height="78.0" fill="#fff" stroke="#111" stroke-width="1"/><rect x="75" y="536.0" width="1" height="76.0" fill="#111"/><rect x="73.5" y="554.0" width="4" height="53.0" fill="#fff" stroke="#111" stroke-width="1"/><rect x="80" y="506.0" width="1" height="75.0" fill="#111"/><rect x="78" y="540.5" width="4" height="10.0" fill="#111"/><rect x="84" y="487.0" width="1" height="84.0" fill="#111"/><rect x="82.5" y="509.0" width="4" height="40.0" fill="#fff" stroke="#111" stroke-width="1"/><rect x="88" y="481.0" width="1" height="103.0" fill="#a81830"/><rect x="86" y="497.5" width="4" height="70.0" fill="#c8102e"/><rect x="93" y="548.0" width="1" height="74.0" fill="#a81830"/><rect x="91" y="571.5" width="4" height="4.0" fill="#c8102e"/><rect x="97" y="555.0" width="1" height="60.0" fill="#a81830"/><rect x="95" y="567.5" width="4" height="32.0" fill="#c8102e"/><rect x="102" y="591.0" width="1" height="58.0" fill="#a81830"/><rect x="100" y="598.5" width="4" height="46.0" fill="#c8102e"/><rect x="106" y="615.0" width="1" height="49.0" fill="#111"/><rect x="104.5" y="625.0" width="4" height="24.0" fill="#fff" stroke="#111" stroke-width="1"/><rect x="110" y="540.0" width="1" height="100.0" fill="#111"/><rect x="108.5" y="561.0" width="4" height="70.0" fill="#fff" stroke="#111" stroke-width="1"/><rect x="115" y="545.0" width="1" height="65.0" fill="#a81830"/><rect x="113" y="548.5" width="4" height="56.0" fill="#c8102e"/><rect x="119" y="599.0" width="1" height="41.0" fill="#a81830"/><rect x="117" y="603.5" width="4" height="23.0" fill="#c8102e"/><rect x="124" y="580.0" width="1" height="74.0" fill="#111"/><rect x="122.5" y="616.0" width="4" height="16.0" fill="#fff" stroke="#111" stroke-width="1"/><rect x="128" y="586.0" width="1" height="79.0" fill="#a81830"/><rect x="126" y="611.5" width="4" height="50.0" fill="#c8102e"/><rect x="132" y="644.0" width="1" height="87.0" fill="#a81830"/><rect x="130" y="658.5" width="4" height="64.0" fill="#c8102e"/><rect x="137" y="698.0" width="1" height="44.0" fill="#111"/><rect x="135.5" y="714.0" width="4" height="4.0" fill="#fff" stroke="#111" stroke-width="1"/><rect x="141" y="677.0" width="1" height="44.0" fill="#111"/><rect x="139.5" y="687.0" width="4" height="20.0" fill="#fff" stroke="#111" stroke-width="1"/><rect x="146" y="677.0" width="1" height="116.0" fill="#a81830"/><rect x="144" y="683.5" width="4" height="102.0" fill="#c8102e"/><rect x="150" y="758.0" width="1" height="32.0" fill="#111"/><rect x="148.5" y="771.0" width="4" height="14.0" fill="#fff" stroke="#111" stroke-width="1"/><rect x="154" y="760.0" width="1" height="68.0" fill="#a81830"/><rect x="152" y="764.5" width="4" height="51.0" fill="#c8102e"/><rect x="159" y="768.0" width="1" height="63.0" fill="#111"/><rect x="157.5" y="786.0" width="4" height="25.0" fill="#fff" stroke="#111" stroke-width="1"/><rect x="163" y="795.0" width="1" height="53.0" fill="#a81830"/><rect x="161" y="799.5" width="4" height="26.0" fill="#c8102e"/><rect x="168" y="797.0" width="1" height="47.0" fill="#111"/><rect x="166.5" y="815.0" width="4" height="6.0" fill="#fff" stroke="#111" stroke-width="1"/><rect x="172" y="772.0" width="1" height="68.0" fill="#111"/><rect x="170.5" y="785.0" width="4" height="19.0" fill="#fff" stroke="#111" stroke-width="1"/><rect x="176" y="758.0" width="1" height="23.0" fill="#111"/><rect x="174.5" y="770.0" width="4" height="4.0" fill="#fff" stroke="#111" stroke-width="1"/><rect x="181" y="731.0" width="1" height="45.0" fill="#111"/><rect x="179.5" y="752.0" width="4" height="15.0" fill="#fff" stroke="#111" stroke-width="1"/><rect x="185" y="703.0" width="1" height="59.0" fill="#111"/><rect x="183.5" y="723.0" width="4" height="24.0" fill="#fff" stroke="#111" stroke-width="1"/><rect x="190" y="685.0" width="1" height="55.0" fill="#111"/><rect x="188.5" y="717.0" width="4" height="5.0" fill="#fff" stroke="#111" stroke-width="1"/><rect x="194" y="666.0" width="1" height="60.0" fill="#a81830"/><rect x="192" y="682.5" width="4" height="36.0" fill="#c8102e"/><rect x="198" y="627.0" width="1" height="98.0" fill="#111"/><rect x="196.5" y="630.0" width="4" height="78.0" fill="#fff" stroke="#111" stroke-width="1"/><rect x="203" y="640.0" width="1" height="74.0" fill="#a81830"/><rect x="201" y="643.5" width="4" height="58.0" fill="#c8102e"/><rect x="207" y="641.0" width="1" height="75.0" fill="#111"/><rect x="205.5" y="681.0" width="4" height="21.0" fill="#fff" stroke="#111" stroke-width="1"/><rect x="212" y="683.0" width="1" height="66.0" fill="#a81830"/><rect x="210" y="690.5" width="4" height="53.0" fill="#c8102e"/><rect x="216" y="671.0" width="1" height="74.0" fill="#111"/><rect x="214.5" y="693.0" width="4" height="38.0" fill="#fff" stroke="#111" stroke-width="1"/><rect x="220" y="656.0" width="1" height="41.0" fill="#111"/><rect x="218" y="682.5" width="4" height="3.0" fill="#111"/><rect x="225" y="599.0" width="1" height="91.0" fill="#111"/><rect x="223.5" y="607.0" width="4" height="81.0" fill="#fff" stroke="#111" stroke-width="1"/><rect x="229" y="605.0" width="1" height="85.0" fill="#a81830"/><rect x="227" y="608.5" width="4" height="76.0" fill="#c8102e"/><rect x="234" y="658.0" width="1" height="76.0" fill="#a81830"/><rect x="232" y="676.5" width="4" height="41.0" fill="#c8102e"/><rect x="238" y="692.0" width="1" height="35.0" fill="#111"/><rect x="236.5" y="699.0" width="4" height="14.0" fill="#fff" stroke="#111" stroke-width="1"/><rect x="242" y="657.0" width="1" height="63.0" fill="#111"/><rect x="240.5" y="680.0" width="4" height="16.0" fill="#fff" stroke="#111" stroke-width="1"/><rect x="247" y="653.0" width="1" height="69.0" fill="#a81830"/><rect x="245" y="667.5" width="4" height="15.0" fill="#c8102e"/><rect x="251" y="653.0" width="1" height="65.0" fill="#a81830"/><rect x="249" y="676.5" width="4" height="13.0" fill="#c8102e"/><rect x="256" y="676.0" width="1" height="61.0" fill="#111"/><rect x="254" y="686.5" width="4" height="3.0" fill="#111"/><rect x="260" y="615.0" width="1" height="93.0" fill="#a81830"/><rect x="258" y="675.5" width="4" height="19.0" fill="#c8102e"/><rect x="264" y="660.0" width="1" height="113.0" fill="#a81830"/><rect x="262" y="690.5" width="4" height="59.0" fill="#c8102e"/><rect x="269" y="755.0" width="1" height="48.0" fill="#a81830"/><rect x="267" y="757.5" width="4" height="22.0" fill="#c8102e"/><rect x="273" y="755.0" width="1" height="80.0" fill="#a81830"/><rect x="271" y="774.5" width="4" height="47.0" fill="#c8102e"/><rect x="278" y="800.0" width="1" height="28.0" fill="#a81830"/><rect x="276" y="809.5" width="4" height="14.0" fill="#c8102e"/><rect x="282" y="780.0" width="1" height="53.0" fill="#111"/><rect x="280.5" y="789.0" width="4" height="32.0" fill="#fff" stroke="#111" stroke-width="1"/><rect x="286" y="805.0" width="1" height="65.0" fill="#a81830"/><rect x="284" y="807.5" width="4" height="42.0" fill="#c8102e"/><rect x="291" y="838.0" width="1" height="39.0" fill="#a81830"/><rect x="289.5" y="851.0" width="4" height="3.0" fill="#fff" stroke="#c8102e" stroke-width="1"/><rect x="295" y="801.0" width="1" height="63.0" fill="#111"/><rect x="293.5" y="818.0" width="4" height="28.0" fill="#fff" stroke="#111" stroke-width="1"/><rect x="300" y="778.0" width="1" height="45.0" fill="#111"/><rect x="298.5" y="785.0" width="4" height="27.0" fill="#fff" stroke="#111" stroke-width="1"/><rect x="304" y="741.0" width="1" height="49.0" fill="#111"/><rect x="302.5" y="747.0" width="4" height="40.0" fill="#fff" stroke="#111" stroke-width="1"/><rect x="308" y="743.0" width="1" height="57.0" fill="#a81830"/><rect x="306" y="745.5" width="4" height="50.0" fill="#c8102e"/><rect x="313" y="751.0" width="1" height="57.0" fill="#a81830"/><rect x="311" y="783.5" width="4" height="10.0" fill="#c8102e"/><rect x="317" y="794.0" width="1" height="137.0" fill="#a81830"/><rect x="315" y="797.5" width="4" height="129.0" fill="#c8102e"/><rect x="322" y="884.0" width="1" height="46.0" fill="#111"/><rect x="320.5" y="913.0" width="4" height="2.0" fill="#fff" stroke="#111" stroke-width="1"/><rect x="326" y="864.0" width="1" height="63.0" fill="#111"/><rect x="324.5" y="888.0" width="4" height="26.0" fill="#fff" stroke="#111" stroke-width="1"/><rect x="330" y="851.0" width="1" height="61.0" fill="#111"/><rect x="328.5" y="862.0" width="4" height="44.0" fill="#fff" stroke="#111" stroke-width="1"/><rect x="335" y="840.0" width="1" height="58.0" fill="#a81830"/><rect x="333" y="854.5" width="4" height="34.0" fill="#c8102e"/><rect x="339" y="824.0" width="1" height="75.0" fill="#111"/><rect x="337.5" y="845.0" width="4" height="41.0" fill="#fff" stroke="#111" stroke-width="1"/><rect x="344" y="838.0" width="1" height="22.0" fill="#a81830"/><rect x="342" y="840.5" width="4" height="8.0" fill="#c8102e"/><rect x="348" y="833.0" width="1" height="62.0" fill="#a81830"/><rect x="346" y="844.5" width="4" height="46.0" fill="#c8102e"/><rect x="352" y="788.0" width="1" height="105.0" fill="#111"/><rect x="350.5" y="799.0" width="4" height="84.0" fill="#fff" stroke="#111" stroke-width="1"/><rect x="357" y="800.0" width="1" height="39.0" fill="#a81830"/><rect x="355" y="804.5" width="4" height="3.0" fill="#c8102e"/><rect x="361" y="793.0" width="1" height="42.0" fill="#111"/><rect x="359" y="804.5" width="4" height="3.0" fill="#111"/><rect x="366" y="782.0" width="1" height="45.0" fill="#a81830"/><rect x="364" y="797.5" width="4" height="27.0" fill="#c8102e"/><rect x="370" y="761.0" width="1" height="63.0" fill="#111"/><rect x="368.5" y="779.0" width="4" height="39.0" fill="#fff" stroke="#111" stroke-width="1"/><rect x="374" y="773.0" width="1" height="77.0" fill="#a81830"/><rect x="372" y="773.5" width="4" height="56.0" fill="#c8102e"/><rect x="379" y="784.0" width="1" height="61.0" fill="#111"/><rect x="377.5" y="797.0" width="4" height="33.0" fill="#fff" stroke="#111" stroke-width="1"/><rect x="383" y="744.0" width="1" height="55.0" fill="#111"/><rect x="381.5" y="782.0" width="4" height="5.0" fill="#fff" stroke="#111" stroke-width="1"/><rect x="388" y="788.0" width="1" height="29.0" fill="#a81830"/><rect x="386" y="788.5" width="4" height="18.0" fill="#c8102e"/><rect x="392" y="792.0" width="1" height="86.0" fill="#a81830"/><rect x="390" y="794.5" width="4" height="75.0" fill="#c8102e"/><rect x="396" y="831.0" width="1" height="43.0" fill="#111"/><rect x="394.5" y="847.0" width="4" height="20.0" fill="#fff" stroke="#111" stroke-width="1"/><rect x="401" y="828.0" width="1" height="64.0" fill="#a81830"/><rect x="399" y="851.5" width="4" height="32.0" fill="#c8102e"/><rect x="405" y="876.0" width="1" height="82.0" fill="#a81830"/><rect x="403" y="883.5" width="4" height="58.0" fill="#c8102e"/><rect x="410" y="919.0" width="1" height="42.0" fill="#a81830"/><rect x="408" y="940.5" width="4" height="4.0" fill="#c8102e"/><rect x="414" y="867.0" width="1" height="77.0" fill="#111"/><rect x="412.5" y="887.0" width="4" height="54.0" fill="#fff" stroke="#111" stroke-width="1"/><rect x="418" y="857.0" width="1" height="83.0" fill="#a81830"/><rect x="416" y="889.5" width="4" height="41.0" fill="#c8102e"/><rect x="423" y="839.0" width="1" height="69.0" fill="#111"/><rect x="421.5" y="845.0" width="4" height="58.0" fill="#fff" stroke="#111" stroke-width="1"/><rect x="427" y="831.0" width="1" height="32.0" fill="#a81830"/><rect x="425" y="846.5" width="4" height="6.0" fill="#c8102e"/><rect x="432" y="815.0" width="1" height="63.0" fill="#111"/><rect x="430.5" y="821.0" width="4" height="31.0" fill="#fff" stroke="#111" stroke-width="1"/><rect x="436" y="750.0" width="1" height="71.0" fill="#111"/><rect x="434.5" y="758.0" width="4" height="61.0" fill="#fff" stroke="#111" stroke-width="1"/><rect x="440" y="693.0" width="1" height="63.0" fill="#111"/><rect x="438.5" y="698.0" width="4" height="55.0" fill="#fff" stroke="#111" stroke-width="1"/><rect x="445" y="694.0" width="1" height="54.0" fill="#a81830"/><rect x="443" y="711.5" width="4" height="32.0" fill="#c8102e"/><rect x="449" y="738.0" width="1" height="24.0" fill="#a81830"/><rect x="447" y="743.5" width="4" height="14.0" fill="#c8102e"/><rect x="454" y="735.0" width="1" height="56.0" fill="#a81830"/><rect x="452" y="739.5" width="4" height="37.0" fill="#c8102e"/><rect x="458" y="723.0" width="1" height="73.0" fill="#111"/><rect x="456.5" y="728.0" width="4" height="51.0" fill="#fff" stroke="#111" stroke-width="1"/><rect x="462" y="719.0" width="1" height="43.0" fill="#a81830"/><rect x="460" y="739.5" width="4" height="19.0" fill="#c8102e"/><rect x="467" y="755.0" width="1" height="69.0" fill="#a81830"/><rect x="465" y="760.5" width="4" height="48.0" fill="#c8102e"/><rect x="471" y="736.0" width="1" height="77.0" fill="#111"/><rect x="469.5" y="744.0" width="4" height="65.0" fill="#fff" stroke="#111" stroke-width="1"/><rect x="476" y="691.0" width="1" height="46.0" fill="#111"/><rect x="474" y="710.5" width="4" height="3.0" fill="#111"/><rect x="480" y="642.0" width="1" height="71.0" fill="#111"/><rect x="478.5" y="662.0" width="4" height="49.0" fill="#fff" stroke="#111" stroke-width="1"/><rect x="484" y="643.0" width="1" height="50.0" fill="#a81830"/><rect x="482" y="655.5" width="4" height="8.0" fill="#c8102e"/><rect x="489" y="667.0" width="1" height="92.0" fill="#a81830"/><rect x="487" y="676.5" width="4" height="61.0" fill="#c8102e"/><rect x="493" y="708.0" width="1" height="37.0" fill="#111"/><rect x="491.5" y="712.0" width="4" height="24.0" fill="#fff" stroke="#111" stroke-width="1"/><rect x="498" y="654.0" width="1" height="71.0" fill="#111"/><rect x="496.5" y="675.0" width="4" height="34.0" fill="#fff" stroke="#111" stroke-width="1"/><rect x="502" y="663.0" width="1" height="54.0" fill="#a81830"/><rect x="500" y="666.5" width="4" height="36.0" fill="#c8102e"/><rect x="506" y="670.0" width="1" height="68.0" fill="#a81830"/><rect x="504" y="703.5" width="4" height="9.0" fill="#c8102e"/><rect x="511" y="699.0" width="1" height="62.0" fill="#a81830"/><rect x="509" y="709.5" width="4" height="38.0" fill="#c8102e"/><rect x="515" y="743.0" width="1" height="69.0" fill="#a81830"/><rect x="513" y="749.5" width="4" height="58.0" fill="#c8102e"/><rect x="520" y="790.0" width="1" height="40.0" fill="#a81830"/><rect x="518" y="796.5" width="4" height="24.0" fill="#c8102e"/><rect x="524" y="755.0" width="1" height="58.0" fill="#111"/><rect x="522.5" y="772.0" width="4" height="39.0" fill="#fff" stroke="#111" stroke-width="1"/><rect x="528" y="722.0" width="1" height="41.0" fill="#111"/><rect x="526.5" y="729.0" width="4" height="32.0" fill="#fff" stroke="#111" stroke-width="1"/><rect x="533" y="691.0" width="1" height="79.0" fill="#111"/><rect x="531.5" y="705.0" width="4" height="30.0" fill="#fff" stroke="#111" stroke-width="1"/><rect x="537" y="692.0" width="1" height="56.0" fill="#a81830"/><rect x="535" y="707.5" width="4" height="16.0" fill="#c8102e"/><rect x="542" y="685.0" width="1" height="43.0" fill="#111"/><rect x="540.5" y="708.0" width="4" height="18.0" fill="#fff" stroke="#111" stroke-width="1"/><rect x="546" y="661.0" width="1" height="52.0" fill="#111"/><rect x="544" y="699.5" width="4" height="3.0" fill="#111"/><rect x="550" y="650.0" width="1" height="58.0" fill="#111"/><rect x="548.5" y="657.0" width="4" height="45.0" fill="#fff" stroke="#111" stroke-width="1"/><rect x="555" y="632.0" width="1" height="50.0" fill="#a81830"/><rect x="553" y="654.5" width="4" height="22.0" fill="#c8102e"/><rect x="559" y="615.0" width="1" height="67.0" fill="#111"/><rect x="557.5" y="618.0" width="4" height="58.0" fill="#fff" stroke="#111" stroke-width="1"/><rect x="564" y="601.0" width="1" height="57.0" fill="#a81830"/><rect x="562" y="616.5" width="4" height="30.0" fill="#c8102e"/><rect x="568" y="591.0" width="1" height="57.0" fill="#111"/><rect x="566.5" y="636.0" width="4" height="11.0" fill="#fff" stroke="#111" stroke-width="1"/><rect x="572" y="611.0" width="1" height="74.0" fill="#111"/><rect x="570" y="624.5" width="4" height="6.0" fill="#111"/><rect x="577" y="599.0" width="1" height="57.0" fill="#111"/><rect x="575.5" y="606.0" width="4" height="27.0" fill="#fff" stroke="#111" stroke-width="1"/><rect x="581" y="568.0" width="1" height="47.0" fill="#111"/><rect x="579.5" y="577.0" width="4" height="36.0" fill="#fff" stroke="#111" stroke-width="1"/><rect x="586" y="565.0" width="1" height="105.0" fill="#a81830"/><rect x="584" y="569.5" width="4" height="94.0" fill="#c8102e"/><rect x="590" y="658.0" width="1" height="73.0" fill="#a81830"/><rect x="588" y="661.5" width="4" height="56.0" fill="#c8102e"/><rect x="594" y="681.0" width="1" height="46.0" fill="#111"/><rect x="592.5" y="708.0" width="4" height="7.0" fill="#fff" stroke="#111" stroke-width="1"/><rect x="599" y="692.0" width="1" height="56.0" fill="#a81830"/><rect x="597" y="706.5" width="4" height="32.0" fill="#c8102e"/><rect x="603" y="687.0" width="1" height="61.0" fill="#111"/><rect x="601.5" y="699.0" width="4" height="43.0" fill="#fff" stroke="#111" stroke-width="1"/><rect x="608" y="695.0" width="1" height="89.0" fill="#a81830"/><rect x="606" y="696.5" width="4" height="37.0" fill="#c8102e"/><rect x="612" y="701.0" width="1" height="58.0" fill="#111"/><rect x="610.5" y="717.0" width="4" height="16.0" fill="#fff" stroke="#111" stroke-width="1"/><rect x="616" y="697.0" width="1" height="84.0" fill="#a81830"/><rect x="614" y="703.5" width="4" height="64.0" fill="#c8102e"/><rect x="621" y="760.0" width="1" height="35.0" fill="#a81830"/><rect x="619" y="766.5" width="4" height="23.0" fill="#c8102e"/><rect x="625" y="778.0" width="1" height="71.0" fill="#a81830"/><rect x="623" y="781.5" width="4" height="60.0" fill="#c8102e"/><rect x="630" y="810.0" width="1" height="48.0" fill="#a81830"/><rect x="628" y="822.5" width="4" height="31.0" fill="#c8102e"/><rect x="634" y="841.0" width="1" height="42.0" fill="#111"/><rect x="632.5" y="852.0" width="4" height="6.0" fill="#fff" stroke="#111" stroke-width="1"/><rect x="638" y="820.0" width="1" height="47.0" fill="#111"/><rect x="636.5" y="850.0" width="4" height="2.0" fill="#fff" stroke="#111" stroke-width="1"/><rect x="643" y="773.0" width="1" height="79.0" fill="#111"/><rect x="641.5" y="776.0" width="4" height="70.0" fill="#fff" stroke="#111" stroke-width="1"/><rect x="647" y="756.0" width="1" height="38.0" fill="#111"/><rect x="645.5" y="766.0" width="4" height="14.0" fill="#fff" stroke="#111" stroke-width="1"/><rect x="652" y="759.0" width="1" height="44.0" fill="#a81830"/><rect x="650" y="762.5" width="4" height="37.0" fill="#c8102e"/><rect x="656" y="777.0" width="1" height="38.0" fill="#111"/><rect x="654.5" y="786.0" width="4" height="7.0" fill="#fff" stroke="#111" stroke-width="1"/><rect x="660" y="765.0" width="1" height="38.0" fill="#111"/><rect x="658.5" y="776.0" width="4" height="13.0" fill="#fff" stroke="#111" stroke-width="1"/><rect x="665" y="770.0" width="1" height="86.0" fill="#a81830"/><rect x="663" y="777.5" width="4" height="75.0" fill="#c8102e"/><rect x="669" y="844.0" width="1" height="49.0" fill="#a81830"/><rect x="667" y="848.5" width="4" height="41.0" fill="#c8102e"/><rect x="674" y="852.0" width="1" height="39.0" fill="#111"/><rect x="672" y="882.5" width="4" height="3.0" fill="#111"/><rect x="678" y="820.0" width="1" height="69.0" fill="#111"/><rect x="676.5" y="827.0" width="4" height="56.0" fill="#fff" stroke="#111" stroke-width="1"/><rect x="682" y="826.0" width="1" height="34.0" fill="#a81830"/><rect x="680" y="829.5" width="4" height="8.0" fill="#c8102e"/><rect x="687" y="800.0" width="1" height="49.0" fill="#111"/><rect x="685.5" y="811.0" width="4" height="23.0" fill="#fff" stroke="#111" stroke-width="1"/><rect x="691" y="812.0" width="1" height="63.0" fill="#a81830"/><rect x="689" y="815.5" width="4" height="14.0" fill="#c8102e"/><rect x="696" y="830.0" width="1" height="36.0" fill="#a81830"/><rect x="694" y="841.5" width="4" height="18.0" fill="#c8102e"/><rect x="700" y="830.0" width="1" height="53.0" fill="#a81830"/><rect x="698" y="849.5" width="4" height="29.0" fill="#c8102e"/><rect x="704" y="800.0" width="1" height="81.0" fill="#111"/><rect x="702.5" y="827.0" width="4" height="43.0" fill="#fff" stroke="#111" stroke-width="1"/><rect x="709" y="830.0" width="1" height="25.0" fill="#a81830"/><rect x="707" y="838.5" width="4" height="3.0" fill="#c8102e"/><rect x="713" y="823.0" width="1" height="37.0" fill="#111"/><rect x="711.5" y="835.0" width="4" height="6.0" fill="#fff" stroke="#111" stroke-width="1"/><rect x="718" y="808.0" width="1" height="58.0" fill="#a81830"/><rect x="716" y="834.5" width="4" height="27.0" fill="#c8102e"/><rect x="722" y="859.0" width="1" height="52.0" fill="#a81830"/><rect x="720" y="860.5" width="4" height="42.0" fill="#c8102e"/><rect x="726" y="843.0" width="1" height="70.0" fill="#111"/><rect x="724.5" y="858.0" width="4" height="35.0" fill="#fff" stroke="#111" stroke-width="1"/><rect x="731" y="845.0" width="1" height="62.0" fill="#111"/><rect x="729.5" y="853.0" width="4" height="4.0" fill="#fff" stroke="#111" stroke-width="1"/><rect x="735" y="844.0" width="1" height="66.0" fill="#a81830"/><rect x="733" y="850.5" width="4" height="26.0" fill="#c8102e"/><rect x="740" y="877.0" width="1" height="42.0" fill="#a81830"/><rect x="738.5" y="904.0" width="4" height="3.0" fill="#fff" stroke="#c8102e" stroke-width="1"/><rect x="744" y="867.0" width="1" height="51.0" fill="#111"/><rect x="742.5" y="872.0" width="4" height="24.0" fill="#fff" stroke="#111" stroke-width="1"/><rect x="748" y="831.0" width="1" height="55.0" fill="#111"/><rect x="746.5" y="840.0" width="4" height="42.0" fill="#fff" stroke="#111" stroke-width="1"/><rect x="753" y="795.0" width="1" height="35.0" fill="#111"/><rect x="751.5" y="800.0" width="4" height="28.0" fill="#fff" stroke="#111" stroke-width="1"/><rect x="757" y="788.0" width="1" height="28.0" fill="#111"/><rect x="755.5" y="800.0" width="4" height="5.0" fill="#fff" stroke="#111" stroke-width="1"/><rect x="762" y="795.0" width="1" height="84.0" fill="#a81830"/><rect x="760" y="796.5" width="4" height="78.0" fill="#c8102e"/><rect x="766" y="859.0" width="1" height="59.0" fill="#a81830"/><rect x="764" y="870.5" width="4" height="44.0" fill="#c8102e"/><rect x="770" y="911.0" width="1" height="35.0" fill="#a81830"/><rect x="768" y="921.5" width="4" height="17.0" fill="#c8102e"/><rect x="775" y="892.0" width="1" height="49.0" fill="#111"/><rect x="773.5" y="907.0" width="4" height="33.0" fill="#fff" stroke="#111" stroke-width="1"/><rect x="779" y="838.0" width="1" height="64.0" fill="#111"/><rect x="777.5" y="841.0" width="4" height="60.0" fill="#fff" stroke="#111" stroke-width="1"/><rect x="784" y="803.0" width="1" height="65.0" fill="#a81830"/><rect x="782" y="849.5" width="4" height="6.0" fill="#c8102e"/><rect x="788" y="765.0" width="1" height="90.0" fill="#111"/><rect x="786.5" y="771.0" width="4" height="78.0" fill="#fff" stroke="#111" stroke-width="1"/><rect x="792" y="743.0" width="1" height="41.0" fill="#111"/><rect x="790.5" y="755.0" width="4" height="19.0" fill="#fff" stroke="#111" stroke-width="1"/><rect x="797" y="711.0" width="1" height="55.0" fill="#111"/><rect x="795.5" y="724.0" width="4" height="27.0" fill="#fff" stroke="#111" stroke-width="1"/><rect x="801" y="722.0" width="1" height="68.0" fill="#a81830"/><rect x="799" y="732.5" width="4" height="44.0" fill="#c8102e"/><rect x="806" y="775.0" width="1" height="68.0" fill="#a81830"/><rect x="804" y="785.5" width="4" height="53.0" fill="#c8102e"/><rect x="810" y="818.0" width="1" height="41.0" fill="#a81830"/><rect x="808" y="838.5" width="4" height="11.0" fill="#c8102e"/><rect x="814" y="819.0" width="1" height="48.0" fill="#111"/><rect x="812" y="839.5" width="4" height="3.0" fill="#111"/><rect x="819" y="791.0" width="1" height="31.0" fill="#111"/><rect x="817" y="798.5" width="4" height="8.0" fill="#111"/><rect x="823" y="781.0" width="1" height="64.0" fill="#111"/><rect x="821.5" y="785.0" width="4" height="14.0" fill="#fff" stroke="#111" stroke-width="1"/><rect x="828" y="778.0" width="1" height="32.0" fill="#111"/><rect x="826.5" y="785.0" width="4" height="3.0" fill="#fff" stroke="#111" stroke-width="1"/><rect x="832" y="780.0" width="1" height="38.0" fill="#a81830"/><rect x="830" y="782.5" width="4" height="4.0" fill="#c8102e"/><rect x="836" y="751.0" width="1" height="45.0" fill="#111"/><rect x="834.5" y="782.0" width="4" height="11.0" fill="#fff" stroke="#111" stroke-width="1"/><rect x="841" y="780.0" width="1" height="55.0" fill="#a81830"/><rect x="839" y="783.5" width="4" height="29.0" fill="#c8102e"/><rect x="845" y="802.0" width="1" height="31.0" fill="#a81830"/><rect x="843" y="807.5" width="4" height="6.0" fill="#c8102e"/><rect x="850" y="755.0" width="1" height="70.0" fill="#111"/><rect x="848.5" y="769.0" width="4" height="42.0" fill="#fff" stroke="#111" stroke-width="1"/><rect x="854" y="645.0" width="1" height="121.0" fill="#111"/><rect x="852.5" y="651.0" width="4" height="114.0" fill="#fff" stroke="#111" stroke-width="1"/></g>
<path d="M92.2,524.5 h36.1 v10.3 h-13.1 l-5,4.5 l-5,-4.5 h-13.1 z" fill="#fff" stroke="#aaa69c" stroke-width="1"/>
<text x="110.0" y="532.9" font-family="Liberation Sans, sans-serif" font-size="9.6" text-anchor="middle" textLength="31.5" lengthAdjust="spacingAndGlyphs" stroke="#000" stroke-width="0.15">1075.90</text>
<path d="M88.2,668.5 h13.1 l5,-4.5 l5,4.5 h13.1 v10.3 h-36.1 z" fill="#fff" stroke="#aaa69c" stroke-width="1"/>
<text x="106.0" y="676.9" font-family="Liberation Sans, sans-serif" font-size="9.6" text-anchor="middle" textLength="31.5" lengthAdjust="spacingAndGlyphs" stroke="#000" stroke-width="0.15">1021.90</text>
<path d="M147.5,853.5 h10.8 l5,-4.5 l5,4.5 h10.8 v10.3 h-31.6 z" fill="#fff" stroke="#aaa69c" stroke-width="1"/>
<text x="163.0" y="861.9" font-family="Liberation Sans, sans-serif" font-size="9.6" text-anchor="middle" textLength="27.0" lengthAdjust="spacingAndGlyphs" stroke="#000" stroke-width="0.15">945.70</text>
<path d="M180.2,610.5 h36.1 v10.3 h-13.1 l-5,4.5 l-5,-4.5 h-13.1 z" fill="#fff" stroke="#aaa69c" stroke-width="1"/>
<text x="198.0" y="618.9" font-family="Liberation Sans, sans-serif" font-size="9.6" text-anchor="middle" textLength="31.5" lengthAdjust="spacingAndGlyphs" stroke="#000" stroke-width="0.15">1037.50</text>
<path d="M207.2,582.5 h36.1 v10.3 h-13.1 l-5,4.5 l-5,-4.5 h-13.1 z" fill="#fff" stroke="#aaa69c" stroke-width="1"/>
<text x="225.0" y="590.9" font-family="Liberation Sans, sans-serif" font-size="9.6" text-anchor="middle" textLength="31.5" lengthAdjust="spacingAndGlyphs" stroke="#000" stroke-width="0.15">1049.80</text>
<path d="M242.2,600.5 h36.1 v10.3 h-13.1 l-5,4.5 l-5,-4.5 h-13.1 z" fill="#fff" stroke="#aaa69c" stroke-width="1"/>
<text x="260.0" y="608.9" font-family="Liberation Sans, sans-serif" font-size="9.6" text-anchor="middle" textLength="31.5" lengthAdjust="spacingAndGlyphs" stroke="#000" stroke-width="0.15">1042.20</text>
<path d="M196.5,753.5 h10.8 l5,-4.5 l5,4.5 h10.8 v10.3 h-31.6 z" fill="#fff" stroke="#aaa69c" stroke-width="1"/>
<text x="212.0" y="761.9" font-family="Liberation Sans, sans-serif" font-size="9.6" text-anchor="middle" textLength="27.0" lengthAdjust="spacingAndGlyphs" stroke="#000" stroke-width="0.15">986.10</text>
<path d="M288.5,725.5 h31.6 v10.3 h-10.8 l-5,4.5 l-5,-4.5 h-10.8 z" fill="#fff" stroke="#aaa69c" stroke-width="1"/>
<text x="304.0" y="733.9" font-family="Liberation Sans, sans-serif" font-size="9.6" text-anchor="middle" textLength="27.0" lengthAdjust="spacingAndGlyphs" stroke="#000" stroke-width="0.15">989.00</text>
<path d="M275.5,881.5 h10.8 l5,-4.5 l5,4.5 h10.8 v10.3 h-31.6 z" fill="#fff" stroke="#aaa69c" stroke-width="1"/>
<text x="291.0" y="889.9" font-family="Liberation Sans, sans-serif" font-size="9.6" text-anchor="middle" textLength="27.0" lengthAdjust="spacingAndGlyphs" stroke="#000" stroke-width="0.15">934.70</text>
<path d="M301.5,936.5 h10.8 l5,-4.5 l5,4.5 h10.8 v10.3 h-31.6 z" fill="#fff" stroke="#aaa69c" stroke-width="1"/>
<text x="317.0" y="944.9" font-family="Liberation Sans, sans-serif" font-size="9.6" text-anchor="middle" textLength="27.0" lengthAdjust="spacingAndGlyphs" stroke="#000" stroke-width="0.15">913.10</text>
<path d="M367.5,728.5 h31.6 v10.3 h-10.8 l-5,4.5 l-5,-4.5 h-10.8 z" fill="#fff" stroke="#aaa69c" stroke-width="1"/>
<text x="383.0" y="736.9" font-family="Liberation Sans, sans-serif" font-size="9.6" text-anchor="middle" textLength="27.0" lengthAdjust="spacingAndGlyphs" stroke="#000" stroke-width="0.15">987.60</text>
<path d="M394.5,966.5 h10.8 l5,-4.5 l5,4.5 h10.8 v10.3 h-31.6 z" fill="#fff" stroke="#aaa69c" stroke-width="1"/>
<text x="410.0" y="974.9" font-family="Liberation Sans, sans-serif" font-size="9.6" text-anchor="middle" textLength="27.0" lengthAdjust="spacingAndGlyphs" stroke="#000" stroke-width="0.15">902.00</text>
<path d="M422.2,677.5 h36.1 v10.3 h-13.1 l-5,4.5 l-5,-4.5 h-13.1 z" fill="#fff" stroke="#aaa69c" stroke-width="1"/>
<text x="440.0" y="685.9" font-family="Liberation Sans, sans-serif" font-size="9.6" text-anchor="middle" textLength="31.5" lengthAdjust="spacingAndGlyphs" stroke="#000" stroke-width="0.15">1008.80</text>
<path d="M451.5,828.5 h10.8 l5,-4.5 l5,4.5 h10.8 v10.3 h-31.6 z" fill="#fff" stroke="#aaa69c" stroke-width="1"/>
<text x="467.0" y="836.9" font-family="Liberation Sans, sans-serif" font-size="9.6" text-anchor="middle" textLength="27.0" lengthAdjust="spacingAndGlyphs" stroke="#000" stroke-width="0.15">955.60</text>
<path d="M462.2,626.5 h36.1 v10.3 h-13.1 l-5,4.5 l-5,-4.5 h-13.1 z" fill="#fff" stroke="#aaa69c" stroke-width="1"/>
<text x="480.0" y="634.9" font-family="Liberation Sans, sans-serif" font-size="9.6" text-anchor="middle" textLength="31.5" lengthAdjust="spacingAndGlyphs" stroke="#000" stroke-width="0.15">1030.80</text>
<path d="M473.5,763.5 h10.8 l5,-4.5 l5,4.5 h10.8 v10.3 h-31.6 z" fill="#fff" stroke="#aaa69c" stroke-width="1"/>
<text x="489.0" y="771.9" font-family="Liberation Sans, sans-serif" font-size="9.6" text-anchor="middle" textLength="27.0" lengthAdjust="spacingAndGlyphs" stroke="#000" stroke-width="0.15">982.10</text>
<path d="M504.5,834.5 h10.8 l5,-4.5 l5,4.5 h10.8 v10.3 h-31.6 z" fill="#fff" stroke="#aaa69c" stroke-width="1"/>
<text x="520.0" y="842.9" font-family="Liberation Sans, sans-serif" font-size="9.6" text-anchor="middle" textLength="27.0" lengthAdjust="spacingAndGlyphs" stroke="#000" stroke-width="0.15">953.00</text>
<path d="M568.2,549.5 h36.1 v10.3 h-13.1 l-5,4.5 l-5,-4.5 h-13.1 z" fill="#fff" stroke="#aaa69c" stroke-width="1"/>
<text x="586.0" y="557.9" font-family="Liberation Sans, sans-serif" font-size="9.6" text-anchor="middle" textLength="31.5" lengthAdjust="spacingAndGlyphs" stroke="#000" stroke-width="0.15">1064.60</text>
<path d="M631.5,740.5 h31.6 v10.3 h-10.8 l-5,4.5 l-5,-4.5 h-10.8 z" fill="#fff" stroke="#aaa69c" stroke-width="1"/>
<text x="647.0" y="748.9" font-family="Liberation Sans, sans-serif" font-size="9.6" text-anchor="middle" textLength="27.0" lengthAdjust="spacingAndGlyphs" stroke="#000" stroke-width="0.15">982.60</text>
<path d="M618.5,887.5 h10.8 l5,-4.5 l5,4.5 h10.8 v10.3 h-31.6 z" fill="#fff" stroke="#aaa69c" stroke-width="1"/>
<text x="634.0" y="895.9" font-family="Liberation Sans, sans-serif" font-size="9.6" text-anchor="middle" textLength="27.0" lengthAdjust="spacingAndGlyphs" stroke="#000" stroke-width="0.15">932.30</text>
<path d="M653.5,897.5 h10.8 l5,-4.5 l5,4.5 h10.8 v10.3 h-31.6 z" fill="#fff" stroke="#aaa69c" stroke-width="1"/>
<text x="669.0" y="905.9" font-family="Liberation Sans, sans-serif" font-size="9.6" text-anchor="middle" textLength="27.0" lengthAdjust="spacingAndGlyphs" stroke="#000" stroke-width="0.15">928.30</text>
<path d="M671.5,784.5 h31.6 v10.3 h-10.8 l-5,4.5 l-5,-4.5 h-10.8 z" fill="#fff" stroke="#aaa69c" stroke-width="1"/>
<text x="687.0" y="792.9" font-family="Liberation Sans, sans-serif" font-size="9.6" text-anchor="middle" textLength="27.0" lengthAdjust="spacingAndGlyphs" stroke="#000" stroke-width="0.15">964.80</text>
<path d="M724.5,924.5 h10.8 l5,-4.5 l5,4.5 h10.8 v10.3 h-31.6 z" fill="#fff" stroke="#aaa69c" stroke-width="1"/>
<text x="740.0" y="932.9" font-family="Liberation Sans, sans-serif" font-size="9.6" text-anchor="middle" textLength="27.0" lengthAdjust="spacingAndGlyphs" stroke="#000" stroke-width="0.15">918.00</text>
<path d="M741.5,771.5 h31.6 v10.3 h-10.8 l-5,4.5 l-5,-4.5 h-10.8 z" fill="#fff" stroke="#aaa69c" stroke-width="1"/>
<text x="757.0" y="779.9" font-family="Liberation Sans, sans-serif" font-size="9.6" text-anchor="middle" textLength="27.0" lengthAdjust="spacingAndGlyphs" stroke="#000" stroke-width="0.15">969.80</text>
<path d="M754.5,951.5 h10.8 l5,-4.5 l5,4.5 h10.8 v10.3 h-31.6 z" fill="#fff" stroke="#aaa69c" stroke-width="1"/>
<text x="770.0" y="959.9" font-family="Liberation Sans, sans-serif" font-size="9.6" text-anchor="middle" textLength="27.0" lengthAdjust="spacingAndGlyphs" stroke="#000" stroke-width="0.15">907.40</text>
<path d="M779.2,695.5 h36.1 v10.3 h-13.1 l-5,4.5 l-5,-4.5 h-13.1 z" fill="#fff" stroke="#aaa69c" stroke-width="1"/>
<text x="797.0" y="703.9" font-family="Liberation Sans, sans-serif" font-size="9.6" text-anchor="middle" textLength="31.5" lengthAdjust="spacingAndGlyphs" stroke="#000" stroke-width="0.15">1001.30</text>
<path d="M798.5,871.5 h10.8 l5,-4.5 l5,4.5 h10.8 v10.3 h-31.6 z" fill="#fff" stroke="#aaa69c" stroke-width="1"/>
<text x="814.0" y="879.9" font-family="Liberation Sans, sans-serif" font-size="9.6" text-anchor="middle" textLength="27.0" lengthAdjust="spacingAndGlyphs" stroke="#000" stroke-width="0.15">938.50</text>
<line x1="568" y1="562.5" x2="950.5" y2="562.5" stroke="#0000c8" stroke-width="3.2" stroke-linecap="round"/>
<text x="959.8" y="568.8" font-family="Liberation Sans, sans-serif" font-size="17.5" font-weight="bold" fill="#0000c8" textLength="49.4" lengthAdjust="spacingAndGlyphs" stroke="#fff" stroke-width="0.6" paint-order="stroke">$1065</text>
<line x1="929.5" y1="548.6" x2="1051.5" y2="254" stroke="#238a4a" stroke-width="3"/>
<path d="M1056.8,244 L1045.2,252.3 L1056.8,257.7 Z" fill="#238a4a"/>
<text x="1057" y="232.9" font-family="Liberation Sans, sans-serif" font-size="17" font-weight="bold" fill="#238a4a" stroke="#238a4a" stroke-width="0.7" textLength="9" lengthAdjust="spacingAndGlyphs">?</text>
<rect x="895" y="686" width="242" height="111" fill="#a09a90" opacity="0.55"/>
<path d="M855,659.7 L897.6,682.5 L891.6,688 Z" fill="#fff" stroke="#9a9a9a" stroke-width="1"/>
<rect x="891.5" y="682.5" width="242" height="110.5" fill="#fff" stroke="#9a9a9a" stroke-width="1"/>
<path d="M856.5,661 L897,683.5 L892.5,689 Z" fill="#fff"/>
<text x="894.7" y="701.6" font-family="Liberation Sans, sans-serif" font-size="16.8" font-weight="bold" fill="#0000c8" textLength="192.1" lengthAdjust="spacingAndGlyphs">Platinum jumped over</text>
<text x="894.7" y="722.5" font-family="Liberation Sans, sans-serif" font-size="16.8" font-weight="bold" fill="#0000c8" textLength="220.1" lengthAdjust="spacingAndGlyphs">5.00% today. Progressive</text>
<text x="894.7" y="743.3" font-family="Liberation Sans, sans-serif" font-size="16.8" font-weight="bold" fill="#0000c8" textLength="232.8" lengthAdjust="spacingAndGlyphs">closes above $1,065 would</text>
<text x="894.7" y="764.2" font-family="Liberation Sans, sans-serif" font-size="16.8" font-weight="bold" fill="#0000c8" textLength="162.5" lengthAdjust="spacingAndGlyphs">promote an upside</text>
<text x="894.7" y="785.1" font-family="Liberation Sans, sans-serif" font-size="16.8" font-weight="bold" fill="#0000c8" textLength="223.9" lengthAdjust="spacingAndGlyphs">breakout targeting $1,250.</text>
<path d="M19.5,101.5 L23.3,93.6 L25.6,98.6 L27.5,96.2 L27.5,101.5 Z" fill="#6a8444" stroke="#111" stroke-width="1.1" stroke-linejoin="miter"/>
<text x="32" y="101.7" font-family="Liberation Mono, monospace" font-size="10" textLength="78" lengthAdjust="spacingAndGlyphs" stroke="#111" stroke-width="0.25">MFI(14) 52.66</text>
<path d="M19.5,284.5 L23.3,276.6 L25.6,281.6 L27.5,279.2 L27.5,284.5 Z" fill="#6a8444" stroke="#111" stroke-width="1.1" stroke-linejoin="miter"/>
<text x="32" y="284.7" font-family="Liberation Mono, monospace" font-size="10" textLength="81.3" lengthAdjust="spacingAndGlyphs" stroke="#111" stroke-width="0.25">FORCE(0) 0.00</text>
<g fill="#111"><rect x="19" y="461.5" width="9" height="5.5"/><rect x="20" y="460" width="1" height="8"/><rect x="26" y="460" width="1" height="8"/><rect x="23" y="466" width="1" height="2"/></g><rect x="20" y="462.5" width="1" height="3" fill="#fff"/><rect x="26" y="462.5" width="1" height="3.5" fill="#fff"/>
<text x="31.9" y="467.5" font-family="Liberation Mono, monospace" font-size="10" textLength="123.6" lengthAdjust="spacingAndGlyphs" stroke="#111" stroke-width="0.25">$PLAT (Daily) 1027.00</text>
<rect x="19" y="474.5" width="9" height="2" fill="#b01030"/>
<text x="29.5" y="478.3" font-family="Liberation Sans, sans-serif" font-size="9" fill="#b01030" textLength="70" lengthAdjust="spacingAndGlyphs">EMA(50) 963.19</text>
<rect x="19" y="999" width="9" height="2.2" fill="#111"/>
<text x="31.8" y="1003.6" font-family="Liberation Mono, monospace" font-size="10" textLength="119.8" lengthAdjust="spacingAndGlyphs" stroke="#111" stroke-width="0.25">MACD(12,26,9) 9.362</text>
<text x="151.6" y="1003.6" font-family="Liberation Mono, monospace" font-size="10" fill="#e02020" textLength="39.5" lengthAdjust="spacingAndGlyphs" stroke="#e02020" stroke-width="0.25">, 4.811</text>
<text x="191.1" y="1003.6" font-family="Liberation Mono, monospace" font-size="10" fill="#4a9ac6" textLength="39.5" lengthAdjust="spacingAndGlyphs" stroke="#4a9ac6" stroke-width="0.25">, 4.551</text>
<text x="16.8" y="15.9" font-family="Liberation Sans, sans-serif" font-size="13.6" font-weight="bold" textLength="39.7" lengthAdjust="spacingAndGlyphs">$PLAT</text>
<text x="61" y="15.2" font-family="Liberation Sans, sans-serif" font-size="10.5" textLength="178.3" lengthAdjust="spacingAndGlyphs">Platinum - Continuous Contract (EOD)</text>
<text x="245" y="14.7" font-family="Liberation Sans, sans-serif" font-size="9" textLength="21.2" lengthAdjust="spacing">CME</text>
<text x="1296" y="14.5" font-family="Liberation Sans, sans-serif" font-size="10" fill="#444" text-anchor="end">© StockCharts.com</text>
<text x="19.9" y="44.9" font-family="Liberation Sans, sans-serif" font-size="10.5" textLength="27.2" lengthAdjust="spacingAndGlyphs">Open:</text>
<text x="19.9" y="59.1" font-family="Liberation Sans, sans-serif" font-size="10.5" textLength="22.3" lengthAdjust="spacingAndGlyphs">High:</text>
<text x="19.9" y="73.4" font-family="Liberation Sans, sans-serif" font-size="10.5" textLength="23.2" lengthAdjust="spacingAndGlyphs">Low:</text>
<text x="19.9" y="87.8" font-family="Liberation Sans, sans-serif" font-size="10.5" textLength="53.1" lengthAdjust="spacingAndGlyphs">Prev Close:</text>
<text x="78.1" y="44.9" font-family="Liberation Sans, sans-serif" font-size="12" font-weight="bold" textLength="36.9" lengthAdjust="spacingAndGlyphs">979.30</text>
<text x="71.9" y="59.1" font-family="Liberation Sans, sans-serif" font-size="12" font-weight="bold" textLength="43.1" lengthAdjust="spacingAndGlyphs">1029.50</text>
<text x="78.1" y="73.4" font-family="Liberation Sans, sans-serif" font-size="12" font-weight="bold" textLength="36.9" lengthAdjust="spacingAndGlyphs">978.90</text>
<text x="78.1" y="87.8" font-family="Liberation Sans, sans-serif" font-size="12" font-weight="bold" textLength="36.9" lengthAdjust="spacingAndGlyphs">977.30</text>
<text x="148.8" y="44.9" font-family="Liberation Sans, sans-serif" font-size="10.5" textLength="20.6" lengthAdjust="spacingAndGlyphs">Ask:</text>
<text x="148.8" y="59.1" font-family="Liberation Sans, sans-serif" font-size="10.5" textLength="16.1" lengthAdjust="spacingAndGlyphs">Bid:</text>
<text x="148.8" y="73.4" font-family="Liberation Sans, sans-serif" font-size="10.5" textLength="22.4" lengthAdjust="spacingAndGlyphs">Last:</text>
<text x="148.8" y="87.8" font-family="Liberation Sans, sans-serif" font-size="10.5" textLength="52.0" lengthAdjust="spacingAndGlyphs">Optionable:</text>
<text x="219.6" y="88.3" font-family="Liberation Sans, sans-serif" font-size="12" font-weight="bold" textLength="13.4" lengthAdjust="spacingAndGlyphs">no</text>
<text x="266.5" y="44.9" font-family="Liberation Sans, sans-serif" font-size="10.5" textLength="39.9" lengthAdjust="spacingAndGlyphs">Mkt Cap:</text>
<text x="266.5" y="59.1" font-family="Liberation Sans, sans-serif" font-size="10.5" textLength="67.7" lengthAdjust="spacingAndGlyphs">Fwd Dividend:</text>
<text x="266.5" y="73.4" font-family="Liberation Sans, sans-serif" font-size="10.5" textLength="50.7" lengthAdjust="spacingAndGlyphs">Fwd Yield:</text>
<text x="266.5" y="87.8" font-family="Liberation Sans, sans-serif" font-size="10.5" textLength="28.6" lengthAdjust="spacingAndGlyphs">SCTR:</text>
<text x="338.7" y="59.1" font-family="Liberation Sans, sans-serif" font-size="11" font-weight="bold" textLength="18.4" lengthAdjust="spacingAndGlyphs">N/A</text>
<text x="338.7" y="73.4" font-family="Liberation Sans, sans-serif" font-size="11" font-weight="bold" textLength="18.4" lengthAdjust="spacingAndGlyphs">N/A</text>
<text x="390.6" y="44.9" font-family="Liberation Sans, sans-serif" font-size="10.5" textLength="17.0" lengthAdjust="spacingAndGlyphs">P/E:</text>
<text x="390.6" y="59.1" font-family="Liberation Sans, sans-serif" font-size="10.5" textLength="20.6" lengthAdjust="spacingAndGlyphs">EPS:</text>
<text x="390.6" y="73.4" font-family="Liberation Sans, sans-serif" font-size="10.5" textLength="68.1" lengthAdjust="spacingAndGlyphs">Last Earnings:</text>
<text x="390.6" y="87.8" font-family="Liberation Sans, sans-serif" font-size="10.5" textLength="69.0" lengthAdjust="spacingAndGlyphs">Next Earnings:</text>
<text x="1179" y="29.7" font-family="Liberation Sans, sans-serif" font-size="11" textLength="112.0" lengthAdjust="spacingAndGlyphs">Thursday  30-Jan-2025</text>
<path d="M1198,46.8 L1204,35 L1210.2,46.8 Z" fill="#2e7631"/>
<text x="1242.3" y="45.3" font-family="Liberation Sans, sans-serif" font-size="13.5" font-weight="bold" fill="#2f7a2f" textLength="48.7" lengthAdjust="spacingAndGlyphs">+5.09%</text>
<text x="1194.7" y="58.8" font-family="Liberation Sans, sans-serif" font-size="10.5" textLength="20.7" lengthAdjust="spacingAndGlyphs">Chg:</text>
<text x="1253.8" y="58.8" font-family="Liberation Sans, sans-serif" font-size="12" font-weight="bold" textLength="37.2" lengthAdjust="spacingAndGlyphs">+49.70</text>
<text x="1194.7" y="73.3" font-family="Liberation Sans, sans-serif" font-size="10.5" textLength="23.0" lengthAdjust="spacingAndGlyphs">Last:</text>
<text x="1247.9" y="73.3" font-family="Liberation Sans, sans-serif" font-size="12" font-weight="bold" textLength="43.1" lengthAdjust="spacingAndGlyphs">1027.00</text>
<text x="1194.7" y="87.3" font-family="Liberation Sans, sans-serif" font-size="10.5" textLength="37.5" lengthAdjust="spacingAndGlyphs">Volume:</text>
<text x="1237.2" y="87.3" font-family="Liberation Sans, sans-serif" font-size="12" font-weight="bold" textLength="53.8" lengthAdjust="spacingAndGlyphs">4,134,700</text>
</svg></body></html>
